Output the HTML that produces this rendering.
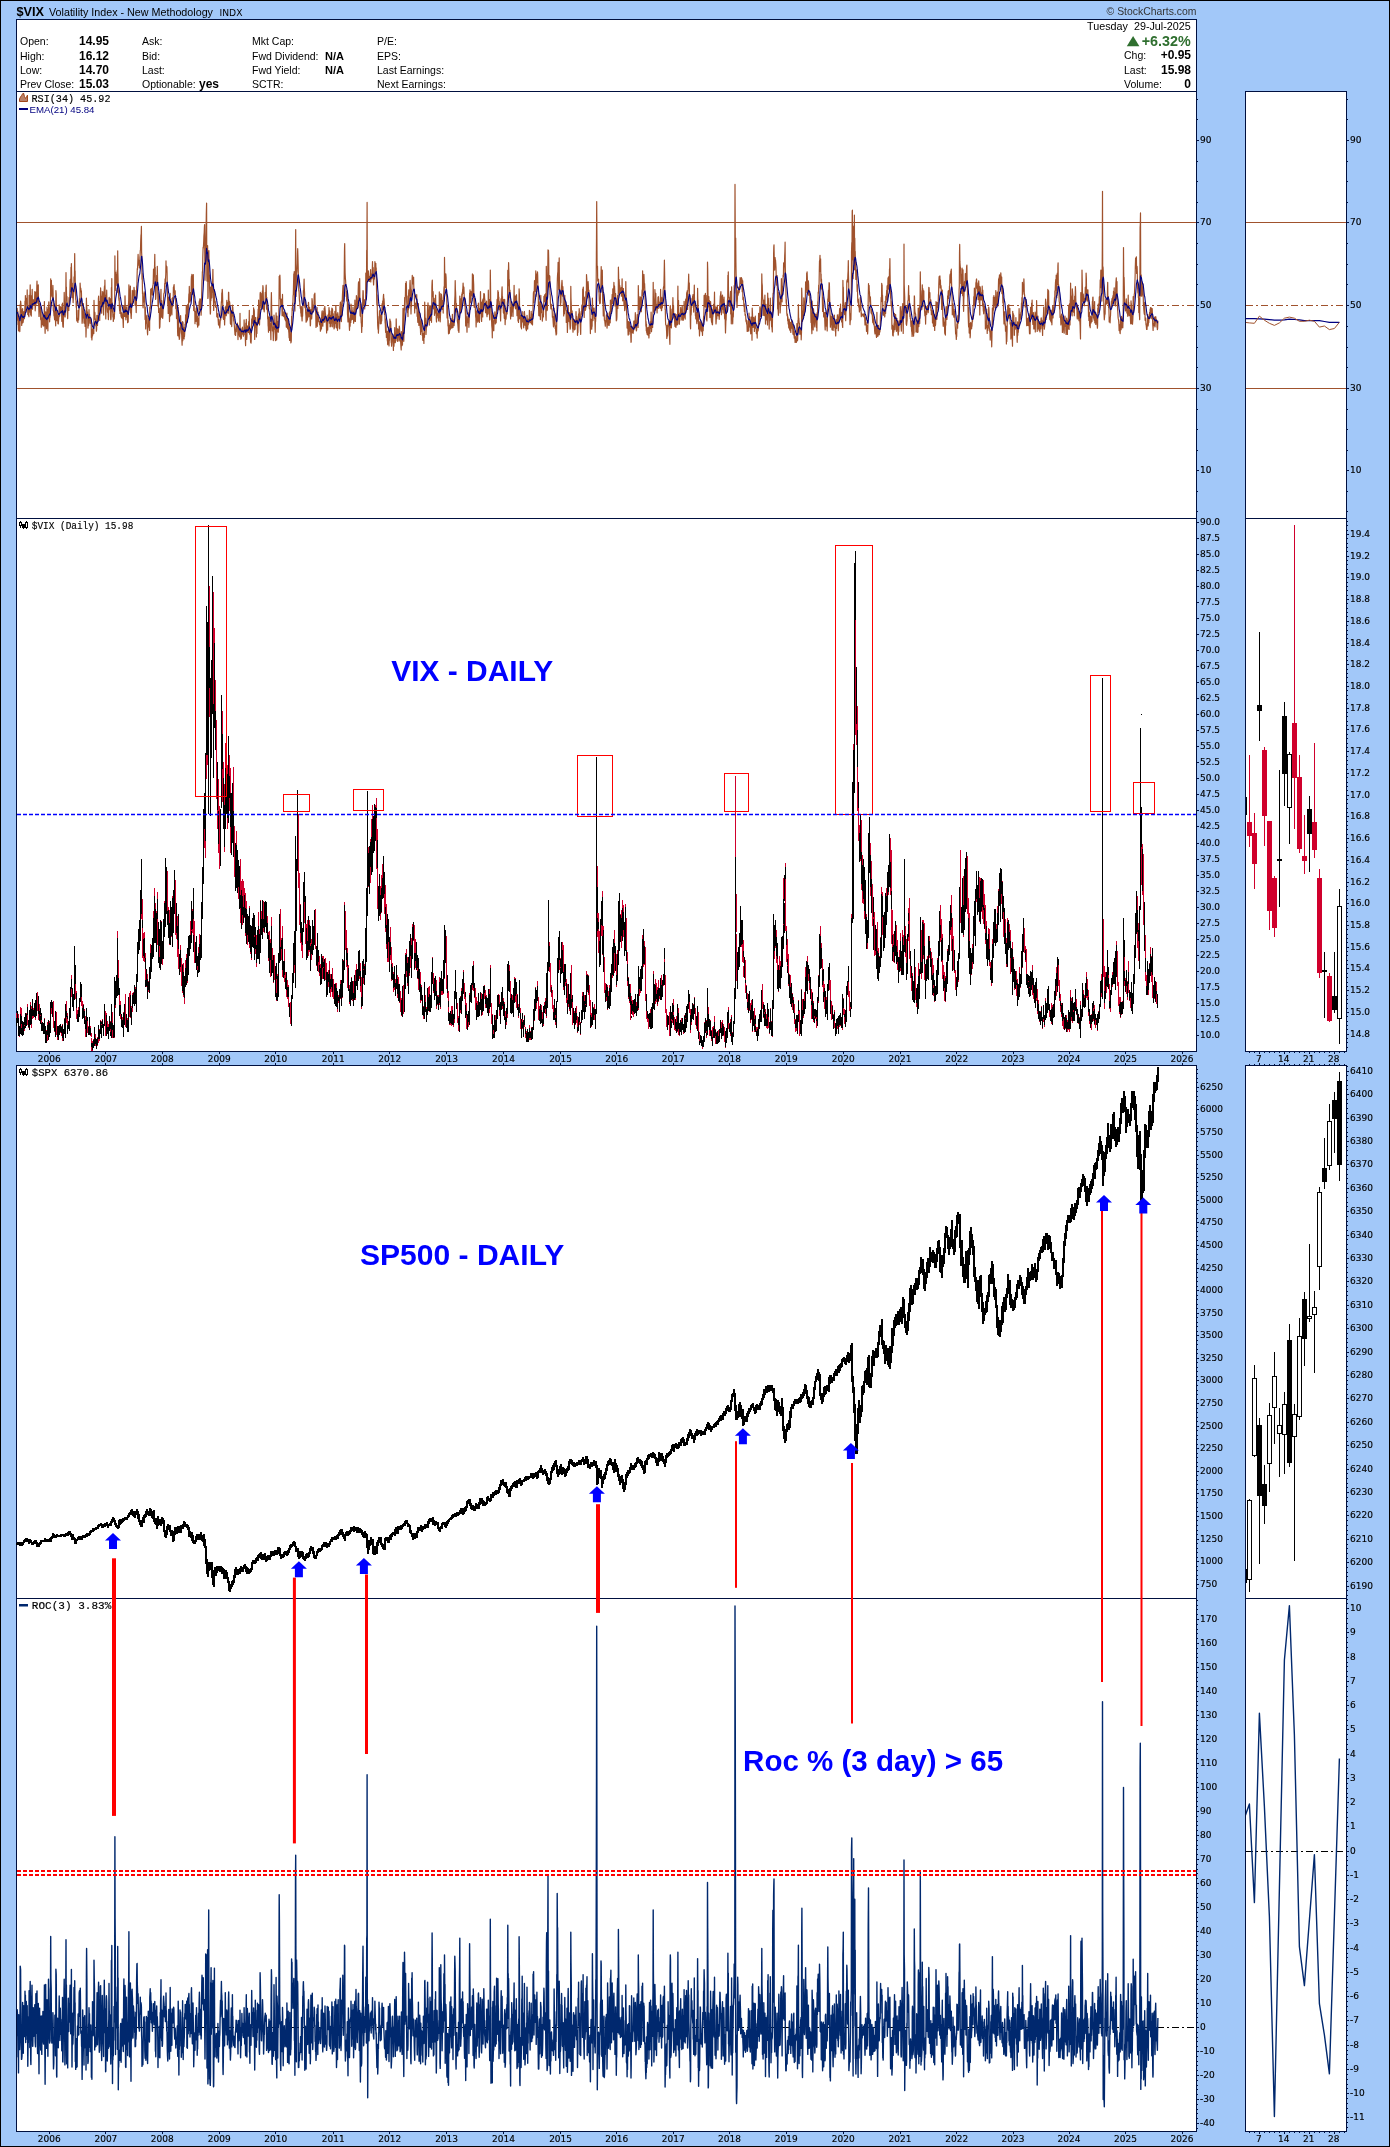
<!DOCTYPE html>
<html><head><meta charset="utf-8"><title>$VIX Volatility Index - StockCharts</title>
<style>html,body{margin:0;padding:0;background:#a2c8f9} svg{display:block;will-change:transform} text{fill:#000} .ax{stroke:#000;stroke-width:0.15px}</style></head>
<body><svg width="1390" height="2147" viewBox="0 0 1390 2147">
<rect x="0" y="0" width="1390" height="2147" fill="#000"/>
<rect x="1" y="1" width="1388" height="2145" fill="#a2c8f9"/>
<rect x="16" y="19" width="1181" height="73" fill="#001040"/>
<rect x="17" y="20" width="1179" height="71" fill="#fff"/>
<rect x="16" y="91" width="1181" height="428" fill="#001040"/>
<rect x="17" y="92" width="1179" height="426" fill="#fff"/>
<rect x="1245" y="91" width="102" height="428" fill="#001040"/>
<rect x="1246" y="92" width="100" height="426" fill="#fff"/>
<rect x="16" y="518" width="1181" height="534" fill="#001040"/>
<rect x="17" y="519" width="1179" height="532" fill="#fff"/>
<rect x="1245" y="518" width="102" height="534" fill="#001040"/>
<rect x="1246" y="519" width="100" height="532" fill="#fff"/>
<rect x="16" y="1065" width="1181" height="534" fill="#001040"/>
<rect x="17" y="1066" width="1179" height="532" fill="#fff"/>
<rect x="1245" y="1065" width="102" height="534" fill="#001040"/>
<rect x="1246" y="1066" width="100" height="532" fill="#fff"/>
<rect x="16" y="1598" width="1181" height="534" fill="#001040"/>
<rect x="17" y="1599" width="1179" height="532" fill="#fff"/>
<rect x="1245" y="1598" width="102" height="534" fill="#001040"/>
<rect x="1246" y="1599" width="100" height="532" fill="#fff"/>
<path d="M1197 511.5h1M1197 491.5h1M1197 470.5h1M1197 450.5h1M1197 429.5h1M1197 409.5h1M1197 388.5h1M1197 367.5h1M1197 347.5h1M1197 326.5h1M1197 305.5h1M1197 284.5h1M1197 264.5h1M1197 243.5h1M1197 222.5h1M1197 202.5h1M1197 181.5h1M1197 161.5h1M1197 140.5h1M1197 119.5h1M1197 99.5h1M1197 140.5h2M1197 222.5h2M1197 305.5h2M1197 388.5h2M1197 470.5h2" stroke="#001040" stroke-width="1" shape-rendering="crispEdges"/>
<text class="ax" x="1200" y="142.8" style="font-family:'DejaVu Sans',sans-serif;font-size:9px">90</text>
<text class="ax" x="1200" y="224.8" style="font-family:'DejaVu Sans',sans-serif;font-size:9px">70</text>
<text class="ax" x="1200" y="307.8" style="font-family:'DejaVu Sans',sans-serif;font-size:9px">50</text>
<text class="ax" x="1200" y="390.8" style="font-family:'DejaVu Sans',sans-serif;font-size:9px">30</text>
<text class="ax" x="1200" y="472.8" style="font-family:'DejaVu Sans',sans-serif;font-size:9px">10</text>
<path d="M1347 511.5h1M1347 491.5h1M1347 470.5h1M1347 450.5h1M1347 429.5h1M1347 409.5h1M1347 388.5h1M1347 367.5h1M1347 347.5h1M1347 326.5h1M1347 305.5h1M1347 284.5h1M1347 264.5h1M1347 243.5h1M1347 222.5h1M1347 202.5h1M1347 181.5h1M1347 161.5h1M1347 140.5h1M1347 119.5h1M1347 99.5h1M1347 140.5h2M1347 222.5h2M1347 305.5h2M1347 388.5h2M1347 470.5h2" stroke="#001040" stroke-width="1" shape-rendering="crispEdges"/>
<text class="ax" x="1350" y="142.8" style="font-family:'DejaVu Sans',sans-serif;font-size:9px">90</text>
<text class="ax" x="1350" y="224.8" style="font-family:'DejaVu Sans',sans-serif;font-size:9px">70</text>
<text class="ax" x="1350" y="307.8" style="font-family:'DejaVu Sans',sans-serif;font-size:9px">50</text>
<text class="ax" x="1350" y="390.8" style="font-family:'DejaVu Sans',sans-serif;font-size:9px">30</text>
<text class="ax" x="1350" y="472.8" style="font-family:'DejaVu Sans',sans-serif;font-size:9px">10</text>
<path d="M1197 1035.5h2M1197 1019.5h2M1197 1003.5h2M1197 987.5h2M1197 971.5h2M1197 955.5h2M1197 939.5h2M1197 923.5h2M1197 907.5h2M1197 891.5h2M1197 875.5h2M1197 859.5h2M1197 843.5h2M1197 826.5h2M1197 810.5h2M1197 794.5h2M1197 778.5h2M1197 762.5h2M1197 746.5h2M1197 730.5h2M1197 714.5h2M1197 698.5h2M1197 682.5h2M1197 666.5h2M1197 650.5h2M1197 634.5h2M1197 618.5h2M1197 602.5h2M1197 586.5h2M1197 570.5h2M1197 554.5h2M1197 538.5h2M1197 522.5h2" stroke="#001040" stroke-width="1" shape-rendering="crispEdges"/>
<text class="ax" x="1200" y="1037.8" style="font-family:'DejaVu Sans',sans-serif;font-size:9px">10.0</text>
<text class="ax" x="1200" y="1021.8" style="font-family:'DejaVu Sans',sans-serif;font-size:9px">12.5</text>
<text class="ax" x="1200" y="1005.8" style="font-family:'DejaVu Sans',sans-serif;font-size:9px">15.0</text>
<text class="ax" x="1200" y="989.8" style="font-family:'DejaVu Sans',sans-serif;font-size:9px">17.5</text>
<text class="ax" x="1200" y="973.8" style="font-family:'DejaVu Sans',sans-serif;font-size:9px">20.0</text>
<text class="ax" x="1200" y="957.8" style="font-family:'DejaVu Sans',sans-serif;font-size:9px">22.5</text>
<text class="ax" x="1200" y="941.8" style="font-family:'DejaVu Sans',sans-serif;font-size:9px">25.0</text>
<text class="ax" x="1200" y="925.8" style="font-family:'DejaVu Sans',sans-serif;font-size:9px">27.5</text>
<text class="ax" x="1200" y="909.8" style="font-family:'DejaVu Sans',sans-serif;font-size:9px">30.0</text>
<text class="ax" x="1200" y="893.8" style="font-family:'DejaVu Sans',sans-serif;font-size:9px">32.5</text>
<text class="ax" x="1200" y="877.8" style="font-family:'DejaVu Sans',sans-serif;font-size:9px">35.0</text>
<text class="ax" x="1200" y="861.8" style="font-family:'DejaVu Sans',sans-serif;font-size:9px">37.5</text>
<text class="ax" x="1200" y="845.8" style="font-family:'DejaVu Sans',sans-serif;font-size:9px">40.0</text>
<text class="ax" x="1200" y="828.8" style="font-family:'DejaVu Sans',sans-serif;font-size:9px">42.5</text>
<text class="ax" x="1200" y="812.8" style="font-family:'DejaVu Sans',sans-serif;font-size:9px">45.0</text>
<text class="ax" x="1200" y="796.8" style="font-family:'DejaVu Sans',sans-serif;font-size:9px">47.5</text>
<text class="ax" x="1200" y="780.8" style="font-family:'DejaVu Sans',sans-serif;font-size:9px">50.0</text>
<text class="ax" x="1200" y="764.8" style="font-family:'DejaVu Sans',sans-serif;font-size:9px">52.5</text>
<text class="ax" x="1200" y="748.8" style="font-family:'DejaVu Sans',sans-serif;font-size:9px">55.0</text>
<text class="ax" x="1200" y="732.8" style="font-family:'DejaVu Sans',sans-serif;font-size:9px">57.5</text>
<text class="ax" x="1200" y="716.8" style="font-family:'DejaVu Sans',sans-serif;font-size:9px">60.0</text>
<text class="ax" x="1200" y="700.8" style="font-family:'DejaVu Sans',sans-serif;font-size:9px">62.5</text>
<text class="ax" x="1200" y="684.8" style="font-family:'DejaVu Sans',sans-serif;font-size:9px">65.0</text>
<text class="ax" x="1200" y="668.8" style="font-family:'DejaVu Sans',sans-serif;font-size:9px">67.5</text>
<text class="ax" x="1200" y="652.8" style="font-family:'DejaVu Sans',sans-serif;font-size:9px">70.0</text>
<text class="ax" x="1200" y="636.8" style="font-family:'DejaVu Sans',sans-serif;font-size:9px">72.5</text>
<text class="ax" x="1200" y="620.8" style="font-family:'DejaVu Sans',sans-serif;font-size:9px">75.0</text>
<text class="ax" x="1200" y="604.8" style="font-family:'DejaVu Sans',sans-serif;font-size:9px">77.5</text>
<text class="ax" x="1200" y="588.8" style="font-family:'DejaVu Sans',sans-serif;font-size:9px">80.0</text>
<text class="ax" x="1200" y="572.8" style="font-family:'DejaVu Sans',sans-serif;font-size:9px">82.5</text>
<text class="ax" x="1200" y="556.8" style="font-family:'DejaVu Sans',sans-serif;font-size:9px">85.0</text>
<text class="ax" x="1200" y="540.8" style="font-family:'DejaVu Sans',sans-serif;font-size:9px">87.5</text>
<text class="ax" x="1200" y="524.8" style="font-family:'DejaVu Sans',sans-serif;font-size:9px">90.0</text>
<path d="M1197 1588.5h1M1197 1584.5h1M1197 1579.5h1M1197 1575.5h1M1197 1570.5h1M1197 1566.5h1M1197 1561.5h1M1197 1557.5h1M1197 1552.5h1M1197 1548.5h1M1197 1543.5h1M1197 1539.5h1M1197 1534.5h1M1197 1530.5h1M1197 1525.5h1M1197 1520.5h1M1197 1516.5h1M1197 1511.5h1M1197 1507.5h1M1197 1502.5h1M1197 1498.5h1M1197 1493.5h1M1197 1489.5h1M1197 1484.5h1M1197 1480.5h1M1197 1475.5h1M1197 1471.5h1M1197 1466.5h1M1197 1462.5h1M1197 1457.5h1M1197 1453.5h1M1197 1448.5h1M1197 1444.5h1M1197 1439.5h1M1197 1435.5h1M1197 1430.5h1M1197 1426.5h1M1197 1421.5h1M1197 1417.5h1M1197 1412.5h1M1197 1408.5h1M1197 1403.5h1M1197 1399.5h1M1197 1394.5h1M1197 1390.5h1M1197 1385.5h1M1197 1380.5h1M1197 1376.5h1M1197 1371.5h1M1197 1367.5h1M1197 1362.5h1M1197 1358.5h1M1197 1353.5h1M1197 1349.5h1M1197 1344.5h1M1197 1340.5h1M1197 1335.5h1M1197 1331.5h1M1197 1326.5h1M1197 1322.5h1M1197 1317.5h1M1197 1313.5h1M1197 1308.5h1M1197 1304.5h1M1197 1299.5h1M1197 1295.5h1M1197 1290.5h1M1197 1286.5h1M1197 1281.5h1M1197 1277.5h1M1197 1272.5h1M1197 1268.5h1M1197 1263.5h1M1197 1259.5h1M1197 1254.5h1M1197 1249.5h1M1197 1245.5h1M1197 1240.5h1M1197 1236.5h1M1197 1231.5h1M1197 1227.5h1M1197 1222.5h1M1197 1218.5h1M1197 1213.5h1M1197 1209.5h1M1197 1204.5h1M1197 1200.5h1M1197 1195.5h1M1197 1191.5h1M1197 1186.5h1M1197 1182.5h1M1197 1177.5h1M1197 1173.5h1M1197 1168.5h1M1197 1164.5h1M1197 1159.5h1M1197 1155.5h1M1197 1150.5h1M1197 1146.5h1M1197 1141.5h1M1197 1137.5h1M1197 1132.5h1M1197 1128.5h1M1197 1123.5h1M1197 1119.5h1M1197 1114.5h1M1197 1109.5h1M1197 1105.5h1M1197 1100.5h1M1197 1096.5h1M1197 1091.5h1M1197 1087.5h1M1197 1082.5h1M1197 1078.5h1M1197 1073.5h1M1197 1069.5h1M1197 1584.5h2M1197 1561.5h2M1197 1539.5h2M1197 1516.5h2M1197 1493.5h2M1197 1471.5h2M1197 1448.5h2M1197 1426.5h2M1197 1403.5h2M1197 1380.5h2M1197 1358.5h2M1197 1335.5h2M1197 1313.5h2M1197 1290.5h2M1197 1268.5h2M1197 1245.5h2M1197 1222.5h2M1197 1200.5h2M1197 1177.5h2M1197 1155.5h2M1197 1132.5h2M1197 1109.5h2M1197 1087.5h2" stroke="#001040" stroke-width="1" shape-rendering="crispEdges"/>
<text class="ax" x="1200" y="1586.8" style="font-family:'DejaVu Sans',sans-serif;font-size:9px">750</text>
<text class="ax" x="1200" y="1563.8" style="font-family:'DejaVu Sans',sans-serif;font-size:9px">1000</text>
<text class="ax" x="1200" y="1541.8" style="font-family:'DejaVu Sans',sans-serif;font-size:9px">1250</text>
<text class="ax" x="1200" y="1518.8" style="font-family:'DejaVu Sans',sans-serif;font-size:9px">1500</text>
<text class="ax" x="1200" y="1495.8" style="font-family:'DejaVu Sans',sans-serif;font-size:9px">1750</text>
<text class="ax" x="1200" y="1473.8" style="font-family:'DejaVu Sans',sans-serif;font-size:9px">2000</text>
<text class="ax" x="1200" y="1450.8" style="font-family:'DejaVu Sans',sans-serif;font-size:9px">2250</text>
<text class="ax" x="1200" y="1428.8" style="font-family:'DejaVu Sans',sans-serif;font-size:9px">2500</text>
<text class="ax" x="1200" y="1405.8" style="font-family:'DejaVu Sans',sans-serif;font-size:9px">2750</text>
<text class="ax" x="1200" y="1382.8" style="font-family:'DejaVu Sans',sans-serif;font-size:9px">3000</text>
<text class="ax" x="1200" y="1360.8" style="font-family:'DejaVu Sans',sans-serif;font-size:9px">3250</text>
<text class="ax" x="1200" y="1337.8" style="font-family:'DejaVu Sans',sans-serif;font-size:9px">3500</text>
<text class="ax" x="1200" y="1315.8" style="font-family:'DejaVu Sans',sans-serif;font-size:9px">3750</text>
<text class="ax" x="1200" y="1292.8" style="font-family:'DejaVu Sans',sans-serif;font-size:9px">4000</text>
<text class="ax" x="1200" y="1270.8" style="font-family:'DejaVu Sans',sans-serif;font-size:9px">4250</text>
<text class="ax" x="1200" y="1247.8" style="font-family:'DejaVu Sans',sans-serif;font-size:9px">4500</text>
<text class="ax" x="1200" y="1224.8" style="font-family:'DejaVu Sans',sans-serif;font-size:9px">4750</text>
<text class="ax" x="1200" y="1202.8" style="font-family:'DejaVu Sans',sans-serif;font-size:9px">5000</text>
<text class="ax" x="1200" y="1179.8" style="font-family:'DejaVu Sans',sans-serif;font-size:9px">5250</text>
<text class="ax" x="1200" y="1157.8" style="font-family:'DejaVu Sans',sans-serif;font-size:9px">5500</text>
<text class="ax" x="1200" y="1134.8" style="font-family:'DejaVu Sans',sans-serif;font-size:9px">5750</text>
<text class="ax" x="1200" y="1111.8" style="font-family:'DejaVu Sans',sans-serif;font-size:9px">6000</text>
<text class="ax" x="1200" y="1089.8" style="font-family:'DejaVu Sans',sans-serif;font-size:9px">6250</text>
<path d="M1197 2128.5h1M1197 2123.5h1M1197 2118.5h1M1197 2113.5h1M1197 2109.5h1M1197 2104.5h1M1197 2099.5h1M1197 2094.5h1M1197 2089.5h1M1197 2085.5h1M1197 2080.5h1M1197 2075.5h1M1197 2070.5h1M1197 2065.5h1M1197 2061.5h1M1197 2056.5h1M1197 2051.5h1M1197 2046.5h1M1197 2041.5h1M1197 2037.5h1M1197 2032.5h1M1197 2027.5h1M1197 2022.5h1M1197 2017.5h1M1197 2013.5h1M1197 2008.5h1M1197 2003.5h1M1197 1998.5h1M1197 1993.5h1M1197 1989.5h1M1197 1984.5h1M1197 1979.5h1M1197 1974.5h1M1197 1969.5h1M1197 1965.5h1M1197 1960.5h1M1197 1955.5h1M1197 1950.5h1M1197 1945.5h1M1197 1941.5h1M1197 1936.5h1M1197 1931.5h1M1197 1926.5h1M1197 1921.5h1M1197 1917.5h1M1197 1912.5h1M1197 1907.5h1M1197 1902.5h1M1197 1897.5h1M1197 1893.5h1M1197 1888.5h1M1197 1883.5h1M1197 1878.5h1M1197 1873.5h1M1197 1869.5h1M1197 1864.5h1M1197 1859.5h1M1197 1854.5h1M1197 1849.5h1M1197 1845.5h1M1197 1840.5h1M1197 1835.5h1M1197 1830.5h1M1197 1825.5h1M1197 1821.5h1M1197 1816.5h1M1197 1811.5h1M1197 1806.5h1M1197 1801.5h1M1197 1797.5h1M1197 1792.5h1M1197 1787.5h1M1197 1782.5h1M1197 1777.5h1M1197 1773.5h1M1197 1768.5h1M1197 1763.5h1M1197 1758.5h1M1197 1753.5h1M1197 1749.5h1M1197 1744.5h1M1197 1739.5h1M1197 1734.5h1M1197 1729.5h1M1197 1725.5h1M1197 1720.5h1M1197 1715.5h1M1197 1710.5h1M1197 1705.5h1M1197 1701.5h1M1197 1696.5h1M1197 1691.5h1M1197 1686.5h1M1197 1681.5h1M1197 1677.5h1M1197 1672.5h1M1197 1667.5h1M1197 1662.5h1M1197 1657.5h1M1197 1653.5h1M1197 1648.5h1M1197 1643.5h1M1197 1638.5h1M1197 1633.5h1M1197 1629.5h1M1197 1624.5h1M1197 1619.5h1M1197 1614.5h1M1197 1609.5h1M1197 1605.5h1M1197 1600.5h1M1197 2123.5h2M1197 2099.5h2M1197 2075.5h2M1197 2051.5h2M1197 2027.5h2M1197 2003.5h2M1197 1979.5h2M1197 1955.5h2M1197 1931.5h2M1197 1907.5h2M1197 1883.5h2M1197 1859.5h2M1197 1835.5h2M1197 1811.5h2M1197 1787.5h2M1197 1763.5h2M1197 1739.5h2M1197 1715.5h2M1197 1691.5h2M1197 1667.5h2M1197 1643.5h2M1197 1619.5h2" stroke="#001040" stroke-width="1" shape-rendering="crispEdges"/>
<text class="ax" x="1200" y="2125.8" style="font-family:'DejaVu Sans',sans-serif;font-size:9px">-40</text>
<text class="ax" x="1200" y="2101.8" style="font-family:'DejaVu Sans',sans-serif;font-size:9px">-30</text>
<text class="ax" x="1200" y="2077.8" style="font-family:'DejaVu Sans',sans-serif;font-size:9px">-20</text>
<text class="ax" x="1200" y="2053.8" style="font-family:'DejaVu Sans',sans-serif;font-size:9px">-10</text>
<text class="ax" x="1200" y="2029.8" style="font-family:'DejaVu Sans',sans-serif;font-size:9px">0</text>
<text class="ax" x="1200" y="2005.8" style="font-family:'DejaVu Sans',sans-serif;font-size:9px">10</text>
<text class="ax" x="1200" y="1981.8" style="font-family:'DejaVu Sans',sans-serif;font-size:9px">20</text>
<text class="ax" x="1200" y="1957.8" style="font-family:'DejaVu Sans',sans-serif;font-size:9px">30</text>
<text class="ax" x="1200" y="1933.8" style="font-family:'DejaVu Sans',sans-serif;font-size:9px">40</text>
<text class="ax" x="1200" y="1909.8" style="font-family:'DejaVu Sans',sans-serif;font-size:9px">50</text>
<text class="ax" x="1200" y="1885.8" style="font-family:'DejaVu Sans',sans-serif;font-size:9px">60</text>
<text class="ax" x="1200" y="1861.8" style="font-family:'DejaVu Sans',sans-serif;font-size:9px">70</text>
<text class="ax" x="1200" y="1837.8" style="font-family:'DejaVu Sans',sans-serif;font-size:9px">80</text>
<text class="ax" x="1200" y="1813.8" style="font-family:'DejaVu Sans',sans-serif;font-size:9px">90</text>
<text class="ax" x="1200" y="1789.8" style="font-family:'DejaVu Sans',sans-serif;font-size:9px">100</text>
<text class="ax" x="1200" y="1765.8" style="font-family:'DejaVu Sans',sans-serif;font-size:9px">110</text>
<text class="ax" x="1200" y="1741.8" style="font-family:'DejaVu Sans',sans-serif;font-size:9px">120</text>
<text class="ax" x="1200" y="1717.8" style="font-family:'DejaVu Sans',sans-serif;font-size:9px">130</text>
<text class="ax" x="1200" y="1693.8" style="font-family:'DejaVu Sans',sans-serif;font-size:9px">140</text>
<text class="ax" x="1200" y="1669.8" style="font-family:'DejaVu Sans',sans-serif;font-size:9px">150</text>
<text class="ax" x="1200" y="1645.8" style="font-family:'DejaVu Sans',sans-serif;font-size:9px">160</text>
<text class="ax" x="1200" y="1621.8" style="font-family:'DejaVu Sans',sans-serif;font-size:9px">170</text>
<path d="M1347 1047.5h1M1347 1042.5h1M1347 1038.5h1M1347 1034.5h1M1347 1029.5h1M1347 1025.5h1M1347 1021.5h1M1347 1016.5h1M1347 1012.5h1M1347 1008.5h1M1347 1003.5h1M1347 999.5h1M1347 995.5h1M1347 990.5h1M1347 986.5h1M1347 982.5h1M1347 977.5h1M1347 973.5h1M1347 968.5h1M1347 964.5h1M1347 960.5h1M1347 955.5h1M1347 951.5h1M1347 947.5h1M1347 942.5h1M1347 938.5h1M1347 934.5h1M1347 929.5h1M1347 925.5h1M1347 921.5h1M1347 916.5h1M1347 912.5h1M1347 908.5h1M1347 903.5h1M1347 899.5h1M1347 895.5h1M1347 890.5h1M1347 886.5h1M1347 882.5h1M1347 877.5h1M1347 873.5h1M1347 869.5h1M1347 864.5h1M1347 860.5h1M1347 856.5h1M1347 851.5h1M1347 847.5h1M1347 842.5h1M1347 838.5h1M1347 834.5h1M1347 829.5h1M1347 825.5h1M1347 821.5h1M1347 816.5h1M1347 812.5h1M1347 808.5h1M1347 803.5h1M1347 799.5h1M1347 795.5h1M1347 790.5h1M1347 786.5h1M1347 782.5h1M1347 777.5h1M1347 773.5h1M1347 769.5h1M1347 764.5h1M1347 760.5h1M1347 756.5h1M1347 751.5h1M1347 747.5h1M1347 743.5h1M1347 738.5h1M1347 734.5h1M1347 729.5h1M1347 725.5h1M1347 721.5h1M1347 716.5h1M1347 712.5h1M1347 708.5h1M1347 703.5h1M1347 699.5h1M1347 695.5h1M1347 690.5h1M1347 686.5h1M1347 682.5h1M1347 677.5h1M1347 673.5h1M1347 669.5h1M1347 664.5h1M1347 660.5h1M1347 656.5h1M1347 651.5h1M1347 647.5h1M1347 643.5h1M1347 638.5h1M1347 634.5h1M1347 630.5h1M1347 625.5h1M1347 621.5h1M1347 616.5h1M1347 612.5h1M1347 608.5h1M1347 603.5h1M1347 599.5h1M1347 595.5h1M1347 590.5h1M1347 586.5h1M1347 582.5h1M1347 577.5h1M1347 573.5h1M1347 569.5h1M1347 564.5h1M1347 560.5h1M1347 556.5h1M1347 551.5h1M1347 547.5h1M1347 543.5h1M1347 538.5h1M1347 534.5h1M1347 530.5h1M1347 525.5h1M1347 521.5h1M1347 1034.5h2M1347 1012.5h2M1347 990.5h2M1347 968.5h2M1347 947.5h2M1347 925.5h2M1347 903.5h2M1347 882.5h2M1347 860.5h2M1347 838.5h2M1347 816.5h2M1347 795.5h2M1347 773.5h2M1347 751.5h2M1347 729.5h2M1347 708.5h2M1347 686.5h2M1347 664.5h2M1347 643.5h2M1347 621.5h2M1347 599.5h2M1347 577.5h2M1347 556.5h2M1347 534.5h2" stroke="#001040" stroke-width="1" shape-rendering="crispEdges"/>
<text class="ax" x="1350" y="1036.8" style="font-family:'DejaVu Sans',sans-serif;font-size:9px">14.8</text>
<text class="ax" x="1350" y="1014.8" style="font-family:'DejaVu Sans',sans-serif;font-size:9px">15.0</text>
<text class="ax" x="1350" y="992.8" style="font-family:'DejaVu Sans',sans-serif;font-size:9px">15.2</text>
<text class="ax" x="1350" y="970.8" style="font-family:'DejaVu Sans',sans-serif;font-size:9px">15.4</text>
<text class="ax" x="1350" y="949.8" style="font-family:'DejaVu Sans',sans-serif;font-size:9px">15.6</text>
<text class="ax" x="1350" y="927.8" style="font-family:'DejaVu Sans',sans-serif;font-size:9px">15.8</text>
<text class="ax" x="1350" y="905.8" style="font-family:'DejaVu Sans',sans-serif;font-size:9px">16.0</text>
<text class="ax" x="1350" y="884.8" style="font-family:'DejaVu Sans',sans-serif;font-size:9px">16.2</text>
<text class="ax" x="1350" y="862.8" style="font-family:'DejaVu Sans',sans-serif;font-size:9px">16.4</text>
<text class="ax" x="1350" y="840.8" style="font-family:'DejaVu Sans',sans-serif;font-size:9px">16.6</text>
<text class="ax" x="1350" y="818.8" style="font-family:'DejaVu Sans',sans-serif;font-size:9px">16.8</text>
<text class="ax" x="1350" y="797.8" style="font-family:'DejaVu Sans',sans-serif;font-size:9px">17.0</text>
<text class="ax" x="1350" y="775.8" style="font-family:'DejaVu Sans',sans-serif;font-size:9px">17.2</text>
<text class="ax" x="1350" y="753.8" style="font-family:'DejaVu Sans',sans-serif;font-size:9px">17.4</text>
<text class="ax" x="1350" y="731.8" style="font-family:'DejaVu Sans',sans-serif;font-size:9px">17.6</text>
<text class="ax" x="1350" y="710.8" style="font-family:'DejaVu Sans',sans-serif;font-size:9px">17.8</text>
<text class="ax" x="1350" y="688.8" style="font-family:'DejaVu Sans',sans-serif;font-size:9px">18.0</text>
<text class="ax" x="1350" y="666.8" style="font-family:'DejaVu Sans',sans-serif;font-size:9px">18.2</text>
<text class="ax" x="1350" y="645.8" style="font-family:'DejaVu Sans',sans-serif;font-size:9px">18.4</text>
<text class="ax" x="1350" y="623.8" style="font-family:'DejaVu Sans',sans-serif;font-size:9px">18.6</text>
<text class="ax" x="1350" y="601.8" style="font-family:'DejaVu Sans',sans-serif;font-size:9px">18.8</text>
<text class="ax" x="1350" y="579.8" style="font-family:'DejaVu Sans',sans-serif;font-size:9px">19.0</text>
<text class="ax" x="1350" y="558.8" style="font-family:'DejaVu Sans',sans-serif;font-size:9px">19.2</text>
<text class="ax" x="1350" y="536.8" style="font-family:'DejaVu Sans',sans-serif;font-size:9px">19.4</text>
<path d="M1347 1595.5h1M1347 1590.5h1M1347 1586.5h1M1347 1581.5h1M1347 1576.5h1M1347 1572.5h1M1347 1567.5h1M1347 1562.5h1M1347 1558.5h1M1347 1553.5h1M1347 1548.5h1M1347 1544.5h1M1347 1539.5h1M1347 1534.5h1M1347 1530.5h1M1347 1525.5h1M1347 1520.5h1M1347 1515.5h1M1347 1511.5h1M1347 1506.5h1M1347 1501.5h1M1347 1497.5h1M1347 1492.5h1M1347 1487.5h1M1347 1483.5h1M1347 1478.5h1M1347 1473.5h1M1347 1469.5h1M1347 1464.5h1M1347 1459.5h1M1347 1455.5h1M1347 1450.5h1M1347 1445.5h1M1347 1441.5h1M1347 1436.5h1M1347 1431.5h1M1347 1427.5h1M1347 1422.5h1M1347 1417.5h1M1347 1412.5h1M1347 1408.5h1M1347 1403.5h1M1347 1398.5h1M1347 1394.5h1M1347 1389.5h1M1347 1384.5h1M1347 1380.5h1M1347 1375.5h1M1347 1370.5h1M1347 1366.5h1M1347 1361.5h1M1347 1356.5h1M1347 1352.5h1M1347 1347.5h1M1347 1342.5h1M1347 1338.5h1M1347 1333.5h1M1347 1328.5h1M1347 1324.5h1M1347 1319.5h1M1347 1314.5h1M1347 1309.5h1M1347 1305.5h1M1347 1300.5h1M1347 1295.5h1M1347 1291.5h1M1347 1286.5h1M1347 1281.5h1M1347 1277.5h1M1347 1272.5h1M1347 1267.5h1M1347 1263.5h1M1347 1258.5h1M1347 1253.5h1M1347 1249.5h1M1347 1244.5h1M1347 1239.5h1M1347 1235.5h1M1347 1230.5h1M1347 1225.5h1M1347 1221.5h1M1347 1216.5h1M1347 1211.5h1M1347 1206.5h1M1347 1202.5h1M1347 1197.5h1M1347 1192.5h1M1347 1188.5h1M1347 1183.5h1M1347 1178.5h1M1347 1174.5h1M1347 1169.5h1M1347 1164.5h1M1347 1160.5h1M1347 1155.5h1M1347 1150.5h1M1347 1146.5h1M1347 1141.5h1M1347 1136.5h1M1347 1132.5h1M1347 1127.5h1M1347 1122.5h1M1347 1118.5h1M1347 1113.5h1M1347 1108.5h1M1347 1103.5h1M1347 1099.5h1M1347 1094.5h1M1347 1089.5h1M1347 1085.5h1M1347 1080.5h1M1347 1075.5h1M1347 1071.5h1M1347 1066.5h1M1347 1586.5h2M1347 1562.5h2M1347 1539.5h2M1347 1515.5h2M1347 1492.5h2M1347 1469.5h2M1347 1445.5h2M1347 1422.5h2M1347 1398.5h2M1347 1375.5h2M1347 1352.5h2M1347 1328.5h2M1347 1305.5h2M1347 1281.5h2M1347 1258.5h2M1347 1235.5h2M1347 1211.5h2M1347 1188.5h2M1347 1164.5h2M1347 1141.5h2M1347 1118.5h2M1347 1094.5h2M1347 1071.5h2" stroke="#001040" stroke-width="1" shape-rendering="crispEdges"/>
<text class="ax" x="1350" y="1588.8" style="font-family:'DejaVu Sans',sans-serif;font-size:9px">6190</text>
<text class="ax" x="1350" y="1564.8" style="font-family:'DejaVu Sans',sans-serif;font-size:9px">6200</text>
<text class="ax" x="1350" y="1541.8" style="font-family:'DejaVu Sans',sans-serif;font-size:9px">6210</text>
<text class="ax" x="1350" y="1517.8" style="font-family:'DejaVu Sans',sans-serif;font-size:9px">6220</text>
<text class="ax" x="1350" y="1494.8" style="font-family:'DejaVu Sans',sans-serif;font-size:9px">6230</text>
<text class="ax" x="1350" y="1471.8" style="font-family:'DejaVu Sans',sans-serif;font-size:9px">6240</text>
<text class="ax" x="1350" y="1447.8" style="font-family:'DejaVu Sans',sans-serif;font-size:9px">6250</text>
<text class="ax" x="1350" y="1424.8" style="font-family:'DejaVu Sans',sans-serif;font-size:9px">6260</text>
<text class="ax" x="1350" y="1400.8" style="font-family:'DejaVu Sans',sans-serif;font-size:9px">6270</text>
<text class="ax" x="1350" y="1377.8" style="font-family:'DejaVu Sans',sans-serif;font-size:9px">6280</text>
<text class="ax" x="1350" y="1354.8" style="font-family:'DejaVu Sans',sans-serif;font-size:9px">6290</text>
<text class="ax" x="1350" y="1330.8" style="font-family:'DejaVu Sans',sans-serif;font-size:9px">6300</text>
<text class="ax" x="1350" y="1307.8" style="font-family:'DejaVu Sans',sans-serif;font-size:9px">6310</text>
<text class="ax" x="1350" y="1283.8" style="font-family:'DejaVu Sans',sans-serif;font-size:9px">6320</text>
<text class="ax" x="1350" y="1260.8" style="font-family:'DejaVu Sans',sans-serif;font-size:9px">6330</text>
<text class="ax" x="1350" y="1237.8" style="font-family:'DejaVu Sans',sans-serif;font-size:9px">6340</text>
<text class="ax" x="1350" y="1213.8" style="font-family:'DejaVu Sans',sans-serif;font-size:9px">6350</text>
<text class="ax" x="1350" y="1190.8" style="font-family:'DejaVu Sans',sans-serif;font-size:9px">6360</text>
<text class="ax" x="1350" y="1166.8" style="font-family:'DejaVu Sans',sans-serif;font-size:9px">6370</text>
<text class="ax" x="1350" y="1143.8" style="font-family:'DejaVu Sans',sans-serif;font-size:9px">6380</text>
<text class="ax" x="1350" y="1120.8" style="font-family:'DejaVu Sans',sans-serif;font-size:9px">6390</text>
<text class="ax" x="1350" y="1096.8" style="font-family:'DejaVu Sans',sans-serif;font-size:9px">6400</text>
<text class="ax" x="1350" y="1073.8" style="font-family:'DejaVu Sans',sans-serif;font-size:9px">6410</text>
<path d="M1347 2127.5h1M1347 2122.5h1M1347 2117.5h1M1347 2113.5h1M1347 2108.5h1M1347 2103.5h1M1347 2098.5h1M1347 2093.5h1M1347 2088.5h1M1347 2084.5h1M1347 2079.5h1M1347 2074.5h1M1347 2069.5h1M1347 2064.5h1M1347 2059.5h1M1347 2054.5h1M1347 2050.5h1M1347 2045.5h1M1347 2040.5h1M1347 2035.5h1M1347 2030.5h1M1347 2025.5h1M1347 2020.5h1M1347 2016.5h1M1347 2011.5h1M1347 2006.5h1M1347 2001.5h1M1347 1996.5h1M1347 1991.5h1M1347 1987.5h1M1347 1982.5h1M1347 1977.5h1M1347 1972.5h1M1347 1967.5h1M1347 1962.5h1M1347 1957.5h1M1347 1953.5h1M1347 1948.5h1M1347 1943.5h1M1347 1938.5h1M1347 1933.5h1M1347 1928.5h1M1347 1923.5h1M1347 1919.5h1M1347 1914.5h1M1347 1909.5h1M1347 1904.5h1M1347 1899.5h1M1347 1894.5h1M1347 1890.5h1M1347 1885.5h1M1347 1880.5h1M1347 1875.5h1M1347 1870.5h1M1347 1865.5h1M1347 1860.5h1M1347 1856.5h1M1347 1851.5h1M1347 1846.5h1M1347 1841.5h1M1347 1836.5h1M1347 1831.5h1M1347 1826.5h1M1347 1822.5h1M1347 1817.5h1M1347 1812.5h1M1347 1807.5h1M1347 1802.5h1M1347 1797.5h1M1347 1793.5h1M1347 1788.5h1M1347 1783.5h1M1347 1778.5h1M1347 1773.5h1M1347 1768.5h1M1347 1763.5h1M1347 1759.5h1M1347 1754.5h1M1347 1749.5h1M1347 1744.5h1M1347 1739.5h1M1347 1734.5h1M1347 1729.5h1M1347 1725.5h1M1347 1720.5h1M1347 1715.5h1M1347 1710.5h1M1347 1705.5h1M1347 1700.5h1M1347 1696.5h1M1347 1691.5h1M1347 1686.5h1M1347 1681.5h1M1347 1676.5h1M1347 1671.5h1M1347 1666.5h1M1347 1662.5h1M1347 1657.5h1M1347 1652.5h1M1347 1647.5h1M1347 1642.5h1M1347 1637.5h1M1347 1632.5h1M1347 1628.5h1M1347 1623.5h1M1347 1618.5h1M1347 1613.5h1M1347 1608.5h1M1347 1603.5h1M1347 1599.5h1M1347 2117.5h2M1347 2093.5h2M1347 2069.5h2M1347 2045.5h2M1347 2020.5h2M1347 1996.5h2M1347 1972.5h2M1347 1948.5h2M1347 1923.5h2M1347 1899.5h2M1347 1875.5h2M1347 1851.5h2M1347 1826.5h2M1347 1802.5h2M1347 1778.5h2M1347 1754.5h2M1347 1729.5h2M1347 1705.5h2M1347 1681.5h2M1347 1657.5h2M1347 1632.5h2M1347 1608.5h2" stroke="#001040" stroke-width="1" shape-rendering="crispEdges"/>
<text class="ax" x="1350" y="2119.8" style="font-family:'DejaVu Sans',sans-serif;font-size:9px">-11</text>
<text class="ax" x="1350" y="2095.8" style="font-family:'DejaVu Sans',sans-serif;font-size:9px">-10</text>
<text class="ax" x="1350" y="2071.8" style="font-family:'DejaVu Sans',sans-serif;font-size:9px">-9</text>
<text class="ax" x="1350" y="2047.8" style="font-family:'DejaVu Sans',sans-serif;font-size:9px">-8</text>
<text class="ax" x="1350" y="2022.8" style="font-family:'DejaVu Sans',sans-serif;font-size:9px">-7</text>
<text class="ax" x="1350" y="1998.8" style="font-family:'DejaVu Sans',sans-serif;font-size:9px">-6</text>
<text class="ax" x="1350" y="1974.8" style="font-family:'DejaVu Sans',sans-serif;font-size:9px">-5</text>
<text class="ax" x="1350" y="1950.8" style="font-family:'DejaVu Sans',sans-serif;font-size:9px">-4</text>
<text class="ax" x="1350" y="1925.8" style="font-family:'DejaVu Sans',sans-serif;font-size:9px">-3</text>
<text class="ax" x="1350" y="1901.8" style="font-family:'DejaVu Sans',sans-serif;font-size:9px">-2</text>
<text class="ax" x="1350" y="1877.8" style="font-family:'DejaVu Sans',sans-serif;font-size:9px">-1</text>
<text class="ax" x="1350" y="1853.8" style="font-family:'DejaVu Sans',sans-serif;font-size:9px">0</text>
<text class="ax" x="1350" y="1828.8" style="font-family:'DejaVu Sans',sans-serif;font-size:9px">1</text>
<text class="ax" x="1350" y="1804.8" style="font-family:'DejaVu Sans',sans-serif;font-size:9px">2</text>
<text class="ax" x="1350" y="1780.8" style="font-family:'DejaVu Sans',sans-serif;font-size:9px">3</text>
<text class="ax" x="1350" y="1756.8" style="font-family:'DejaVu Sans',sans-serif;font-size:9px">4</text>
<text class="ax" x="1350" y="1731.8" style="font-family:'DejaVu Sans',sans-serif;font-size:9px">5</text>
<text class="ax" x="1350" y="1707.8" style="font-family:'DejaVu Sans',sans-serif;font-size:9px">6</text>
<text class="ax" x="1350" y="1683.8" style="font-family:'DejaVu Sans',sans-serif;font-size:9px">7</text>
<text class="ax" x="1350" y="1659.8" style="font-family:'DejaVu Sans',sans-serif;font-size:9px">8</text>
<text class="ax" x="1350" y="1634.8" style="font-family:'DejaVu Sans',sans-serif;font-size:9px">9</text>
<text class="ax" x="1350" y="1610.8" style="font-family:'DejaVu Sans',sans-serif;font-size:9px">10</text>
<text class="ax" x="49.3" y="1062" text-anchor="middle" style="font-family:'DejaVu Sans',sans-serif;font-size:9px">2006</text>
<text class="ax" x="105.9" y="1062" text-anchor="middle" style="font-family:'DejaVu Sans',sans-serif;font-size:9px">2007</text>
<text class="ax" x="162.2" y="1062" text-anchor="middle" style="font-family:'DejaVu Sans',sans-serif;font-size:9px">2008</text>
<text class="ax" x="219.3" y="1062" text-anchor="middle" style="font-family:'DejaVu Sans',sans-serif;font-size:9px">2009</text>
<text class="ax" x="275.8" y="1062" text-anchor="middle" style="font-family:'DejaVu Sans',sans-serif;font-size:9px">2010</text>
<text class="ax" x="333.3" y="1062" text-anchor="middle" style="font-family:'DejaVu Sans',sans-serif;font-size:9px">2011</text>
<text class="ax" x="389.8" y="1062" text-anchor="middle" style="font-family:'DejaVu Sans',sans-serif;font-size:9px">2012</text>
<text class="ax" x="446.6" y="1062" text-anchor="middle" style="font-family:'DejaVu Sans',sans-serif;font-size:9px">2013</text>
<text class="ax" x="503.5" y="1062" text-anchor="middle" style="font-family:'DejaVu Sans',sans-serif;font-size:9px">2014</text>
<text class="ax" x="560.6" y="1062" text-anchor="middle" style="font-family:'DejaVu Sans',sans-serif;font-size:9px">2015</text>
<text class="ax" x="616.8" y="1062" text-anchor="middle" style="font-family:'DejaVu Sans',sans-serif;font-size:9px">2016</text>
<text class="ax" x="673.2" y="1062" text-anchor="middle" style="font-family:'DejaVu Sans',sans-serif;font-size:9px">2017</text>
<text class="ax" x="729.5" y="1062" text-anchor="middle" style="font-family:'DejaVu Sans',sans-serif;font-size:9px">2018</text>
<text class="ax" x="786.3" y="1062" text-anchor="middle" style="font-family:'DejaVu Sans',sans-serif;font-size:9px">2019</text>
<text class="ax" x="843.2" y="1062" text-anchor="middle" style="font-family:'DejaVu Sans',sans-serif;font-size:9px">2020</text>
<text class="ax" x="900.0" y="1062" text-anchor="middle" style="font-family:'DejaVu Sans',sans-serif;font-size:9px">2021</text>
<text class="ax" x="956.8" y="1062" text-anchor="middle" style="font-family:'DejaVu Sans',sans-serif;font-size:9px">2022</text>
<text class="ax" x="1013.0" y="1062" text-anchor="middle" style="font-family:'DejaVu Sans',sans-serif;font-size:9px">2023</text>
<text class="ax" x="1069.0" y="1062" text-anchor="middle" style="font-family:'DejaVu Sans',sans-serif;font-size:9px">2024</text>
<text class="ax" x="1125.5" y="1062" text-anchor="middle" style="font-family:'DejaVu Sans',sans-serif;font-size:9px">2025</text>
<text class="ax" x="1182.0" y="1062" text-anchor="middle" style="font-family:'DejaVu Sans',sans-serif;font-size:9px">2026</text>
<path d="M49.5 1052v2M49.5 1063v2M105.5 1052v2M105.5 1063v2M162.5 1052v2M162.5 1063v2M219.5 1052v2M219.5 1063v2M275.5 1052v2M275.5 1063v2M333.5 1052v2M333.5 1063v2M389.5 1052v2M389.5 1063v2M446.5 1052v2M446.5 1063v2M503.5 1052v2M503.5 1063v2M560.5 1052v2M560.5 1063v2M616.5 1052v2M616.5 1063v2M673.5 1052v2M673.5 1063v2M729.5 1052v2M729.5 1063v2M786.5 1052v2M786.5 1063v2M843.5 1052v2M843.5 1063v2M900.5 1052v2M900.5 1063v2M956.5 1052v2M956.5 1063v2M1013.5 1052v2M1013.5 1063v2M1069.5 1052v2M1069.5 1063v2M1125.5 1052v2M1125.5 1063v2M1182.5 1052v2M1182.5 1063v2" stroke="#001040" stroke-width="1" shape-rendering="crispEdges"/>
<text class="ax" x="49.3" y="2142" text-anchor="middle" style="font-family:'DejaVu Sans',sans-serif;font-size:9px">2006</text>
<text class="ax" x="105.9" y="2142" text-anchor="middle" style="font-family:'DejaVu Sans',sans-serif;font-size:9px">2007</text>
<text class="ax" x="162.2" y="2142" text-anchor="middle" style="font-family:'DejaVu Sans',sans-serif;font-size:9px">2008</text>
<text class="ax" x="219.3" y="2142" text-anchor="middle" style="font-family:'DejaVu Sans',sans-serif;font-size:9px">2009</text>
<text class="ax" x="275.8" y="2142" text-anchor="middle" style="font-family:'DejaVu Sans',sans-serif;font-size:9px">2010</text>
<text class="ax" x="333.3" y="2142" text-anchor="middle" style="font-family:'DejaVu Sans',sans-serif;font-size:9px">2011</text>
<text class="ax" x="389.8" y="2142" text-anchor="middle" style="font-family:'DejaVu Sans',sans-serif;font-size:9px">2012</text>
<text class="ax" x="446.6" y="2142" text-anchor="middle" style="font-family:'DejaVu Sans',sans-serif;font-size:9px">2013</text>
<text class="ax" x="503.5" y="2142" text-anchor="middle" style="font-family:'DejaVu Sans',sans-serif;font-size:9px">2014</text>
<text class="ax" x="560.6" y="2142" text-anchor="middle" style="font-family:'DejaVu Sans',sans-serif;font-size:9px">2015</text>
<text class="ax" x="616.8" y="2142" text-anchor="middle" style="font-family:'DejaVu Sans',sans-serif;font-size:9px">2016</text>
<text class="ax" x="673.2" y="2142" text-anchor="middle" style="font-family:'DejaVu Sans',sans-serif;font-size:9px">2017</text>
<text class="ax" x="729.5" y="2142" text-anchor="middle" style="font-family:'DejaVu Sans',sans-serif;font-size:9px">2018</text>
<text class="ax" x="786.3" y="2142" text-anchor="middle" style="font-family:'DejaVu Sans',sans-serif;font-size:9px">2019</text>
<text class="ax" x="843.2" y="2142" text-anchor="middle" style="font-family:'DejaVu Sans',sans-serif;font-size:9px">2020</text>
<text class="ax" x="900.0" y="2142" text-anchor="middle" style="font-family:'DejaVu Sans',sans-serif;font-size:9px">2021</text>
<text class="ax" x="956.8" y="2142" text-anchor="middle" style="font-family:'DejaVu Sans',sans-serif;font-size:9px">2022</text>
<text class="ax" x="1013.0" y="2142" text-anchor="middle" style="font-family:'DejaVu Sans',sans-serif;font-size:9px">2023</text>
<text class="ax" x="1069.0" y="2142" text-anchor="middle" style="font-family:'DejaVu Sans',sans-serif;font-size:9px">2024</text>
<text class="ax" x="1125.5" y="2142" text-anchor="middle" style="font-family:'DejaVu Sans',sans-serif;font-size:9px">2025</text>
<text class="ax" x="1182.0" y="2142" text-anchor="middle" style="font-family:'DejaVu Sans',sans-serif;font-size:9px">2026</text>
<path d="M49.5 2132v2M105.5 2132v2M162.5 2132v2M219.5 2132v2M275.5 2132v2M333.5 2132v2M389.5 2132v2M446.5 2132v2M503.5 2132v2M560.5 2132v2M616.5 2132v2M673.5 2132v2M729.5 2132v2M786.5 2132v2M843.5 2132v2M900.5 2132v2M956.5 2132v2M1013.5 2132v2M1069.5 2132v2M1125.5 2132v2M1182.5 2132v2" stroke="#001040" stroke-width="1" shape-rendering="crispEdges"/>
<path d="M1249.5 1052v1M1249.5 1064v1M1254.5 1052v1M1254.5 1064v1M1259.5 1052v2M1259.5 1063v2M1264.5 1052v1M1264.5 1064v1M1269.5 1052v1M1269.5 1064v1M1274.5 1052v1M1274.5 1064v1M1279.5 1052v1M1279.5 1064v1M1284.5 1052v2M1284.5 1063v2M1289.5 1052v1M1289.5 1064v1M1294.5 1052v1M1294.5 1064v1M1299.5 1052v1M1299.5 1064v1M1304.5 1052v1M1304.5 1064v1M1309.5 1052v2M1309.5 1063v2M1314.5 1052v1M1314.5 1064v1M1319.5 1052v1M1319.5 1064v1M1324.5 1052v1M1324.5 1064v1M1329.5 1052v1M1329.5 1064v1M1334.5 1052v2M1334.5 1063v2M1339.5 1052v1M1339.5 1064v1M1344.5 1052v1M1344.5 1064v1" stroke="#001040" stroke-width="1" shape-rendering="crispEdges"/>
<text class="ax" x="1258.8" y="1062" text-anchor="middle" style="font-family:'DejaVu Sans',sans-serif;font-size:9px">7</text>
<text class="ax" x="1283.8" y="1062" text-anchor="middle" style="font-family:'DejaVu Sans',sans-serif;font-size:9px">14</text>
<text class="ax" x="1308.8" y="1062" text-anchor="middle" style="font-family:'DejaVu Sans',sans-serif;font-size:9px">21</text>
<text class="ax" x="1333.8" y="1062" text-anchor="middle" style="font-family:'DejaVu Sans',sans-serif;font-size:9px">28</text>
<path d="M1249.5 2132v1M1254.5 2132v1M1259.5 2132v2M1264.5 2132v1M1269.5 2132v1M1274.5 2132v1M1279.5 2132v1M1284.5 2132v2M1289.5 2132v1M1294.5 2132v1M1299.5 2132v1M1304.5 2132v1M1309.5 2132v2M1314.5 2132v1M1319.5 2132v1M1324.5 2132v1M1329.5 2132v1M1334.5 2132v2M1339.5 2132v1M1344.5 2132v1" stroke="#001040" stroke-width="1" shape-rendering="crispEdges"/>
<text class="ax" x="1258.8" y="2142" text-anchor="middle" style="font-family:'DejaVu Sans',sans-serif;font-size:9px">7</text>
<text class="ax" x="1283.8" y="2142" text-anchor="middle" style="font-family:'DejaVu Sans',sans-serif;font-size:9px">14</text>
<text class="ax" x="1308.8" y="2142" text-anchor="middle" style="font-family:'DejaVu Sans',sans-serif;font-size:9px">21</text>
<text class="ax" x="1333.8" y="2142" text-anchor="middle" style="font-family:'DejaVu Sans',sans-serif;font-size:9px">28</text>
<text x="16.5" y="15.5" style="font-family:'Liberation Sans',sans-serif;font-size:13px;font-weight:bold" textLength="27.6" lengthAdjust="spacingAndGlyphs">$VIX</text>
<text x="49" y="16" style="font-family:'Liberation Sans',sans-serif;font-size:11px" textLength="164" lengthAdjust="spacingAndGlyphs">Volatility Index - New Methodology</text>
<text x="219.5" y="16" style="font-family:'DejaVu Sans',sans-serif;font-size:9px" textLength="23" lengthAdjust="spacingAndGlyphs">INDX</text>
<text x="1106.6" y="15" style="font-family:'Liberation Sans',sans-serif;font-size:10.5px;fill:#333" textLength="89.8" lengthAdjust="spacingAndGlyphs">&#169; StockCharts.com</text>
<text x="20" y="45" style="font-family:'Liberation Sans',sans-serif;font-size:10.5px">Open:</text>
<text x="79" y="45" style="font-family:'Liberation Sans',sans-serif;font-size:12px;font-weight:bold">14.95</text>
<text x="20" y="59.5" style="font-family:'Liberation Sans',sans-serif;font-size:10.5px">High:</text>
<text x="79" y="59.5" style="font-family:'Liberation Sans',sans-serif;font-size:12px;font-weight:bold">16.12</text>
<text x="20" y="73.5" style="font-family:'Liberation Sans',sans-serif;font-size:10.5px">Low:</text>
<text x="79" y="73.5" style="font-family:'Liberation Sans',sans-serif;font-size:12px;font-weight:bold">14.70</text>
<text x="20" y="88" style="font-family:'Liberation Sans',sans-serif;font-size:10.5px">Prev Close:</text>
<text x="79" y="88" style="font-family:'Liberation Sans',sans-serif;font-size:12px;font-weight:bold">15.03</text>
<text x="142" y="45" style="font-family:'Liberation Sans',sans-serif;font-size:10.5px">Ask:</text>
<text x="142" y="59.5" style="font-family:'Liberation Sans',sans-serif;font-size:10.5px">Bid:</text>
<text x="142" y="73.5" style="font-family:'Liberation Sans',sans-serif;font-size:10.5px">Last:</text>
<text x="142" y="88" style="font-family:'Liberation Sans',sans-serif;font-size:10.5px">Optionable:</text>
<text x="199" y="88" style="font-family:'Liberation Sans',sans-serif;font-size:12px;font-weight:bold">yes</text>
<text x="252" y="45" style="font-family:'Liberation Sans',sans-serif;font-size:10.5px">Mkt Cap:</text>
<text x="252" y="59.5" style="font-family:'Liberation Sans',sans-serif;font-size:10.5px">Fwd Dividend:</text>
<text x="252" y="73.5" style="font-family:'Liberation Sans',sans-serif;font-size:10.5px">Fwd Yield:</text>
<text x="252" y="88" style="font-family:'Liberation Sans',sans-serif;font-size:10.5px">SCTR:</text>
<text x="325" y="59.5" style="font-family:'Liberation Sans',sans-serif;font-size:11px;font-weight:bold">N/A</text>
<text x="325" y="73.5" style="font-family:'Liberation Sans',sans-serif;font-size:11px;font-weight:bold">N/A</text>
<text x="377" y="45" style="font-family:'Liberation Sans',sans-serif;font-size:10.5px">P/E:</text>
<text x="377" y="59.5" style="font-family:'Liberation Sans',sans-serif;font-size:10.5px">EPS:</text>
<text x="377" y="73.5" style="font-family:'Liberation Sans',sans-serif;font-size:10.5px">Last Earnings:</text>
<text x="377" y="88" style="font-family:'Liberation Sans',sans-serif;font-size:10.5px">Next Earnings:</text>
<text x="1087" y="29.5" style="font-family:'Liberation Sans',sans-serif;font-size:10.5px" textLength="103.8" lengthAdjust="spacingAndGlyphs">Tuesday&#160; 29-Jul-2025</text>
<text x="1141.7" y="45.5" style="font-family:'Liberation Sans',sans-serif;font-size:14px;font-weight:bold;fill:#2f6f2f" textLength="49" lengthAdjust="spacingAndGlyphs">+6.32%</text>
<path d="M1126.8 46.3 L1133.1 35.9 L1139.4 46.3Z" fill="#2f6f2f"/>
<text x="1124" y="59" style="font-family:'Liberation Sans',sans-serif;font-size:10.5px">Chg:</text>
<text x="1191" y="59" text-anchor="end" style="font-family:'Liberation Sans',sans-serif;font-size:12px;font-weight:bold">+0.95</text>
<text x="1124" y="73.5" style="font-family:'Liberation Sans',sans-serif;font-size:10.5px">Last:</text>
<text x="1191" y="73.5" text-anchor="end" style="font-family:'Liberation Sans',sans-serif;font-size:12px;font-weight:bold">15.98</text>
<text x="1124" y="88" style="font-family:'Liberation Sans',sans-serif;font-size:10.5px">Volume:</text>
<text x="1191" y="88" text-anchor="end" style="font-family:'Liberation Sans',sans-serif;font-size:12px;font-weight:bold">0</text>
<path d="M19.5 101.5V99L20.5 97L21.5 95.5L22.5 94L23.5 93L24.5 96.5L25.5 98.5L26.5 97L27.5 95V101.5Z" fill="#b88068" stroke="#a0461a" stroke-width="1"/>
<text x="31.5" y="101.7" class="ax" class="ax" class="ax" class="ax" style="font-family:'Liberation Mono',monospace;font-size:10px" textLength="79" lengthAdjust="spacingAndGlyphs">RSI(34) 45.92</text>
<rect x="19" y="108" width="9" height="2" fill="#000080"/>
<text x="29.5" y="112.6" style="font-family:'Liberation Sans',sans-serif;font-size:9px;fill:#000080" textLength="65" lengthAdjust="spacingAndGlyphs">EMA(21) 45.84</text>
<path d="M19.5 522v4M20.5 521v2M20.5 525v3M21.5 522v4M22.5 524v4M23.5 524v5M24.5 524v4M25.5 522v6M26.5 521v2M26.5 527v2M27.5 522v6" stroke="#000" stroke-width="1" shape-rendering="crispEdges"/>
<text x="31.8" y="528.8" class="ax" class="ax" class="ax" class="ax" style="font-family:'Liberation Mono',monospace;font-size:10px" textLength="101.5" lengthAdjust="spacingAndGlyphs">$VIX (Daily) 15.98</text>
<path d="M19.5 1069v4M20.5 1068v2M20.5 1072v3M21.5 1069v4M22.5 1071v4M23.5 1071v5M24.5 1071v4M25.5 1069v6M26.5 1068v2M26.5 1074v2M27.5 1069v6" stroke="#000" stroke-width="1" shape-rendering="crispEdges"/>
<text x="31.8" y="1075.7" class="ax" class="ax" class="ax" class="ax" style="font-family:'Liberation Mono',monospace;font-size:10px" textLength="76.4" lengthAdjust="spacingAndGlyphs">$SPX 6370.86</text>
<rect x="19" y="1604" width="9" height="2.5" fill="#00286e"/>
<text x="31.8" y="1608.7" class="ax" class="ax" class="ax" class="ax" style="font-family:'Liberation Mono',monospace;font-size:10px" textLength="79.5" lengthAdjust="spacingAndGlyphs">ROC(3) 3.83%</text>
<defs><clipPath id="cR"><rect x="17" y="92" width="1179" height="426"/></clipPath><clipPath id="cO"><rect x="17" y="1599" width="1179" height="532"/></clipPath><clipPath id="cSO"><rect x="1246" y="1599" width="100" height="532"/></clipPath><clipPath id="cSR"><rect x="1246" y="92" width="100" height="426"/></clipPath><clipPath id="cSV"><rect x="1246" y="519" width="100" height="532"/></clipPath><clipPath id="cSS"><rect x="1246" y="1066" width="100" height="532"/></clipPath></defs>
<rect x="17" y="222" width="1179" height="1" fill="#a0522d"/>
<rect x="17" y="388" width="1179" height="1" fill="#a0522d"/>
<path d="M17 305.5H1196" stroke="#a0522d" stroke-width="1" stroke-dasharray="7 3 2 3"/>
<path d="M17 2027.5H1196" stroke="#000" stroke-width="1" stroke-dasharray="7 3 2 3"/>
<rect x="1246" y="222" width="100" height="1" fill="#a0522d"/>
<rect x="1246" y="388" width="100" height="1" fill="#a0522d"/>
<path d="M1246 305.5H1346" stroke="#a0522d" stroke-width="1" stroke-dasharray="7 3 2 3"/>
<path d="M1246 1851.5H1346" stroke="#000" stroke-width="1" stroke-dasharray="7 3 2 3"/>
<g clip-path="url(#cR)"><g transform="scale(0.1)" fill="none" stroke-linejoin="round"><path d="M167 3208l2-62 3-63 2 44 2 43 2-59 2 134 3 3 2 60 2-149 2 53 2 30 2-8 3 67 2 15 2-63 2-207 2 27 2-63 3 26 2 83 2-28 2 98 2 65 3-43 2 21 2-45 2-100 2 101 2 39 3-18 2-19 2-60 2-15 2 37 3 34 2-25 2-46 2-104 2 82 2-137 3 157 2-1 2-74 2-54 2 43 2-3 3 13 2-138 2 163 2 1 2 82 3-4 2 2 2 12 2-80 2 92 2-214 3 169 2-37 2 2 2-140 2-98 3 228 2 71 2-61 2 67 2 7 2-205 3 55 2-39 2-78 2 128 2 70 2-76 3 21 2-42 2 14 2 22 2 19 3-3 2-17 2-29 2-84 2 95 2 96 3-49 2-26 2-113 2 121 2-23 3-41 2-112 2-55 2 112 2 74 2 12 3 23 2-116 2-67 2 197 2-9 3 129 2-58 2-70 2 1 2 50 2-12 3 1 2 87 2 32 2-97 2-30 2 204 3-94 2 20 2-5 2 50 2-29 3-31 2-41 2 117 2-73 2 32 2 40 3-42 2-60 2-142 2 132 2 75 3 111 2-74 2-68 2-73 2 116 2-38 3 24 2 68 2-110 2-106 2 98 2-40 3 31 2 147 2-216 2 24 2-10 3-88 2 113 2-53 2 9 2 131 2-53 3 7 2-110 2-66 2-208 2 78 3-25 2-35 2 109 2 47 2-48 2 40 3 27 2-43 2-84 2 74 2 175 2 5 3 19 2 29 2-9 2 26 2 24 3-139 2 72 2 72 2 8 2 48 2-352 3 36 2 161 2 74 2 30 2-98 2 43 3-2 2 8 2 78 2-54 2 58 3-42 2-25 2-10 2-114 2 45 2 68 3-39 2-34 2-24 2 12 2 30 2-1 3-31 2 31 2 21 2 86 2-169 3 38 2-51 2 207 2 30 2-98 2 102 3-113 2-43 2-16 2-176 2 76 2 92 3 74 2 4 2-34 2-108 2 25 3-328 2 201 2-54 2 126 2 12 2-45 3 144 2 41 2 36 2-97 2-25 2-9 3 17 2 33 2-129 2 80 2-45 3-27 2-73 2-90 2-27 2-2 2 126 3-245 2 42 2-79 2 108 2 61 2 171 3-146 2 134 2-51 2 39 2 74 3-55 2-28 2-16 2-159 2 45 2-28 3-250 2 207 2-33 2 124 2 51 2 109 3 10 2 70 2-57 2 166 2 27 3-21 2 7 2-15 2 31 2 14 2-121 3 54 2 42 2-51 2-58 2-41 3-65 2 67 2-36 2-186 2 38 2 36 3-22 2 24 2 17 2-15 2 113 2 10 3 202 2-21 2-74 2-23 2 46 3-66 2-59 2 146 2-68 2 117 2-106 3 69 2-49 2 58 2 62 2-76 2 63 3-12 2 131 2-78 2-311 2 68 3 41 2 34 2 11 2-17 2 65 2 97 3-27 2-51 2 51 2-33 2-124 2 87 3-44 2 37 2-9 2 65 2-59 3 16 2 9 2 27 2 0 2 150 2-21 3 44 2-40 2 6 2-77 2 64 2-50 3-15 2 8 2 39 2 2 2-333 3 126 2 27 2-35 2 9 2 64 2-9 3 25 2 50 2 1 2 5 2 45 2-14 3-144 2 2 2 10 2 90 2-85 3 11 2 12 2-204 2-27 2 79 2 23 3 69 2-117 2 188 2-123 2-54 2-11 3-137 2 57 2-24 2 88 2 79 3 53 2-108 2-24 2-33 2-14 2-38 3 28 2 128 2-14 2 92 2-147 2-71 3-38 2-35 2 130 2-188 2 121 3 115 2 73 2 80 2-153 2-84 2 78 3-128 2 100 2 58 2 35 2 26 2-32 2-1 3 63 2 45 2-131 2 38 2-123 2-7 3 86 2-33 2 66 2-105 2 63 2 120 3 27 2-4 2-40 2-276 2 125 2-216 2 276 3-36 2 94 2-24 2 74 2-61 2 105 3-24 2-22 2-25 2 47 2-29 2-40 3-562 2 291 2 54 2-79 2-101 2 131 2-27 3-50 2 35 2-67 2 22 2-61 2 214 3-413 2 220 2 67 2 131 2-19 2 69 3 29 2-27 2 96 2 33 2-22 2 49 2-33 3-50 2 47 2 48 2 19 2-17 2 31 3-9 2-45 2 13 2 12 2 38 2-2 2 17 3 72 2-110 2-110 2 48 2 19 2 11 3 32 2-55 2-152 2 62 2 117 2 11 3 50 2-92 2 6 2-38 2-6 2 39 2 66 3-48 2 102 2-25 2-9 2 28 2-166 3-51 2-156 2 45 2 65 2 76 2 35 3 30 2-175 2-64 2 269 2-60 2 92 2 24 3-66 2-88 2 17 2-76 2-68 2 36 3 90 2-45 2-2 2-45 2-32 2 51 2-84 3 29 2 13 2-4 2-5 2 148 2-87 3 87 2-70 2 84 2 58 2-101 2-157 3-19 2-101 2-61 2 9 2-46 2-54 2-52 3 84 2-28 2 4 2 52 2-16 2 39 3 1 2-108 2-21 2-47 2-4 2-84 3-68 2-7 2-77 2 256 2 41 2 231 2-58 3 204 2-5 2 121 2 24 2-110 2 55 3-48 2 25 2-82 2 82 2-66 2 139 3 121 2-123 2 90 2 129 2-55 2-1 2-32 3-26 2-19 2-5 2 46 2 123 2 27 3-86 2 4 2-18 2 5 2-75 2 90 2-16 3 31 2 22 2-233 2 22 2-7 2-31 3-164 2 136 2-106 2-10 2-18 2-11 3 26 2-11 2 53 2-76 2-19 2-1 2-26 3-137 2 60 2 83 2-108 2 39 2-84 3-139 2 220 2-90 2 199 2 123 2-12 3-63 2-64 2-10 2-93 2 44 2-1 2-133 3 150 2 131 2 119 2-139 2 87 2 113 3-26 2-13 2-2 2 199 2-57 2 47 3-107 2 27 2-89 2-141 2-69 2 280 2-130 3-38 2 65 2 92 2-32 2 45 2 9 3-48 2-57 2-32 2-76 2-31 3-10 2 0 2-30 2-66 2 36 2-82 3 49 2-57 2-42 2-129 2 111 2-62 3 22 2-14 2 67 2 166 2 49 3 100 2-19 2 105 2-79 2 29 2-112 3 117 2 26 2 101 2-141 2 32 3-173 2 225 2-101 2 59 2-52 2-52 3 86 2 37 2 12 2-165 2 78 3 7 2-94 2 26 2-23 2-105 2 2 3-17 2-12 2 53 2 24 2 27 2-46 3 12 2 65 2 9 2 97 2-30 3-9 2 139 2-24 2-6 2 20 2-65 3 206 2 39 2-165 2-117 2 137 3 111 2 48 2-86 2 110 2-6 2-26 3-89 2 23 2-45 2-95 2 54 3 49 2 62 2 17 2 9 2 64 2 41 3-98 2-139 2 192 2-185 2 104 2 35 3-87 2 105 2 11 2-99 2 73 3-53 2-71 2 27 2-22 2-96 2 19 3 50 2-156 2 15 2 12 2 108 3 1 2 29 2-173 2-10 2 100 2-27 3-63 2-71 2-44 2 44 2-119 3 136 2 22 2-59 2-36 2 82 2-15 3 4 2-63 2-148 2-27 2 11 2-28 3 128 2 72 2-149 2 16 2-47 3-17 2 134 2 224 2-84 2-12 2 101 3 6 2-3 2 125 2-90 2-28 3 19 2 76 2-129 2 30 2-46 2 5 3 85 2 88 2-85 2 109 2-3 3-71 2 8 2-24 2 45 2 25 2-224 3-18 2 71 2-91 2 104 2-11 2-60 3-32 2 101 2 61 2-54 2-57 3-141 2-87 2-28 2-70 2 10 2-149 3-102 2 9 2-28 2-38 2-53 3-38 2-52 2-29 2 381 2 176 2-205 3 19 2-204 2-40 2-91 2-135 3-115 2 722 2 58 2-338 2 47 2-64 3 528 2-16 2-303 2 42 2-176 2-26 3 306 2-63 2 137 2 46 2 109 3 101 2-11 2-260 2 138 2-59 2-28 3-66 2 123 2-95 2-18 2 56 3-137 2-91 2 145 2 126 2 53 2 87 3-98 2-70 2-40 2 86 2 39 3-10 2 11 2 35 2 14 2-16 2 13 3 6 2 9 2 84 2-14 2 16 2 5 3-10 2-29 2 56 2 28 2 31 3-55 2 40 2 12 2 11 2 7 2 13 3-52 2-28 2-16 2 18 2-42 2-90 3-53 2 8 2-94 2 19 2-54 2 14 3 92 2 132 2 48 2-9 2 22 2-81 3 50 2 18 2 4 2 65 2-62 2-1 3-115 2 47 2-12 2-46 2 44 2 53 3-105 2-48 2 67 2-48 2 97 2 4 3-22 2 34 2-7 2-202 2-5 2 74 2 30 3 43 2-52 2 17 2 62 2 56 2 83 3 8 2-62 2-27 2-49 2 45 2 116 3-97 2-13 2-104 2 67 2-50 2 44 3 50 2-12 2 58 2-16 2 36 2 23 3 37 2 28 2 29 2-28 2 3 2 33 3-67 2-38 2 68 2-63 2 7 2 0 3-19 2-10 2 37 2 58 2 69 2-138 3 50 2 4 2 24 2 12 2-42 2 54 3 9 2-236 2 174 2 56 2-51 2 80 3-69 2 62 2-23 2-56 2-21 2 57 3-70 2 22 2 8 2 21 2 12 2 27 3-26 2 11 2-148 2 54 2 37 2 20 3-32 2 1 2 131 2 46 2-225 2 44 3-82 2 81 2 120 2-26 2-81 2-29 3 12 2 0 2 40 2-14 2 28 2-91 2-19 3 18 2-129 2 238 2-6 2 6 2-37 3 57 2 62 2-93 2 101 2-20 2-143 3-79 2 67 2-45 2-54 2 3 2 26 3 46 2-29 2 13 2-138 2 29 2-14 3 15 2 133 2 153 2-152 2 32 2-94 3-5 2 73 2-1 2 38 2 84 2-131 3 96 2-110 2 35 2-87 2 60 2-77 3-65 2 143 2-232 2 62 2 124 2-14 3 76 2-58 2-22 2-229 2-16 2 50 3-9 2-31 2 96 2 46 2-27 2 44 3-22 2-143 2-19 2 12 2-65 2 16 3 126 2 95 2-50 2 56 2 19 2-21 3-62 2-7 2-15 2-89 2 39 2 3 3-93 2-23 2 112 2 130 2-118 2 91 2-3 3 58 2 71 2-29 2 93 2 15 2 52 3-136 2-14 2 103 2-105 2 133 2-53 3-17 2 15 2 23 2 61 2 65 2-344 3-128 2 119 2 119 2 14 2 87 2 45 3-37 2 0 2 41 2 93 2-64 2-27 3-165 2 33 2 63 2 27 2 19 2-60 3 99 2 75 2-23 2-144 2-110 3 205 2 65 2-23 2-216 2 101 3 2 2 51 2 3 2-104 2 109 3-44 2-58 2-209 2-248 2 29 3 141 2-183 2 52 2 189 2-2 3 76 2-31 2 11 2-4 2-51 3 70 2 97 2-82 2-131 2 139 3 70 2-21 2 30 2-19 2-23 3 48 2-52 2 15 2 41 2 21 3 0 2 7 2 8 2-4 2-63 3 128 2 4 2-83 2-58 2 74 3 10 2 72 2-62 2-40 2 4 3 53 2 68 2 18 2 47 2-50 3 79 2-140 2 45 2 32 3 28 2 24 2 35 2-8 2-12 3-246 2 95 2-106 2-73 2 26 3-76 2 3 2-76 2-9 2-83 3-126 2 113 2-134 2 200 2 55 3 139 2-198 2-78 2-292 2-248 3 669 2-53 2-155 2-19 2-17 3-48 2-36 2-98 2-51 2 62 3 124 2 118 2 24 2 94 2-6 3 68 2 41 2-6 2 51 2-6 3 36 2-19 2 61 2-9 2 42 3-96 2 76 2 37 2 31 2-59 3 12 2-72 2-48 2-38 2-99 3 5 2-65 2-56 2 91 3 54 2 127 2 14 2-60 2 14 3 99 2 28 2 65 2-22 2-58 3 69 2-116 2 82 2 22 2-29 3-9 2 11 2-122 2-26 2 32 3 72 2 35 2-33 2-57 2 31 3 100 2 54 2-7 2-108 2-47 3 41 2 2 2 50 2-19 2-185 3 26 2 106 2 12 2-8 2-29 3-14 2-2 2-31 2-7 2-89 3-10 2 98 2-105 2 108 2 53 3-3 2 78 2 106 2-29 2-29 3-40 2 75 2-176 2 188 2-116 3 64 2-90 2 53 2-9 2 32 3 21 2-1 2 9 2 17 3 8 2-40 2 42 2 59 2-24 3 11 2-35 2-88 2 111 2-132 3-39 2-7 2 23 2 112 2 18 3-64 2 21 2-52 2-57 2 108 3-136 2 140 2-40 2-119 2 22 3 42 2 18 2 7 2 69 2-47 3 81 2 75 2-61 2 39 2-122 3-4 2 117 2-149 2 28 2 2 3-38 2-12 2-55 2 30 2 127 3-43 2-78 2 157 2-116 2 69 3 41 2-102 2 73 2-50 2-63 3-39 2 83 2 104 2-180 2 55 3-6 2 0 2 53 2 31 2 38 3 30 2-13 2-5 2-46 2-111 2 121 3-78 2 67 2-169 2 43 2 176 3 4 2-13 2-124 2 119 2-17 2 60 3-176 2 19 2 15 2 15 2-12 2 7 3 37 2 73 2-11 2 18 2-210 2-25 3-33 2 21 2 115 2 31 2-28 2 57 3-108 2-102 2 150 2-163 2-51 3-51 2-38 2 160 2-12 2-122 2 28 3-57 2-180 2-177 2-56 2 161 2 130 3 58 2 20 2 36 2 24 2 99 2-54 3 98 2-29 2 32 2-78 2 207 3 43 2 36 2-51 2-130 2 103 2 33 3 10 2 80 2 38 2-67 2-29 2 55 3-80 2-35 2 78 2-185 2 16 2 143 3-59 2 6 2-35 2 84 2-85 2 55 3-95 2 34 2 9 2 119 2-50 3 32 2-76 2 28 2-78 2-87 2 178 3 35 2-85 2-80 2-11 2-1 2-80 3 18 2 111 2-46 2 46 2-4 2-53 3-14 2-116 2-63 2-17 2 113 3-33 2 108 2-22 2-199 2 195 2 172 3 10 2-2 2-121 2 127 2 59 2 10 3 89 2-76 2-3 2 19 2-120 2-135 3-105 2 8 2 76 2 58 2-6 2-9 3-34 2 43 2 49 2-65 2-30 3 2 2-9 2-256 2 181 2 19 2 0 3-430 2 2 2-480 2 739 2-25 2 79 3-17 2-53 2-38 2 52 2 13 2 30 3-38 2 49 2-15 2-38 2 24 3-53 2-36 2 122 2-81 2 55 2-43 3-12 2 48 2-30 2-68 2-72 2 90 3 27 2-56 2 139 2 34 2-43 2-23 3 9 2-13 2-60 2-103 2 64 2-22 3-13 2-13 2 81 2-36 2 145 3 169 2 61 2-104 2 128 2 99 2 78 3 38 2-52 2 91 2-47 2-52 2-67 3-5 2-55 2 49 2-14 2 0 2 98 3-87 2 57 2 20 2 9 2-37 3 11 2-112 2-64 2 53 2 10 2-89 3 89 2-104 2-36 2-14 2 55 2-13 3 46 2 113 2-5 2-6 2 91 2 15 3 83 2-132 2 31 2 72 2 80 2-4 3-39 2-18 2 91 2 7 2 36 3-126 2 34 2-84 2 71 2 42 2 75 3-93 2 37 2-101 2-112 2 67 2-49 3 8 2 24 2 79 2 105 2-3 2 41 3-34 2-38 2-4 2-43 2 26 3 20 2 26 2 90 2-115 2 41 2 31 3-102 2-12 2-71 2 121 2 23 2 6 3-29 2 9 2-67 2-151 2 96 3 59 2-31 2-28 2 100 2 28 2-53 3-68 2 76 2-37 2 14 2-30 2 96 3-150 2 14 2 36 2 18 2 56 3 27 2 0 2 36 2 28 2 24 2-183 3 52 2 80 2 8 2-16 2 3 2-189 3-172 2 20 2 179 2 31 2 100 3-138 2-201 2-11 2-88 2 125 2-79 3-71 2-117 2 65 2 53 2-135 2 32 3 174 2 25 2-88 2 103 2 62 3-21 2 63 2-109 2 40 2-156 2-42 3 181 2-169 2 42 2 3 2-120 2-32 3 83 2 67 2 100 2 85 2-77 3 2 2-169 2 22 2-121 2-42 2 69 3-28 2 44 2-7 2-1 2-60 2 101 3 28 2 21 2 140 2 68 2-93 3 23 2 3 2-32 2 38 2-39 2 57 3-65 2-74 2 111 2 105 2-35 2 29 3 66 2-63 2 30 2-154 2 160 3 58 2-27 2 6 2-44 2-55 2 28 3 117 2-8 2 74 2-133 2 37 2 67 3-122 2 57 2 41 2-28 2 92 3-6 2 53 2-46 2 17 2-40 2 26 3 75 2-168 2 57 2 48 2-352 2 64 3 141 2-5 2-38 2 39 2 123 3-55 2-47 2 19 2 7 2-41 2-58 3-108 2 62 2-95 2 45 2 103 2 16 3-30 2-57 2 146 2-156 2-38 3 53 2 94 2-94 2 20 2-41 2-32 3 87 2 79 2-125 2-227 2-53 2-18 3 167 2-51 2-2 2 15 2 158 3-41 2 43 2-105 2 82 2 87 2-103 3 81 2-124 2 30 2-86 2 117 2 39 3 80 2 33 2-105 2-22 2 42 3-8 2 24 2-19 2 47 2-17 2 1 3 46 2-83 2 49 2-256 2 62 2 25 3 133 2 79 2-47 2-51 2-185 3 112 2-24 2-78 2 33 2 75 2 41 3-88 2 81 2-61 2 26 2 79 2-152 3-34 2-55 2-25 2 87 2-378 3 201 2 33 2 67 2-17 2 1 2-121 3 37 2 95 2 65 2 24 2 175 2 45 3-129 2 60 2 57 2 94 2-57 3 134 2-42 2-43 2 53 2 27 2-20 3-52 2-24 2 60 2-15 2-66 3-31 2 98 2-29 2 0 2-47 2 6 3 65 2-134 2 57 2 47 2 27 2-77 3 42 2-34 2 33 2 17 2-61 3-155 2-49 2-41 2-145 2 88 2 30 3 108 2 87 2-84 2 42 2 42 3 8 2 54 2 35 2 12 2 12 2 28 3 41 2-114 2 96 2 34 2-38 3-176 2 1 2-151 2 43 2 50 2-67 3 131 2 14 2-75 2 59 2-95 3-79 2 104 2-120 2 26 2-53 2-6 3-62 2 51 2 54 2-41 2-22 2 48 3 110 2 26 2 2 2-76 2 102 3 70 2 105 2-159 2 75 2-11 2 15 3 68 2 75 2-93 2 1 2-11 3-58 2 59 2-91 2 66 2 36 2 42 3-84 2-138 2-120 2 40 2-72 3 122 2-68 2-36 2 113 2-99 2 30 3-21 2-28 2 3 2 14 2-190 3 225 2 5 2-8 2-212 2 60 2 40 3 170 2 54 2-40 2-46 2 46 2 37 3-1 2 61 2 39 2 13 2 87 3-71 2-90 2 23 2 46 2 22 2-39 3 61 2-4 2-12 2-165 2-9 3 84 2 56 2 39 2 14 2-56 2-84 3 54 2-62 2-160 2 136 2 19 3-50 2 170 2 24 2-102 2 48 2-95 3-60 2 163 2-179 2 127 2-43 3-71 2-68 2 2 2 8 2-4 2 39 3 22 2 24 2 63 2 35 2-97 3 102 2-58 2 37 2-96 2 132 2 22 3-64 2 42 2-87 2 57 2 25 2-237 3 155 2 22 2-85 2 6 2 124 3 76 2-171 2 35 2-363 2 121 2 179 3 58 2 37 2 88 2 24 2 52 3 30 2 88 2-245 2 44 2 76 2-13 3 1 2 66 2 1 2-103 2-11 3-19 2-11 2-46 2 30 2 92 2-93 3 23 2 60 2-5 2-90 2-84 3-1 2-56 2 114 2-44 2-71 2-87 3 69 2-54 2 76 2-26 2 127 2-86 3 38 2 12 2 13 2 9 2 37 3 89 2-92 2-130 2 61 2-26 2-28 3-95 2-32 2 111 2-14 2 67 3-8 2 61 2 41 2-130 2 140 2-37 3 84 2-125 2-64 2 119 2 133 3-71 2 15 2-7 2 9 2-25 3-64 2 34 2-62 2 65 2-122 2-1 3-314 2 153 2-42 2-94 2-93 3 111 2 194 2-136 2 105 2 76 3-75 2 183 2 56 2 48 2-113 2 53 3 6 2 26 2-146 2 37 2 66 3-25 2-38 2 11 2 99 2-71 3-51 2 36 2-102 2-124 2 192 2-87 3 45 2-31 2-12 2 84 2 44 3-103 2 59 2-91 2-6 2 72 3 138 2-40 2-76 2 85 2-35 2 118 3-76 2 92 2-69 2 38 2-306 3 56 2 153 2 35 2 52 2-30 3 0 2 44 2 73 2 2 2-12 2 27 3-124 2-4 2-45 2 105 2-9 3-40 2-6 2 3 2 71 2 39 3-149 2-11 2-3 2 25 2 28 2 85 3-11 2-43 2 38 2 55 2-61 3 76 2-56 2-7 2-90 2 39 3 20 2 78 2-98 2 59 2-7 2-36 3 1 2-28 2-1 2-78 2 76 3 49 2-26 2 7 2 15 2-51 3 3 2-63 2 127 2-103 2 45 2 15 3-24 2 76 2-102 2 12 2-133 3-94 2-13 2-4 2 112 2-93 3-127 2 89 2 19 2-94 2 28 3-66 2-74 2 115 2 138 2-149 2-72 3 38 2-26 2 74 2-109 2 37 3 163 2-14 2 149 2 26 2 77 3-21 2-116 2 67 2 44 2 33 2-83 3 116 2-177 2-65 2 132 2-50 3 90 2-59 2 11 2 25 2 108 3-32 2-28 2 10 2 1 2 8 2-80 3-126 2 33 2 7 2-1 2-55 3 70 2-22 2-53 2-7 2 214 3 53 2-540 2 90 2 4 2 192 2 157 3-12 2-272 2-147 2-177 2 176 3-171 2 85 2 205 2 19 2 57 3-113 2 7 2 182 2 1 2 81 2 24 3 37 2-29 2-16 2 36 2 9 3-2 2 24 2 62 2-6 2-1 3 49 2 28 2 27 2-8 2-14 2-166 3 107 2 24 2-33 2-12 2 118 3-11 2 37 2 16 2 23 2-93 3 84 2-194 2-33 2-253 2-81 2-39 3-26 2-92 2 6 2 148 2 121 3-121 2-198 2 207 2 71 2 79 3-15 2 75 2 61 2-28 2-1 2-90 3-17 2-60 2-32 2-26 2 31 2 127 2-26 3-68 2 52 2 137 2-11 2 114 2-94 3 60 2 13 2-145 2-39 2 137 2-27 2 15 3-52 2 84 2-5 2 119 2-59 2-44 3-15 2 114 2 103 2-74 2-31 2-38 2-124 3 110 2 34 2 6 2 10 2-36 2-55 3 98 2 41 2 26 2-11 2-24 2-393 2 120 3 72 2 86 2 32 2-46 2-18 2 50 3 126 2-4 2 40 2-29 2-93 2 43 2-13 3-32 2 74 2 27 2-72 2-20 2 86 2-73 3 9 2 21 2-132 2 60 2 45 2-59 3 29 2 30 2 11 2 120 2-61 2 34 2-105 3-60 2-23 2 51 2-34 2-70 2 34 3 23 2 78 2-8 2 47 2 51 2 34 2-134 3-96 2 31 2-17 2-76 2 3 2 1 3 83 2-248 2 100 2-103 2-17 2 108 2-12 3 73 2 134 2-200 2 95 2-23 2 4 3 54 2-62 2 51 2-178 2 54 2 100 2-324 3 49 2 62 2 111 2-140 2 22 2-17 3-16 2 33 2 58 2 71 2-76 2 139 2 41 3 6 2 5 2-6 2 152 2 97 2-141 3-3 2 76 2-32 2-40 2 96 2-34 2 7 3-284 2 80 2 60 2 85 2-104 2-21 3 11 2 56 2-68 2 39 2 63 2 6 2 8 3 127 2-105 2-4 2-48 2-99 2-260 3-430 2-362 2 330 2 329 2 2 2-15 2 147 3-19 2 26 2 9 2-30 2 126 2-9 3 98 2-14 2 42 2-13 2 3 2 6 2-104 3-10 2-151 2-102 2 162 2 19 2 22 3-36 2-131 2 138 2 194 2-66 2 117 2 75 3-216 2 110 2 30 2 45 2 74 2 0 2 9 3 29 2 20 2-45 2-12 2 13 2-33 3-35 2 36 2 43 2 53 2-20 2-24 2-107 3 60 2 23 2-10 2 49 2-12 2-16 3 30 2-123 2-12 2 64 2 46 2-3 2-225 3 55 2-31 2-10 2 102 2 2 2-125 3-8 2-43 2 41 2 51 2-147 2 136 2-41 3-1 2-97 2-61 2 94 2-28 2-31 3 55 2 145 2-53 2-30 2-39 2 57 2 61 3 153 2-54 2 46 2-27 2-92 2-47 3-78 2 129 2-54 2-6 2-353 2 73 3 186 2-138 2 37 2 88 2-65 2 16 2 62 3-11 2 7 2-40 2 39 2-50 2 86 3-67 2 38 2-145 2 132 2-41 2 129 3-51 2-68 2-3 2 74 2 37 2 54 3-50 2 45 2 61 2-8 2-19 2-25 3-11 2-228 2 138 2 33 2 55 2 108 2-36 3 167 2-89 2 86 2-65 2 66 2 72 3-64 2-71 2 113 2 13 2-89 2-32 3 18 2 72 2-21 2-30 2 49 2 17 3 97 2-4 2-154 2 27 2 29 2-61 3 48 2 16 2-20 2 22 2 9 2-17 2-24 3-83 2 87 2-86 2-1 2 39 2 28 3-63 2-88 2 47 2 51 2 31 2 29 3 24 2-10 2-72 2-23 2-58 2 39 3 18 2-36 2 108 2-420 2 90 2 151 2-76 3 6 2 52 2 15 2-109 2-18 2 134 3 16 2-121 2-20 2 47 2 95 2-78 3-57 2-61 2-23 2 61 2-251 2 209 3 26 2-91 2 49 2-78 2-80 2 46 3 75 2-28 2 50 2 51 2 99 2 14 2 107 3 106 2-47 2 92 2-68 2 86 2 2 3 17 2-58 2-8 2 45 2 27 2-78 3 44 2 0 2 63 2-33 2-99 2 27 3-22 2 82 2-116 2 9 2-2 2 59 3-163 2 71 2 124 2-29 2-71 2 39 2-6 3 24 2-89 2-71 2-291 2 145 2 34 3 45 2 74 2-32 2-22 2 15 2-186 3 72 2 134 2-67 2-101 2 73 2 38 3 43 2-29 2 42 2 28 2-85 2 9 2-2 3-81 2 115 2-119 2 15 2 60 2 17 3-38 2 18 2-9 2 48 2-25 2 30 3-188 2 135 2-60 2 13 2 120 2 5 3-128 2 1 2 98 2-22 2-6 2-73 3-80 2-16 2-14 2 12 2-59 2-104 2-114 3 179 2 174 2 141 2-6 2 115 2 41 3 6 2-1 2 27 2 37 2 70 2-17 3-113 2 105 2-34 2-48 2-40 2 24 3-49 2 35 2-35 2 1 2 130 2 40 3 59 2-372 2-14 2 97 2 69 2-24 2 76 3 3 2-70 2-87 2-30 2 52 2 8 3-90 2-84 2 75 2 16 2-15 2 126 3-45 2 21 2 12 2 40 2 40 2 17 3-125 2 81 2 9 2 46 2-23 2-30 3 28 2-105 2 13 2 83 2 7 2-127 3-259 2 308 2 21 2-187 2 84 2 152 3-103 2 105 2-89 2 52 2-16 2-61 3 3 2-57 2 25 2 1 2 31 2-25 3 94 2-62 2-82 2 56 2 44 2-29 3 77 2-32 2 19 2-41 2 4 2-141 3 158 2-70 2-4 2 39 2 55 2-141 3-58 2 136 2-109 2 50 2-95 2-49 3 20 2-37 2 104 2 83 2-178 2-7 2-32 3-69 2-67 2 142 2-42 2-13 2 155 3-3 2 53 2 121 2 111 2 22 2-164 3 26 2-37 2-81 2 44 2-85 2-10 3 56 2-75 2 6 2-22 2 96 2-28 3 107 2-131 2-32 2-106 2 155 2 51 3-30 2 34 2 92 2-5 2 39 2-15 3 19 2-65 2 96 2 13 2-47 2 23 3-329 2 107 2 18 2 111 2 29 2 141 3-74 2-3 2 84 2 64 2-46 2-19 3-29 2-45 2 36 2-8 2-33 2 93 3-29 2-38 2 75 2-9 2 12 2 34 3-119 2 69 2 4 2-103 2-43 2 48 3-252 2-6 2 74 2-20 2 60 2-12 3-120 2 91 2 48 2-119 2 49 2 193 3-19 2 33 2-110 2-8 2-470 2 66 3 255 2 103 2 22 2-3 2-100 2 72 3 75 2-106 2 56 2 114 2-8 2-93 3-58 2 65 2 15 2 87 2 23 2 16 3-132 2 145 2 11 2 1 2-72 2-10 3-45 2-50 2-28 2 92 2-24 2-19 3-170 2 155 2 35 2-53 2 58 2 6 2 22 3 94 2-25 2-140 2 68 2 46 2-70 3-65 2 56 2-18 2 66 2-43 2 8 3 24 2 12 2-1 2 36 2-37 2-83 3-32 2-36 2-43 2-9 2-17 2-19 3 89 2 141 2-121 2 68 2-25 2-100 3-18 2 104 2-44 2 120 2-93 2-45 3 22 2-44 2 48 2 78 2 85 2 8 3-79 2 138 2 80 2-62 2-61 2-6 3-82 2-47 2-20 2 51 2 18 2-110 3-33 2-224 2 109 2-143 2 209 2 47 3-3 2 68 2 20 2-5 2-5 2 13 3-91 2-58 2 225 2-15 2-36 2 150 3-370 2 228 2 23 2 24 2 27 3 68 2-73 2 9 2-8 2-71 2-4 3-90 2-146 2 39 2 36 2-307 2-779 3 574 2 144 2-182 2 239 2 121 3 121 2 147 2 17 2 49 2-42 2-51 3-59 2-20 2 50 2-23 2-5 2-54 3 59 2-6 2-33 2-13 2-29 3-73 2 26 2-5 2 24 2 17 2-24 3-38 2 77 2-5 2-59 2 129 2-43 3-66 2 188 2-24 2-1 2 12 3 52 2 33 2-33 2 79 2-49 2-13 3 101 2-10 2 5 2 16 2 40 2 12 3-13 2 36 2-37 2 59 2 53 3-38 2 3 2 26 2 6 2-92 2-12 3 103 2-180 2 128 2-60 2-32 2 78 3 28 2-13 2 18 2 61 2-4 3-162 2 98 2 16 2-15 2 131 2-322 3 63 2 67 2 41 2 22 2-14 2-53 3-33 2 15 2 33 2 93 2-49 3-55 2 2 2-50 2 58 2 63 2-4 3 13 2 44 2-29 2 2 2 7 2 65 3-121 2 5 2 39 2 5 2-18 3-158 2 29 2-12 2 68 2-18 2-22 3-110 2 56 2-17 2-18 2 53 2 24 3-27 2-106 2-71 2-223 2 88 3 28 2 104 2 21 2 35 2 140 2-74 3-18 2-61 2 37 2 16 2 101 2-44 3-160 2 163 2 6 2 120 2-55 3-143 2 134 2 2 2 21 2-18 2-13 3-28 2 109 2-320 2 87 2-19 2-16 3 67 2 114 2 54 2 74 2-140 3 56 2-79 2 74 2-222 2 57 2 147 3-28 2-20 2 89 2 41 2-106 2 117 3 43 2-136 2-210 2-4 2-39 3 9 2-399 2-72 2-21 2 120 2 8 3 125 2-79 2-47 2 51 2-27 2 27 3 49 2 87 2 89 2-94 2 56 3-58 2 119 2 108 2 107 2-47 2 51 3 60 2-174 2-55 2 88 2 30 2-15 3 11 2 0 2 92 2-33 2-81 3-53 2 94 2-161 2-109 2 124 2 23 3 84 2-154 2 0 2 87 2-89 2-110 3 15 2-138 2 123 2-71 2-31 3-21 2-73 2-41 2-93 2 246 2 91 3 69 2 128 2 77 2-36 2 88 2 46 3 26 2-18 2 12 2 57 2-39 3 70 2-28 2 31 2 37 2-14 2-73 3 31 2 77 2-56 2 1 2 63 3-84 2 100 2-43 2-45 2 44 2-83 3 85 2-42 2 16 2-14 2 47 2 44 3 13 2-35 2-54 2 6 2 84 3 34 2-65 2 29 2 37 2 42 2-61 3 33 2 25 2-29 2 27 2 5 3-36 2-153 2 35 2 138 2-1 2-21 3-181 2-7 2-151 2 133 2 1 3 42 2 11 2-1 2 88 2 22 2-63 3 40 2-19 2-14 2 0 2 111 3-72 2-444 2 60 2 81 2 117 2 75 3-106 2 38 2 27 2-46 2-17 2-132 3 47 2 128 2-112 2 16 2 13 3-45 2-75 2-132 2 37 2 49 2 19 3-54 2-140 2 13 2-24 2 47 3 149 2 27 2-102 2 40 2-72 2 34 3 113 2 0 2-38 2 17 2 12 3 82 2-58 2 94 2-38 2 98 2 101 3-40 2 61 2 45 2 45 2-325 3 105 2 127 2-4 2-26 2 87 2-213 3 25 2 89 2-33 2-28 2 101 3 29 2-39 2-47 2 12 2-54 2 59 3-56 2 81 2 50 2-32 2 66 2-183 3 71 2-74 2-107 2 23 2-119 3 12 2-82 2 41 2-69 2-114 2-99 3-9 2-48 2 162 2-29 2-98 3 224 2-72 2 150 2-98 2 71 2-11 3 46 2 121 2 95 2-60 2-79 3 78 2 75 2 41 2-31 2 1 2-13 3 41 2 48 2 56 2 29 2-178 3 58 2 57 2-71 2 95 2-15 2-52 3 78 2 37 2-109 2-135 2-76 2 11 3-55 2-43 2 113 2-131 2-58 3 10 2 118 2 76 2 102 2 44 2 96 3-111 2 1 2 26 2 29 2 2 3 42 2 37 2-160 2 11 2 35 2 58 3 62 2-27 2-48 2 37 2-65 3-7 2-44 2 123 2 5 2-10 2 42 3-27 2 77 2-96 2-68 2 21 3 68 2-48 2-15 2-40 2-34 2 86 3 7 2-70 2 136 2-51 2-43 2-68 3 56 2-59 2-55 2 114 2-65 3-8 2-87 2 69 2 75 2-4 2-53 3 91 2-96 2 14 2 7 2 108 3 23 2-471 2 112 2-44 2 126 2 55 3 7 2 32 2-15 2 67 2 3 2-66 3-56 2 140 2 42 2-81 2-42 2-23 3-72 2-174 2-5 2-11 2-3 2 24 3-78 2-31 2-106 2 148 2 71 2 154 3 55 2 14 2 54 2 60 2 85 2-31 3-16 2-63 2 61 2-87 2-101 2-485 3-98 2 58 2-372 2-10 2 499 2-103 3 289 2-217 2-52 2-257 2 329 2-127 3-311 2 546 2-316 2 152 2-21 2 87 3 117 2 77 2-18 2-46 2 50 2-80 3 161 2 55 2-70 2 104 2 62 3 16 2-37 2 53 2 21 2 9 2-16 3 62 2-64 2 25 2 21 2-114 2-17 3 79 2 4 2 75 2 37 2-38 2 16 3-2 2 6 2-5 2-1 2 9 2 10 3-2 2-13 2 3 2 19 2-34 2 27 3-19 2 61 2 46 2-52 2-18 2 21 3 50 2-28 2 30 2 61 2-24 2-36 3 12 2 20 2 54 2-29 2-118 2-193 3-162 2 96 2-7 2-72 2 57 2 11 3 99 2 0 2 34 2-86 2 52 2 46 3 60 2 5 2 7 2-15 2-29 2 37 3 41 2 36 2 18 2-75 2 28 2 50 3 17 2-54 2 45 2 22 2 20 2 37 3 23 2-28 2-47 2 48 2-10 2-45 3 100 2 16 2-71 2-179 2 167 2-15 3 58 2 30 2-24 2 12 2-98 2 30 3 26 2 8 2 28 2-47 2 2 2 18 3-40 2-117 2-41 2 17 2-111 2-54 3 43 2-183 2 90 2-75 2 117 2-14 3 113 2 80 2 9 2-3 2-18 2 3 3-40 2 34 2-20 2 60 2-15 2-140 3-1 2 121 2-170 2 27 2 5 3-53 2-39 2 58 2-104 2 162 2-20 3-137 2-84 2 68 2 21 2-100 2 123 3-35 2-52 2-113 2-6 2-100 2 159 3 169 2 69 2-50 2 113 2-33 2 51 3 0 2 222 2 9 2-38 2-3 2 100 3-52 2 58 2-97 2 39 2 20 2-81 3-16 2-91 2 101 2 62 2-105 2-41 3-4 2 44 2-7 2 58 2 72 2-11 3-119 2 44 2 32 2-41 2 74 2 27 3 33 2-10 2-80 2 54 2-107 2 39 3-26 2 13 2 4 2-59 2-113 2 26 3 30 2 127 2 37 2 24 2-96 2-47 3-102 2-3 2 44 2-70 2 82 3 215 2-120 2-81 2 25 2-717 2 401 3 77 2 49 2 113 2-16 2 46 2 17 3-72 2 65 2 122 2-29 2 39 3-36 2-9 2-131 2-14 2 17 2-72 3-2 2-71 2-78 2 95 2 5 2-2 3 71 2 21 2 117 2-23 2 47 3-4 2 47 2 34 2-55 2 55 2 44 3 14 2 42 2-159 2-3 2 64 2 47 3-16 2 49 2 14 2-108 2 77 3-371 2 10 2 113 2 31 2 10 2 14 3 2 2 35 2 146 2-67 2 17 2-23 3 74 2-62 2-56 2 57 2 64 3-5 2-238 2 25 2 54 2 106 2-184 3 30 2-46 2 170 2-161 2-103 2-254 3 241 2-53 2 58 2 2 2 110 3 20 2-13 2-58 2-177 2 140 2-105 3 21 2 106 2-35 2 36 2-102 2 155 3-13 2 44 2 33 2 30 2-42 3 45 2 80 2-80 2-28 2-66 2 74 3 2 2-58 2 25 2-31 2-13 2 6 3 15 2 40 2-24 2-153 2-76 3 5 2 75 2 23 2-1 2-49 2 127 3-34 2 55 2-76 2 106 2-18 2 60 3-44 2 4 2 1 2 37 2 84 3-46 2 19 2-99 2 160 2-45 2 40 3-110 2 114 2-43 2 85 2-115 2 58 3 10 2-12 2-48 2-180 2 76 3 52 2-116 2 164 2-120 2-46 2 7 3 13 2 27 2-24 2-101 2-16 2-87 3-79 2 45 2 1 2 31 2-86 3 121 2-81 2 67 2-2 2-8 2 34 3 122 2 83 2-92 2-102 2 2 2 121 3 128 2 63 2 49 2-43 2-42 3 9 2 38 2-7 2 33 2 73 2 14 3-37 2 50 2-197 2 99 2-167 2-20 3 47 2-42 2 123 2-38 2-22 3-175 2 50 2-57 2-40 2-5 2 77 3-60 2 30 2-18 2-75 2-1 2-99 3-19 2 86 2-14 2-103 2 5 3-24 2 102 2 81 2 37 2 76 2 160 3-39 2-2 2-69 2 37 2 59 2 17 3 21 2-79 2 69 2-28 2-17 3 81 2 60 2 22 2 60 2 1 2-10 3 64 2-35 2 4 2-123 2 16 2-39 3 64 2-118 2-11 2 70 2 8 2-36 3-198 2-98 2-39 2-328 2-88 2 170 3 44 2 22 2 8 2 148 2-96 2 74 2 113 3 7 2-78 2-175 2 251 2-51 2 76 3-259 2 156 2 190 2 69 2-118 2-39 3-91 2-50 2 66 2 31 2-92 2-83 3 91 2-14 2 4 2-83 2-7 2-60 3-17 2 129 2 58 2 113 2 22 2 52 2 103 3 92 2 50 2-195 2 104 2 152 2-70 3-26 2 13 2 130 2-16 2-78 2-60 3 40 2-34 2 38 2 20 2-44 2 18 3-79 2 34 2-58 2 31 2-130 2-3 3-10 2-80 2 53 2-58 2-82 2 179 2 0 3-106 2 89 2-78 2-60 2-77 2 11 3-44 2-4 2 92 2-23 2-31 2 55 3 60 2-24 2 77 2-74 2-52 2-61 3 66 2 151 2-62 2 73 2 113 2-283 3 9 2 33 2 74 2 17 2-25 2 24 2-44 3-30 2 37 2-100 2 97 2 100 2-157 3 129 2 74 2 11 2 22 2-98 2 44 3-24 2 29 2-13 2 32 2 26 2 156 3-41 2 31 2-21 2-48 2 58 2-178 3 151 2 92 2-68 2 1 2 38 2-47 3-6 2 23 2-204 2 14 2 43 2 160 2-7 3 39 2-4 2 85 2-55 2 21 2-14 3-54 2-8 2 64 2 113 2-80 2-126 3-181 2 165 2-109 2 1 2-79 2-89 3 129 2-144 2 90 2-53 2 0 2-5 3-14 2 102 2-50 2 60 2-179 2 157 2-20 3 11 2 2 2-10 2-78 2-48 2 67 3 73 2-55 2-51 2-92 2-73 2 34 3-47 2-2 2-26 2 92 2 61 2-11 3-114 2-7 2-41 2 28 2 78 2-50 3-12 2 164 2 1 2-80 2 6 2 96 2 70 3-58 2 87 2 85 2 40 2 57 2-61 3-59 2 15 2-20 2 143 2-21 2 75 3-53 2 2 2 95 2 84 2-126 2 100 3-106 2-160 2 70 2-161 2 99 2-85 3 14 2-1 2-38 2 135 2-43 2 28 2-58 3-25 2 156 2-17 2 18 2 21 2 130 3-120 2-39 2 60 2-69 2 138 2 20 3 81 2-349 2 51 2 87 2-114 2 64 3-49 2 96 2 105 2-1 2-106 2-3 2 27 3 21 2-31 2 10 2-94 2 88 2 11 3-26 2 52 2 67 2 55 2-73 2-131 2 134 3-74 2 44 2-45 2 2 2-90 2-105 3 168 2-50 2-44 2 17 2 20 2-54 2 38 3-59 2 52 2-82 2-63 2 90 2-143 3 102 2-253 2 52 2 67 2-72 2-18 2 58 3-75 2-47 2 52 2 89 2 14 2 20 3 13 2 93 2-16 2-42 2-19 2 28 2 114 3 69 2 53 2-23 2-49 2 54 2 15 3-10 2-33 2-32 2 77 2-6 2-42 2-69 3 146 2 49 2-33 2 38 2-3 2-163 3-99 2 87 2-38 2 44 2-15 2-121 2 92 3-123 2 130 2 37 2 53 2 24 2-69 3-48 2 34 2 129 2-10 2-117 2 89 2 38 3-57 2-111 2 197 2-171 2-14 2 52 3-12 2 7 2-175 2 99 2 74 2 135 2-80 3 55 2-129 2 101 2-46 2 20 2 54 3-37 2 54 2 1 2-51 2-40 2 104 2-81 3 14 2 35 2-76 2-32 2-1 2 69 3-46 2 15 2 71 2 16 2 50 2-127 2 13 3-70 2-23 2-75 2 191 2-42 2 70 3-21 2-33 2-30 2-73 2-71 2-73 2 37 3 168 2-97 2-12 2 17 2-1 2 19 3-98 2-15 2-114 2 181 2-93 2-77 2 7 3 191 2 34 2-54 2 14 2 84 2 15 3-7 2-63 2 85 2-8 2-100 2 54 2 67 3-24 2 48 2-78 2-73 2 37 2-75 3 120 2-54 2 20 2-74 2 3 2 54 2-85 3-67 2 44 2-112 2 61 2-91 2-56 3-28 2 107 2-149 2 64 2 49 2 113 2-103 3-144 2 111 2 1 2-184 2-30 2 214 3 4 2 37 2 38 2 95 2 3 2 70 2-38 3 123 2-17 2 4 2 38 2 50 2-25 3-48 2-36 2 93 2-86 2 54 2 122 2-31 3-47 2-6 2-73 2 89 2 3 2 66 3 7 2-85 2 12 2-37 2-61 2 103 2 1 3-33 2 76 2 37 2-114 2-39 2-11 3 46 2 17 2 100 2-141 2 23 2 63 2-8 3-132 2-95 2 91 2 150 2-147 2-110 3 143 2 68 2-246 2-9 2-162 2 153 2-27 3 134 2 28 2-58 2 88 2 10 2-271 3 41 2 19 2 160 2 10 2-9 2-106 3 121 2-48 2 80 2-68 2-129 2 59 2-10 3-144 2 43 2 86 2 50 2-12 2 20 3 39 2-29 2 111 2 17 2-131 2 46 2 58 3-45 2-1 2 72 2-12 2 29 2-48 3-36 2 73 2 26 2 31 2 75 2 63 3-463 2 27 2 136 2-7 2-22 2 20 2-381 3 135 2 101 2 31 2 16 2 33 2-74 3 56 2-14 2 47 2 13 2 13 2-69 3 27 2-65 2-77 2 2 2-8 2 67 2-203 3 60 2 207 2-4 2 15 2-110 2 43 3 4 2-48 2 114 2-17 2 169 2-93 2 133 3-47 2-33 2 136 2-29 2-3 2 49 3-115 2 17 2-14 2 64 2-32 2 10 3-2 2 10 2-112 2-89 2 12 2-54 2-1 3 107 2 101 2-80 2 78 2 21 2 6 3-188 2 212 2-56 2-39 2-8 2-3 2 123 3-85 2 36 2-41 2 23 2 42 2 17 3 44 2-23 2-176 2 64 2-106 2 39 3 45 2-16 2-80 2-59 2 86 2-61 2-3 3-192 2 10 2 12 2-114 2-7 2 177 3-54 2-39 2 227 2-195 2-329 2-574 2 778 3-22 2 32 2 123 2 74 2 126 2 100 3 74 2-21 2-27 2-4 2-7 2-80 3-37 2-33 2 25 2 27 2-12 2-21 2-25 3 57 2-13 2-143 2-60 2 154 2 27 3-41 2 112 2-30 2 78 2 96 2-12 2-12 3 8 2 24 2-54 2-14 2-53 2-28 3-27 2-38 2 56 2-63 2-21 2 7 3 41 2-65 2 56 2-72 2 66 2-106 2 34 3-8 2-61 2 99 2-50 2 92 2 29 3-65 2 76 2-168 2-60 2-29 2-24 3 172 2 39 2-174 2 210 2 15 2 59 2 19 3 57 2 14 2 8 2 14 2 34 2 61 3-56 2-2 2 52 2 32 2 4 2-111 2-44 3 98 2 17 2-21 2-111 2 61 2-47 3 99 2-49 2-28 2 78 2-58 2-76 3-669 2 254 2 128 2-83 2 88 2 101 2 88 3-9 2 20 2 47 2-1 2-50 2-24 3-45 2 62 2 52 2 27 2-22 2 18 3 17 2 20 2-102 2-111 2 107 2-37 3 74 2 58 2 5 2-33 2-20 2 21 3-3 2 51 2 60 2 6 2-230 2 28 3 19 2 67 2 114 2-63 2 51 2 16 3-39 2-47 2-190 2 126 2 38 2-128 3-31 2-32 2-2 2-63 2-51 2-55 2-91 3-95 2 104 2-39 2-30 2-48 2 166 3-23 2-47 2 48 2 164 2 15 2 39 3-81 2 128 2 7 2 141 2-114 2 105 3 45 2 35 2-439 2-482 2-29 2-118 3 831 2-190 2-21 2 98 2 18 2 98 3-50 2-35 2 68 2 2 2-111 2 66 3 137 2 19 2 32 2 25 2 19 2 11 3-122 2 79 2 101 2-1 2-24 2 5 3 65 2 4 2 19 2 24 2-14 2 14 3-61 2-2 2-89 2 88 2 29 2-19 3-43 2 26 2-59 2 7 2 10 2-59 3 63 2-93 2 1 2-19 2 58 2-8 3-46 2 25 2 58 2 25 2-78 2-22 3 64 2 92 2 24 2 37 2-61 2-8 3 8 2 12 2-66 2-19 2 48 2 44 2 8 3-40 2-52 2-11 2 12 2 35 2 5 3-20 2 7 2 66 2-3 2 27 2-9 3-79" stroke="#a0522d" stroke-width="12"/><path d="M167 3129l2 1 3-4 2 0 2 4 2-2 2 11 3 10 2 14 2 0 2 4 2 7 2 6 3 11 2 11 2 5 2-15 2-11 2-15 3-12 2-3 2-6 2 4 2 10 3 4 2 7 2 1 2-7 2 2 2 5 3 4 2 1 2-4 2-5 2-2 3 2 2 0 2-5 2-14 2-5 2-17 3-1 2-1 2-8 2-12 2-7 2-7 3-4 2-17 2-1 2 0 2 7 3 6 2 5 2 6 2-1 2 7 2-13 3 3 2 0 2 0 2-13 2-21 3 2 2 9 2 2 2 8 2 8 2-12 3-5 2-9 2-15 2-2 2 5 2-3 3 0 2-4 2-3 2 0 2 1 3 1 2-1 2-3 2-10 2-1 2 8 3 2 2 0 2-10 2 2 2-1 3-4 2-14 2-18 2-6 2 2 2 2 3 4 2-7 2-12 2 7 2 5 3 17 2 10 2 2 2 3 2 7 2 5 3 4 2 12 2 14 2 4 2 1 2 19 3 9 2 10 2 9 2 12 2 9 3 5 2 1 2 11 2 4 2 6 2 9 3 5 2-1 2-14 2-1 2 6 3 16 2 8 2 0 2-6 2 5 2 2 3 3 2 9 2-2 2-11 2-1 2-5 3-2 2 12 2-8 2-6 2-6 3-14 2-2 2-7 2-5 2 7 2 2 3 2 2-8 2-14 2-31 2-21 3-21 2-23 2-11 2-5 2-10 2-4 3-2 2-6 2-13 2-5 2 12 2 11 3 11 2 13 2 11 2 13 2 14 3-1 2 7 2 12 2 12 2 15 2-18 3-14 2 3 2 9 2 11 2 1 2 5 3 4 2 4 2 12 2 5 2 10 3 5 2 3 2 1 2-9 2-4 2 3 3-2 2-4 2-6 2-5 2-1 2-1 3-4 2-1 2 1 2 9 2-7 3-3 2-8 2 12 2 14 2 3 2 13 3 1 2-3 2-4 2-20 2-11 2-2 3 5 2 5 2 2 2-9 2-5 3-35 2-13 2-17 2-4 2-3 2-6 3 7 2 11 2 12 2 3 2 0 2 0 3 1 2 3 2-8 2 0 2-4 3-7 2-12 2-20 2-20 2-18 2-5 3-28 2-20 2-27 2-14 2-7 2 9 3-5 2 8 2 2 2 6 2 12 3 5 2 3 2 1 2-13 2-9 2-10 3-32 2-10 2-12 2 0 2 5 2 14 3 14 2 19 2 12 2 26 2 27 3 21 2 21 2 17 2 19 2 18 2 5 3 10 2 13 2 7 2 1 2-3 3-8 2-2 2-4 2-21 2-16 2-11 3-12 2-9 2-7 2-7 2 4 2 4 3 22 2 19 2 10 2 7 2 10 3 4 2-2 2 11 2 4 2 14 2 4 3 9 2 4 2 9 2 14 2 6 2 10 3 9 2 20 2 11 2-18 2-11 3-5 2-3 2 0 2-3 2 4 2 12 3 9 2 3 2 7 2 4 2-8 2 1 3-3 2 1 2-1 2 6 2-1 3 2 2 1 2 5 2 3 2 17 2 14 3 16 2 12 2 10 2 3 2 9 2 3 3 1 2 2 2 5 2 5 2-25 3-12 2-8 2-11 2-9 2-3 2-2 3-1 2 4 2 4 2 4 2 8 2 6 3-8 2-7 2-6 2 4 2-5 3-4 2-2 2-20 2-21 2-12 2-8 3-2 2-12 2 6 2-6 2-10 2-10 3-21 2-15 2-15 2-6 2 2 3 6 2-4 2-6 2-8 2-9 2-11 3-8 2 4 2 3 2 11 2-4 2-9 3-12 2-15 2-1 2-18 2-5 3 5 2 12 2 18 2 2 2-6 2 2 3-9 2 0 2 5 2 8 2 10 2 6 2 6 3 10 2 14 2 0 2 4 2-7 2-8 3 1 2-2 2 4 2-6 2 1 2 11 3 13 2 11 2 7 2-20 2-6 2-25 2 2 3-1 2 8 2 4 2 11 2 4 2 14 3 10 2 7 2 4 2 8 2 5 2 1 3-50 2-20 2-13 2-18 2-27 2-12 2-13 3-16 2-12 2-17 2-14 2-18 2 4 3-35 2-11 2-4 2 8 2 5 2 12 3 13 2 9 2 17 2 19 2 15 2 18 2 13 3 8 2 11 2 14 2 15 2 13 2 13 3 12 2 7 2 7 2 7 2 11 2 9 2 10 3 15 2 4 2-6 2-1 2 0 2 2 3 4 2-1 2-15 2-7 2 3 2 4 3 9 2-1 2 0 2-4 2-4 2 0 2 6 3 2 2 10 2 7 2 6 2 7 2-8 3-12 2-25 2-19 2-11 2-3 2 0 3 3 2-13 2-18 2 8 2 2 2 11 2 11 3 5 2-4 2-2 2-9 2-14 2-10 3 0 2-5 2-4 2-9 2-10 2-4 2-12 3-8 2-7 2-6 2-6 2 8 2 0 3 7 2 1 2 8 2 12 2 2 2-12 3-13 2-21 2-24 2-22 2-24 2-26 2-29 3-18 2-20 2-17 2-11 2-12 2-6 3-7 2-15 2-16 2-19 2-17 2-24 3-27 2-26 2-30 2-4 2 0 2 20 2 14 3 31 2 28 2 36 2 35 2 22 2 25 3 18 2 19 2 10 2 16 2 9 2 21 3 29 2 16 2 23 2 32 2 25 2 22 2 17 3 13 2 10 2 9 2 12 2 23 2 23 3 12 2 12 2 10 2 9 2 1 2 9 2 7 3 10 2 10 2-12 2-8 2-9 2-10 3-25 2-10 2-18 2-18 2-18 2-17 3-14 2-13 2-7 2-13 2-14 2-13 2-14 3-25 2-17 2-9 2-17 2-12 2-19 3-29 2-7 2-15 2 5 2 16 2 13 3 6 2 0 2-1 2-10 2-4 2-5 2-16 3 0 2 11 2 21 2 6 2 14 2 23 3 18 2 15 2 14 2 31 2 23 2 25 3 12 2 15 2 5 2-9 2-14 2 13 2 0 3-4 2 3 2 11 2 6 2 11 2 10 3 5 2-1 2-3 2-11 2-12 3-11 2-11 2-13 2-17 2-13 2-19 3-12 2-17 2-19 2-29 2-16 2-21 3-16 2-17 2-8 2 7 2 11 3 19 2 15 2 24 2 14 2 16 2 4 3 14 2 16 2 23 2 8 2 11 3-7 2 15 2 5 2 9 2 3 2-1 3 7 2 9 2 9 2-6 2 1 3 2 2-7 2-3 2-6 2-15 2-13 3-13 2-14 2-7 2-4 2-2 2-6 3-4 2 3 2 2 2 12 2 7 3 7 2 18 2 14 2 13 2 13 2 6 3 24 2 26 2 8 2-3 2 10 3 19 2 21 2 12 2 20 2 19 2 14 3 5 2 6 2 2 2-7 2-2 3 4 2 8 2 9 2 10 2 14 2 16 3 7 2-7 2 11 2-7 2 4 2 6 3-3 2 8 2 8 2-2 2 5 3-1 2-6 2-4 2-5 2-14 2-11 3-5 2-19 2-15 2-14 2-2 3-2 2 1 2-15 2-14 2-4 2-6 3-12 2-17 2-19 2-13 2-23 3-9 2-6 2-10 2-13 2-5 2-5 3-5 2-9 2-23 2-22 2-20 2-21 3-7 2 1 2-14 2-10 2-14 3-15 2 0 2 19 2 11 2 8 2 17 3 15 2 14 2 24 2 14 2 10 3 11 2 16 2 4 2 6 2 1 2 1 3 9 2 17 2 7 2 16 2 14 3 7 2 7 2 4 2 8 2 9 2-11 3-13 2-5 2-12 2-2 2-3 2-8 3-11 2 0 2 6 2 0 2-6 3-17 2-24 2-24 2-28 2-25 2-36 3-43 2-37 2-37 2-36 2-39 3-38 2-39 2-39 2 0 2 15 2-4 3-2 2-21 2-22 2-29 2-38 3-46 2 25 2 27 2-5 2-1 2-7 3 42 2 37 2 6 2 9 2-8 2-9 3 19 2 12 2 23 2 25 2 33 3 39 2 35 2 8 2 19 2 13 2 8 3 2 2 13 2 4 2 1 2 6 3-7 2-14 2 0 2 11 2 15 2 22 3 11 2 4 2-1 2 8 2 10 3 8 2 9 2 11 2 11 2 9 2 10 3 8 2 9 2 16 2 13 2 14 2 12 3 11 2 7 2 11 2 13 2 15 3 8 2 11 2 11 2 11 2 11 2 11 3 5 2 3 2 0 2 2 2-2 2-9 3-14 2-12 2-19 2-16 2-19 2-17 3-6 2 6 2 10 2 8 2 10 2 1 3 6 2 7 2 6 2 12 2 5 2 5 3-6 2-2 2-2 2-7 2-1 2 3 3-7 2-10 2-4 2-7 2 2 2 2 3 0 2 4 2 2 2-17 2-15 2-7 2-4 3 1 2-5 2-2 2 3 2 9 2 15 3 14 2 8 2 4 2-1 2 4 2 14 3 3 2 3 2-8 2 0 2-6 2 0 3 4 2 2 2 8 2 5 2 8 2 10 3 12 2 13 2 15 2 11 2 10 2 13 3 5 2 1 2 7 2 1 2 2 2 1 3-1 2-1 2 2 2 7 2 13 2-1 3 4 2 4 2 5 2 6 2 2 2 7 3 6 2-15 2 2 2 7 2 1 2 9 3 2 2 7 2 4 2-1 2-3 2 3 3-4 2-2 2-1 2 1 2 3 2 4 3 2 2 2 2-11 2-5 2-2 2 1 3-3 2-2 2 10 2 13 2-8 2-4 3-10 2-3 2 9 2 6 2-3 2-5 3-3 2-3 2 1 2 0 2 2 2-6 2-8 3-5 2-16 2 7 2 5 2 6 2 2 3 6 2 12 2 2 2 12 2 8 2-5 3-12 2-5 2-9 2-12 2-12 2-8 3-3 2-5 2-3 2-16 2-12 2-12 3-10 2 4 2 17 2 1 2 5 2-5 3-4 2 2 2 2 2 6 2 12 2 0 3 8 2-2 2 1 2-7 2-1 2-8 3-13 2 1 2-20 2-13 2 0 2-2 3 6 2 0 2-2 2-23 2-22 2-16 3-15 2-16 2-7 2-1 2-4 2 1 3-2 2-14 2-15 2-12 2-18 2-14 3-1 2 7 2 2 2 7 2 9 2 5 3-1 2-1 2-2 2-11 2-6 2-5 3-13 2-14 2-2 2 9 2-2 2 7 2 5 3 11 2 16 2 11 2 19 2 19 2 22 3 8 2 5 2 14 2 4 2 15 2 9 3 7 2 7 2 9 2 14 2 18 2-14 3-25 2-12 2 0 2 1 2 9 2 13 3 7 2 8 2 10 2 17 2 11 2 7 3-9 2-5 2 1 2 4 2 5 2-1 3 8 2 15 2 10 2-3 2-13 3 7 2 12 2 9 2-11 2-1 3-1 2 3 2 4 2-6 2 4 3 0 2-5 2-24 2-44 2-38 3-21 2-36 2-28 2-8 2-8 3 0 2-3 2-2 2-1 2-7 3 1 2 9 2 1 2-11 2 3 3 9 2 6 2 8 2 6 2 3 3 7 2 2 2 3 2 7 2 8 3 7 2 7 2 7 2 6 2 0 3 12 2 11 2 2 2-3 2 4 3 4 2 10 2 4 2 0 2 1 3 5 2 11 2 11 2 15 2 9 3 15 2 1 2 5 2 8 3 9 2 11 2 13 2 11 2 9 3-15 2-4 2-13 2-19 2-15 3-21 2-18 2-24 2-22 2-27 3-37 2-23 2-33 2-12 2-6 3 7 2-11 2-18 2-42 2-61 3 5 2 0 2-14 2-15 2-14 3-18 2-20 2-26 2-29 2-20 3-8 2 4 2 6 2 14 2 12 3 17 2 19 2 17 2 20 2 18 3 19 2 16 2 20 2 17 2 20 3 9 2 15 2 17 2 19 2 11 3 12 2 3 2 0 2-5 2-13 3-11 2-16 2-20 2-9 3-4 2 8 2 8 2 3 2 3 3 12 2 14 2 18 2 15 2 8 3 13 2 2 2 9 2 10 2 7 3 5 2 6 2-6 2-8 2-4 3 3 2 6 2 2 2-3 2 0 3 9 2 13 2 11 2 0 2-3 3 0 2 0 2 5 2 3 2-15 3-10 2 0 2 1 2 0 2-3 3-3 2-3 2-6 2-6 2-14 3-13 2-3 2-12 2-2 2 4 3 3 2 9 2 19 2 14 2 10 3 6 2 12 2-5 2 12 2 1 3 7 2-3 2 3 2 2 2 4 3 6 2 6 2 5 2 7 3 7 2 2 2 7 2 10 2 8 3 8 2 5 2-5 2 7 2-7 3-9 2-9 2-6 2 4 2 6 3 0 2 1 2-4 2-8 2 2 3-10 2 3 2 0 2-12 2-8 3-4 2-1 2-1 2 5 2 1 3 8 2 14 2 7 2 10 2-2 3-2 2 9 2-6 2-2 2-3 3-5 2-6 2-10 2-7 2 5 3 1 2-6 2 9 2-3 2 4 3 7 2-3 2 4 2 0 2-7 3-9 2-1 2 8 2-8 2-3 3-3 2-3 2 2 2 5 2 8 3 10 2 8 2 7 2 1 2-8 2 3 3-4 2 3 2-13 2-8 2 8 3 8 2 7 2-6 2 6 2 4 2 9 3-8 2-6 2-3 2-2 2-3 2-2 3 1 2 8 2 7 2 7 2-12 2-14 3-15 2-12 2-1 2 3 2-1 2 5 3-5 2-14 2 0 2-14 2-17 3-21 2-22 2-6 2-6 2-16 2-13 3-17 2-31 2-45 2-45 2-27 2-13 3-6 2-4 2-1 2 2 2 11 2 5 3 13 2 10 2 12 2 3 2 22 3 24 2 25 2 18 2 4 2 14 2 15 3 15 2 21 2 22 2 14 2 10 2 15 3 5 2 2 2 9 2-8 2-7 2 7 3 2 2 1 2-2 2 7 2-3 2 3 3-6 2-2 2-1 2 9 2 5 3 6 2 0 2 1 2-5 2-13 2 5 3 7 2-1 2-8 2-9 2-8 2-14 3-11 2-1 2-4 2 0 2 0 2-6 3-5 2-16 2-20 2-20 2-8 3-10 2 0 2-1 2-19 2 0 2 16 3 15 2 13 2 2 2 13 2 17 2 16 3 23 2 14 2 13 2 13 2 1 2-12 3-20 2-17 2-9 2-3 2-3 2-4 3-6 2-2 2 3 2-4 2-5 3-6 2-5 2-28 2-10 2-6 2-6 3-45 2-40 2-81 2-6 2-7 2 0 3-1 2-6 2-9 2-3 2-2 2 1 3-3 2 2 2 1 2-3 2 0 3-6 2-8 2 4 2-4 2 2 2-3 3-3 2 1 2-2 2-7 2-14 2-4 3-1 2-6 2 6 2 10 2 5 2 2 3 2 2 2 2-5 2-13 2-6 2-8 3-8 2-8 2-1 2-3 2 9 3 25 2 27 2 16 2 26 2 33 2 36 3 37 2 29 2 34 2 27 2 20 2 12 3 10 2 5 2 8 2 7 2 5 2 15 3 5 2 9 2 11 2 11 2 6 3 6 2-4 2-9 2-4 2-3 2-10 3-2 2-10 2-13 2-14 2-7 2-7 3-3 2 8 2 7 2 5 2 14 2 13 3 20 2 6 2 8 2 14 2 20 2 18 3 13 2 10 2 17 2 17 2 18 3 5 2 7 2 0 2 6 2 9 2 15 3 5 2 8 2-1 2-12 2-5 2-8 3-8 2-4 2 3 2 13 2 11 2 14 3 9 2 5 2 5 2 0 2 2 3 4 2 6 2 14 2 2 2 5 2 8 3-2 2-3 2-9 2 2 2 5 2 4 3 2 2 2 2-4 2-18 2-7 3-1 2-4 2-6 2 4 2 6 2 0 3-6 2 2 2-2 2 0 2-3 2 6 3-9 2-6 2-2 2-1 2 5 3 6 2 6 2 9 2 11 2 12 2-6 3-1 2 7 2 6 2 5 2 5 2-14 3-27 2-23 2-5 2-2 2 8 3-5 2-24 2-22 2-28 2-14 2-21 3-24 2-33 2-25 2-17 2-28 2-22 3-5 2-2 2-10 2 1 2 6 3 4 2 9 2-2 2 2 2-12 2-15 3 3 2-13 2-8 2-7 2-17 2-18 3-10 2-2 2 7 2 14 2 6 3 5 2-10 2-7 2-18 2-20 2-12 3-13 2-9 2-8 2-7 2-12 2-2 3 1 2 2 2 16 2 19 2 10 3 11 2 10 2 7 2 9 2 5 2 9 3 3 2-4 2 6 2 15 2 11 2 12 3 18 2 10 2 11 2-3 2 12 3 15 2 12 2 12 2 6 2 1 2 3 3 13 2 12 2 17 2 4 2 6 2 13 3 0 2 5 2 8 2 5 2 13 3 11 2 15 2 10 2 10 2 6 2 7 3 14 2-3 2 3 2 6 2-26 2-17 3-4 2-3 2-7 2-2 2 9 3 3 2-2 2 1 2 1 2-3 2-8 3-17 2-10 2-17 2-12 2-1 2 0 3-3 2-7 2 6 2-8 2-11 3-5 2 4 2-5 2-3 2-6 2-9 3 0 2 7 2-4 2-25 2-28 2-26 3-9 2-13 2-12 2-10 2 6 3 2 2 5 2-5 2 3 2 11 2 1 3 7 2-4 2-1 2-9 2 3 2 6 3 13 2 14 2 4 2 1 2 5 3 4 2 5 2 4 2 7 2 5 2 5 3 9 2 0 2 5 2-19 2-12 2-8 3 4 2 11 2 6 2 1 2-16 3-5 2-6 2-13 2-8 2-1 2 3 3-6 2 3 2-4 2 0 2 6 2-8 3-10 2-14 2-15 2-6 2-40 3-18 2-13 2-6 2-7 2-7 2-16 3-12 2-2 2 4 2 6 2 21 2 23 3 10 2 14 2 18 2 25 2 17 3 28 2 22 2 16 2 19 2 20 2 16 3 10 2 7 2 12 2 10 2 2 3-1 2 9 2 5 2 4 2 0 2 1 3 6 2-6 2-1 2 4 2 5 2-1 3 2 2-1 2 2 2 3 2-2 3-17 2-19 2-21 2-33 2-21 2-17 3-6 2 3 2-5 2-1 2 4 3 3 2 8 2 11 2 11 2 10 2 13 3 15 2 3 2 12 2 14 2 9 3-8 2-7 2-20 2-15 2-8 2-14 3-1 2 1 2-6 2 0 2-9 3-15 2-5 2-15 2-11 2-15 2-14 3-19 2-12 2-6 2-9 2-11 2-5 3 5 2 7 2 7 2-1 2 9 3 14 2 22 2 6 2 12 2 10 2 11 3 16 2 21 2 10 2 10 2 8 3 2 2 7 2-1 2 4 2 7 2 11 3 2 2-11 2-21 2-15 2-21 3-7 2-13 2-15 2-4 2-12 2-8 3-9 2-12 2-9 2-8 2-24 3-2 2-1 2-2 2-20 2-14 2-8 3 7 2 12 2 7 2 3 2 6 2 9 3 8 2 13 2 16 2 15 2 21 3 14 2 4 2 5 2 9 2 11 2 6 3 11 2 9 2 8 2-8 2-8 3 0 2 5 2 9 2 8 2 3 2-5 3 1 2-5 2-20 2-5 2-3 3-7 2 9 2 10 2 0 2 4 2-4 3-10 2 6 2-11 2 2 2-3 3-8 2-14 2-13 2-10 2-10 2-6 3-3 2-1 2 5 2 8 2-1 3 7 2 2 2 5 2-4 2 8 2 10 3 2 2 7 2-2 2 3 2 5 2-17 3-1 2 1 2-7 2-6 2 6 3 13 2-5 2 0 2-34 2-19 2-2 3 4 2 7 2 14 2 15 2 19 3 19 2 26 2 1 2 5 2 12 2 9 3 9 2 13 2 13 2 2 2 1 3-1 2-2 2-6 2-2 2 6 2-3 3-1 2 5 2 4 2-4 2-12 3-11 2-15 2-3 2-7 2-13 2-19 3-11 2-16 2-7 2-9 2 4 2-5 3 0 2 0 2 2 2 2 2 6 3 13 2 3 2-9 2-2 2-4 2-7 3-15 2-16 2-4 2-6 2 1 3 0 2 6 2 9 2-3 2 9 2 5 3 12 2 0 2-6 2 6 2 17 3 9 2 9 2 8 2 9 2 5 3-1 2 2 2-4 2 2 2-9 2-8 3-36 2-18 2-21 2-28 2-33 3-21 2 0 2-14 2-2 2 5 3-3 2 15 2 18 2 21 2 8 2 13 3 12 2 13 2-1 2 3 2 8 3 5 2 1 2 2 2 11 2 4 3-2 2 2 2-8 2-18 2 1 2-7 3-2 2-5 2-6 2 3 2 6 3-3 2 2 2-6 2-7 2 1 3 13 2 9 2 0 2 9 2 4 2 15 3 7 2 14 2 7 2 9 2-19 3-12 2 3 2 5 2 10 2 7 3 5 2 9 2 15 2 14 2 12 2 12 3 1 2 0 2-4 2 6 2 4 3 1 2-1 2 1 2 6 2 10 3-5 2-6 2-5 2-2 2 0 2 8 3 6 2 2 2 5 2 10 2 3 3 10 2 4 2 3 2-6 2-2 3 1 2 7 2-2 2 4 2 2 2-1 3-1 2-3 2-3 2-10 2-2 3 2 2 0 2 1 2 2 2-3 3-2 2-8 2 4 2-5 2-1 2 1 3-2 2 5 2-4 2-3 2-14 3-22 2-21 2-20 2-7 2-16 3-25 2-15 2-12 2-20 2-15 3-20 2-24 2-12 2 1 2-12 2-17 3-12 2-14 2-6 2-15 2-10 3 5 2 4 2 17 2 17 2 23 3 19 2 7 2 12 2 16 2 16 2 8 3 17 2 0 2-6 2 7 2 1 3 10 2 3 2 4 2 6 2 15 3 11 2 7 2 7 2 7 2 7 2 0 3-13 2-8 2-6 2-7 2-10 3-4 2-5 2-9 2-9 2 11 3 15 2-36 2-24 2-21 2-3 2 13 3 10 2-16 2-27 2-41 2-22 3-35 2-24 2-3 2-1 2 4 3-7 2-5 2 12 2 11 2 17 2 18 3 19 2 15 2 12 2 15 2 14 3 12 2 14 2 18 2 15 2 15 3 17 2 18 2 20 2 16 2 14 2-2 3 7 2 9 2 5 2 4 2 14 3 12 2 14 2 14 2 15 2 5 3 13 2-7 2-9 2-31 2-35 2-36 3-35 2-40 2-36 2-20 2-6 3-17 2-33 2-12 2-4 2 4 3 2 2 8 2 13 2 10 2 8 2 0 3-2 2-7 2-10 2-11 2-7 2 5 2 3 3-5 2 1 2 14 2 11 2 20 2 10 3 15 2 14 2 0 2-3 2 9 2 6 2 7 3 1 2 9 2 8 2 17 2 11 2 6 3 4 2 14 2 22 2 13 2 9 2 5 2-6 3 3 2 7 2 7 2 6 2 3 2-2 3 7 2 10 2 11 2 9 2 7 2-30 2-17 3-8 2 0 2 4 2-2 2-3 2 2 3 14 2 11 2 15 2 10 2 1 2 4 2 4 3 0 2 6 2 9 2 1 2-1 2 7 2 0 3 1 2 3 2-10 2-4 2 2 2-5 3-1 2 1 2 3 2 13 2 6 2 9 2-2 3-7 2-8 2-3 2-6 2-11 2-8 3-4 2 3 2 2 2 5 2 11 2 12 2-1 3-10 2-6 2-7 2-13 2-12 2-11 3-2 2-24 2-13 2-22 2-21 2-9 2-9 3-2 2 10 2-9 2 1 2-1 2-1 3 4 2-2 2 3 2-14 2-8 2 3 2-28 3-20 2-13 2-2 2-14 2-11 2-11 3-12 2-8 2-2 2 5 2-2 2 10 2 13 3 12 2 12 2 10 2 23 2 30 2 14 3 13 2 19 2 13 2 9 2 17 2 12 2 12 3-15 2-6 2-1 2 8 2-3 2-5 3-3 2 3 2-5 2 0 2 6 2 6 2 5 3 17 2 6 2 5 2 0 2-9 2-32 3-68 2-95 2-56 2-21 2-19 2-18 2-4 3-5 2-2 2-1 2-3 2 8 2 6 3 15 2 12 2 15 2 12 2 12 2 11 2 0 3 0 2-14 2-22 2-5 2-4 2-1 3-4 2-15 2-2 2 16 2 9 2 19 2 23 3 2 2 12 2 13 2 17 2 21 2 20 2 18 3 20 2 19 2 14 2 11 2 12 2 7 3 4 2 7 2 9 2 14 2 11 2 7 2-2 3 2 2 5 2 3 2 8 2 6 2 3 3 7 2-6 2-6 2 0 2 4 2 4 2-17 3-11 2-12 2-12 2-2 2-1 2-13 3-12 2-15 2-10 2-5 2-17 2-4 2-7 3-6 2-14 2-19 2-9 2-10 2-12 3-6 2 7 2 3 2-1 2-4 2 1 2 7 3 20 2 13 2 16 2 13 2 2 2-1 3-9 2 4 2-1 2-2 2-34 2-24 3-5 2-17 2-12 2-3 2-9 2-6 2 0 3-1 2-1 2-4 2 0 2-5 2 4 3-3 2 1 2-12 2 0 2-3 2 9 3 4 2-3 2-3 2 4 2 7 2 11 3 6 2 9 2 14 2 12 2 9 2 6 3 5 2-17 2-2 2 0 2 6 2 15 2 10 3 25 2 14 2 21 2 13 2 17 2 23 3 15 2 7 2 16 2 17 2 7 2 3 3 4 2 11 2 8 2 4 2 9 2 9 3 17 2 15 2 0 2 3 2 4 2-1 3 3 2 5 2 2 2 4 2 4 2 3 2 0 3-7 2 1 2-7 2-6 2-3 2 1 3-5 2-13 2-7 2-2 2 1 2 3 3 6 2 4 2-3 2-5 2-9 2-5 3-3 2-6 2 4 2-34 2-23 2-7 2-14 3-12 2-5 2-4 2-14 2-14 2 0 3 1 2-10 2-11 2-6 2 3 2-3 3-9 2-14 2-14 2-8 2-29 2-8 3-5 2-13 2-7 2-13 2-20 2-14 3-5 2-8 2-2 2 2 2 12 2 11 2 20 3 28 2 21 2 28 2 19 2 25 2 23 3 22 2 15 2 13 2 16 2 17 2 8 3 12 2 10 2 16 2 10 2 1 2 4 3 1 2 8 2-3 2-2 2-2 2 4 3-12 2-4 2 8 2 4 2-3 2 2 2 0 3 3 2-6 2-11 2-37 2-21 2-15 3-10 2-2 2-5 2-7 2-5 2-21 3-12 2 0 2-5 2-14 2-7 2-2 3 2 2-1 2 3 2 5 2-3 2-1 2-2 3-9 2 2 2-9 2-7 2 0 2 1 3-3 2 0 2-2 2 3 2 1 2 3 3-14 2-1 2-6 2-4 2 7 2 7 3-6 2-5 2 5 2 2 2 1 2-5 3-12 2-13 2-12 2-11 2-15 2-23 2-31 3-12 2 5 2 17 2 15 2 24 2 26 3 24 2 22 2 22 2 23 2 28 2 24 3 11 2 20 2 14 2 10 2 4 2 7 3 1 2 4 2 1 2 1 2 13 2 15 3 19 2-16 2-17 2-6 2 1 2-1 2 6 3 5 2-1 2-10 2-11 2-5 2-4 3-12 2-19 2-10 2-8 2-8 2 4 3-1 2 2 2 2 2 6 2 9 2 10 3-3 2 5 2 5 2 9 2 7 2 2 3 6 2-5 2-4 2 5 2 5 2-7 3-30 2 0 2 3 2-15 2-6 2 9 3-1 2 8 2-1 2 4 2 2 2-3 3-3 2-8 2-5 2-4 2-1 2-3 3 5 2 0 2-8 2-3 2 3 2-1 3 6 2 3 2 4 2 0 2 1 2-12 3 3 2-4 2-3 2 0 2 5 2-8 3-12 2 1 2-9 2-4 2-12 2-15 3-13 2-14 2-4 2 5 2-13 2-12 2-13 3-19 2-23 2-8 2-11 2-12 2 4 3 3 2 8 2 18 2 27 2 26 2 8 3 11 2 6 2-2 2 2 2-6 2-6 3 0 2-7 2-6 2-8 2 2 2 0 3 9 2-4 2-6 2-16 2 0 2 5 3 2 2 4 2 13 2 11 2 13 2 11 3 12 2 4 2 13 2 13 2 8 2 9 3-22 2-10 2-8 2 4 2 5 2 18 3 10 2 8 2 15 2 20 2 14 2 10 3 8 2 2 2 5 2 5 2 1 2 9 3 6 2 1 2 9 2 7 2 7 2 10 3-2 2 4 2 5 2-6 2-9 2-3 3-26 2-25 2-15 2-16 2-9 2-9 3-19 2-9 2-4 2-15 2-9 2 10 3 7 2 9 2-1 2-2 2-45 2-34 3-9 2 2 2 4 2 3 2-6 2 1 3 7 2-3 2 3 2 13 2 11 2 1 3-4 2 2 2 4 2 11 2 12 2 12 3 0 2 12 2 13 2 11 2 4 2 2 3-1 2-7 2-8 2 1 2-1 2-3 3-18 2-2 2 1 2-4 2 1 2 3 2 4 3 12 2 8 2-4 2 1 2 6 2-1 3-6 2-2 2-2 2 3 2 0 2 0 3 2 2 3 2 3 2 6 2 2 2-6 3-8 2-11 2-14 2-13 2-13 2-14 3-5 2 9 2-4 2 3 2 1 2-8 3-10 2 1 2-3 2 8 2-1 2-5 3-3 2-6 2-1 2 5 2 13 2 13 3 4 2 16 2 23 2 14 2 8 2 6 3-2 2-5 2-7 2-2 2 0 2-10 3-12 2-32 2-18 2-30 2-8 2-3 3-4 2 4 2 5 2 4 2 3 2 4 3-5 2-9 2 12 2 9 2 5 2 19 3-17 2 5 2 7 2 9 2 10 3 15 2 8 2 7 2 6 2 0 2-2 3-9 2-21 2-17 2-11 2-38 2-106 3-44 2-27 2-41 2-15 2-3 3 8 2 21 2 21 2 23 2 17 2 11 3 5 2 2 2 7 2 4 2 3 2-2 3 3 2 3 2 0 2-2 2-4 3-11 2-7 2-7 2-4 2-2 2-4 3-8 2 1 2 0 2-6 2 7 2 2 3-4 2 14 2 10 2 9 2 9 3 14 2 15 2 10 2 17 2 11 2 9 3 17 2 15 2 13 2 14 2 17 2 16 3 13 2 15 2 11 2 15 2 18 3 14 2 12 2 14 2 13 2 3 2 2 3 11 2-6 2 6 2 0 2-3 2 4 3 7 2 5 2 6 2 11 2 10 3-6 2 3 2 5 2 3 2 14 2-16 3-9 2-2 2 2 2 4 2 2 2-3 3-6 2-3 2-1 2 8 2 3 3-2 2-2 2-7 2 0 2 5 2 5 3 5 2 9 2 5 2 5 2 5 2 11 3-2 2 0 2 2 2 4 2 1 3-14 2-9 2-10 2-2 2-4 2-6 3-15 2-9 2-10 2-10 2-4 2-2 3-4 2-14 2-18 2-38 2-25 3-21 2-10 2-7 2-3 2 10 2 2 3 1 2-5 2-1 2 0 2 9 2 5 3-10 2 5 2 5 2 16 2 10 3-5 2 9 2 7 2 9 2 6 2 5 3 2 2 11 2-19 2-9 2-10 2-10 3-4 2 7 2 12 2 17 2 3 3 7 2 0 2 7 2-15 2-7 2 6 3 3 2 1 2 9 2 12 2 1 2 12 3 15 2 1 2-18 2-17 2-19 3-17 2-51 2-53 2-50 2-35 2-31 3-16 2-23 2-24 2-18 2-19 2-14 3-9 2 0 2 9 2-1 2 4 3-2 2 9 2 19 2 26 2 20 2 22 3 26 2 8 2 2 2 10 2 12 2 9 3 10 2 8 2 16 2 12 2 3 3-2 2 7 2-8 2-18 2-4 2-3 3 6 2-9 2-8 2 1 2-8 2-16 3-14 2-26 2-11 2-18 2-18 3-19 2-23 2-25 2-32 2-6 2 3 3 9 2 19 2 25 2 19 2 26 2 27 3 27 2 24 2 22 2 25 2 19 3 24 2 20 2 20 2 22 2 19 2 10 3 12 2 18 2 12 2 10 2 15 3 6 2 15 2 10 2 4 2 8 2 0 3 7 2 3 2 5 2 2 2 7 2 10 3 10 2 6 2 1 2 1 2 9 3 11 2 4 2 6 2 9 2 13 2 5 3 8 2 10 2 6 2 8 2 7 3 4 2-11 2-6 2 7 2 6 2 3 3-13 2-13 2-25 2-11 2-9 3-5 2-4 2-3 2 5 2 6 2 0 3 4 2 2 2 0 2 0 2 11 3 3 2-38 2-29 2-19 2-7 2 1 3-9 2-4 2-2 2-6 2-6 2-19 3-12 2 1 2-10 2-7 2-6 3-9 2-15 2-26 2-20 2-14 2-10 3-15 2-26 2-23 2-22 2-17 3-1 2 1 2-8 2-4 2-10 2-5 3 4 2 5 2 0 2 2 2 3 3 11 2 3 2 13 2 7 2 16 2 23 3 18 2 22 2 24 2 26 2-7 3 4 2 16 2 13 2 10 2 17 2-5 3-1 2 7 2 3 2 0 2 10 3 11 2 7 2 2 2 2 2-2 2 3 3-2 2 5 2 10 2 5 2 12 2-7 3 1 2-7 2-15 2-12 2-22 3-18 2-25 2-18 2-23 2-31 2-38 3-34 2-36 2-19 2-19 2-26 3-3 2-10 2 5 2-5 2 3 2 1 3 5 2 16 2 23 2 15 2 7 3 13 2 19 2 21 2 16 2 15 2 12 3 15 2 18 2 21 2 22 2 4 3 9 2 13 2 6 2 13 2 11 2 6 3 12 2 14 2 3 2-10 2-15 2-13 3-17 2-20 2-7 2-18 2-23 3-19 2-6 2 0 2 10 2 13 2 21 3 9 2 8 2 9 2 11 2 11 3 13 2 16 2-1 2 1 2 4 2 8 3 14 2 10 2 4 2 8 2 1 3 0 2-4 2 8 2 7 2 6 2 9 3 6 2 13 2 2 2-4 2-1 3 4 2 0 2-1 2-5 2-8 2 1 3 1 2-5 2 8 2 3 2-2 2-8 3-2 2-7 2-11 2 0 2-6 3-6 2-14 2-6 2 1 2 1 2-4 3 5 2-5 2-2 2-2 2 8 3 9 2-34 2-21 2-23 2-10 2-3 3-3 2 0 2-1 2 6 2 5 2-2 3-6 2 7 2 10 2 2 2-2 2-5 3-10 2-25 2-23 2-22 2-21 2-16 3-22 2-23 2-30 2-14 2-7 2 8 3 13 2 12 2 17 2 20 2 26 2 21 3 18 2 10 2 15 2 6 2-4 2-48 3-53 2-42 2-72 2-67 2-15 2-23 3 5 2-15 2-19 2-40 2-6 2-18 3-44 2 10 2-20 2-5 2-6 2 3 3 13 2 18 2 16 2 10 2 13 2 5 3 19 2 23 2 14 2 22 2 26 3 25 2 19 2 22 2 23 2 21 2 17 3 22 2 14 2 15 2 15 2 4 2 2 3 9 2 8 2 14 2 17 2 12 2 11 3 11 2 10 2 9 2 8 2 8 2 9 3 7 2 5 2 6 2 6 2 3 2 5 3 3 2 8 2 11 2 6 2 4 2 5 3 9 2 6 2 8 2 13 2 10 2 5 3 6 2 7 2 12 2 8 2-4 2-21 3-33 2-22 2-21 2-25 2-18 2-15 3-5 2-4 2-1 2-8 2-3 2 1 3 7 2 6 2 7 2 5 2 1 2 5 3 8 2 11 2 11 2 3 2 6 2 10 3 10 2 5 2 8 2 9 2 11 2 13 3 13 2 10 2 5 2 9 2 7 2 2 3 11 2 12 2 4 2-13 2 4 2 2 3 7 2 10 2 6 2 7 2-3 2 0 3 3 2 3 2 5 2 0 2 1 2 2 3-1 2-12 2-15 2-12 2-21 2-23 3-18 2-33 2-22 2-26 2-14 2-13 3-2 2 5 2 6 2 5 2 3 2 3 3-1 2 2 2 0 2 6 2 4 2-10 3-8 2 3 2-13 2-8 2-8 3-12 2-14 2-8 2-16 2-1 2-2 3-14 2-21 2-12 2-10 2-17 2-5 3-8 2-12 2-21 2-19 2-27 2-10 3 6 2 12 2 7 2 16 2 11 2 15 3 14 2 33 2 30 2 25 2 22 2 29 3 21 2 25 2 14 2 16 2 16 2 8 3 5 2-3 2 6 2 12 2 0 2-3 3-3 2 1 2 0 2 6 2 12 2 9 3-2 2 2 2 5 2 1 2 7 2 9 3 11 2 10 2 1 2 6 2-4 2-1 3-2 2-2 2 0 2-7 2-15 2-12 3-8 2 4 2 7 2 8 2 0 2-6 3-13 2-13 2-8 2-13 2-5 3 15 2 3 2-4 2-2 2-67 2-25 3-15 2-9 2 1 2 1 2 4 2 5 3-1 2 4 2 15 2 12 2 13 3 9 2 8 2-5 2-6 2-4 2-10 3-9 2-15 2-21 2-10 2-9 2-8 3-1 2 1 2 12 2 8 2 12 3 11 2 14 2 15 2 10 2 13 2 16 3 16 2 18 2 3 2 1 2 8 2 11 3 8 2 13 2 12 2 2 2 8 3-26 2-23 2-11 2-7 2-5 2-3 3-3 2 0 2 14 2 6 2 8 2 4 3 11 2 4 2-1 2 4 2 10 3 8 2-14 2-11 2-5 2 6 2-12 3-8 2-12 2 5 2-10 2-18 2-40 3-15 2-18 2-11 2-10 2 1 3 3 2 2 2-5 2-19 2-6 2-14 3-11 2 0 2-4 2 0 2-9 2 5 3 4 2 8 2 10 2 12 2 7 3 10 2 16 2 8 2 5 2-2 2 5 3 5 2-1 2 2 2-2 2-2 2-2 3 0 2 3 2 1 2-13 2-19 3-17 2-8 2-5 2-5 2-9 2 3 3 0 2 5 2-3 2 8 2 5 2 10 3 5 2 5 2 5 2 8 2 14 3 9 2 10 2 0 2 15 2 9 2 12 3 1 2 11 2 7 2 13 2 2 2 6 3 8 2 5 2 1 2-16 2-8 3-2 2-12 2 3 2-8 2-11 2-9 3-8 2-4 2-6 2-15 2-15 2-21 3-27 2-20 2-18 2-14 2-20 3-8 2-14 2-6 2-7 2-6 2-3 3 8 2 16 2 5 2-4 2-3 2 7 3 19 2 22 2 25 2 19 2 14 3 13 2 15 2 13 2 15 2 20 2 20 3 15 2 17 2-1 2 7 2-9 2-9 3-4 2-8 2 4 2 0 2-2 3-17 2-11 2-16 2-18 2-16 2-8 3-13 2-9 2-10 2-15 2-15 2-22 3-22 2-12 2-12 2-20 2-18 3-19 2-8 2 1 2 4 2 10 2 24 3 18 2 16 2 9 2 11 2 16 2 15 3 16 2 8 2 13 2 9 2 7 3 14 2 18 2 18 2 22 2 20 2 18 3 22 2 16 2 15 2 3 2 4 2 0 3 6 2-5 2-6 2 1 2 1 2-1 3-20 2-27 2-28 2-55 2-58 2-37 3-30 2-25 2-23 2-6 2-15 2-7 2 4 3 4 2-3 2-19 2 6 2 1 2 7 3-16 2-1 2 16 2 21 2 8 2 4 3-4 2-9 2-2 2 2 2-8 2-14 3-4 2-6 2-5 2-11 2-12 2-16 3-15 2-3 2 3 2 13 2 13 2 17 2 25 3 32 2 32 2 12 2 21 2 32 2 23 3 19 2 18 2 28 2 24 2 15 2 9 3 11 2 7 2 9 2 11 2 6 2 7 3-1 2 2 2-3 2-1 2-12 2-11 3-11 2-17 2-11 2-15 2-21 2-3 2-3 3-12 2-3 2-10 2-14 2-21 2-17 3-19 2-19 2-8 2-9 2-12 2-5 3 0 2-2 2 6 2-2 2-6 2-12 3-4 2 10 2 3 2 10 2 19 2-9 3-7 2-3 2 4 2 5 2 2 2 5 2-1 3-2 2 0 2-8 2 1 2 10 2-5 3 7 2 14 2 13 2 14 2 3 2 8 3 4 2 7 2 5 2 7 2 9 2 23 3 16 2 18 2 15 2 8 2 14 2-4 3 9 2 18 2 9 2 9 2 12 2 6 3 5 2 7 2-12 2-11 2-5 2 10 2 8 3 11 2 10 2 17 2 10 2 11 2 8 3 4 2 2 2 7 2 18 2 8 2-4 3-20 2-3 2-13 2-11 2-18 2-24 3-10 2-22 2-13 2-15 2-15 2-13 3-14 2-3 2-7 2-2 2-17 2-2 2-3 3-2 2-1 2-3 2-9 2-13 2-5 3 2 2-4 2-8 2-15 2-21 2-16 3-18 2-17 2-18 2-8 2-2 2-2 3-13 2-12 2-15 2-10 2-3 2-7 3-8 2 8 2 8 2-1 2 0 2 9 2 14 3 8 2 15 2 21 2 24 2 26 2 18 3 11 2 12 2 8 2 21 2 17 2 23 3 15 2 14 2 22 2 27 2 14 2 21 3 9 2-5 2 1 2-14 2-3 2-11 3-9 2-7 2-11 2 3 2-2 2 1 2-4 3-6 2 9 2 6 2 7 2 9 2 20 3 6 2 3 2 8 2 1 2 14 2 14 3 20 2-14 2-7 2 1 2-10 2-2 3-7 2 2 2 12 2 10 2 0 2 0 2 2 3 4 2 1 2 1 2-7 2 2 2 2 3 0 2 5 2 10 2 14 2 6 2-6 2 7 3-1 2 3 2-1 2 0 2-9 2-18 3-1 2-5 2-9 2-6 2-4 2-9 2-4 3-9 2-4 2-11 2-15 2-6 2-19 3-7 2-30 2-22 2-15 2-19 2-19 2-13 3-18 2-20 2-15 2-4 2-3 2-1 3 0 2 9 2 7 2 2 2 0 2 3 2 13 3 18 2 21 2 17 2 11 2 15 2 15 3 13 2 8 2 5 2 12 2 9 2 5 2-1 3 12 2 15 2 11 2 13 2 12 2-4 3-13 2-4 2-6 2-3 2-3 2-14 2-4 3-15 2-2 2 1 2 7 2 7 2 1 3-3 2 0 2 11 2 10 2-2 2 6 2 9 3 4 2-7 2 11 2-5 2-6 2-1 3-2 2-1 2-16 2-7 2 1 2 14 2 4 3 10 2-4 2 7 2 1 2 3 2 8 3 4 2 8 2 8 2 2 2-1 2 8 2 0 3 1 2 4 2-3 2-6 2-5 2 2 3-3 2-1 2 5 2 7 2 10 2-2 2-1 3-7 2-9 2-14 2 4 2 0 2 6 3 4 2 0 2-2 2-9 2-14 2-20 2-14 3 2 2-7 2-8 2-5 2-5 2-2 3-12 2-11 2-21 2-3 2-11 2-17 2-14 3 4 2 7 2 1 2 2 2 10 2 10 3 9 2 2 2 10 2 8 2-2 2 3 2 10 3 6 2 10 2 2 2-5 2-1 2-8 3 4 2-2 2 1 2-7 2-5 2 0 2-8 3-13 2-8 2-17 2-11 2-17 2-21 3-22 2-10 2-23 2-14 2-9 2 2 2-8 3-19 2-8 2-8 2-23 2-24 2-2 3-1 2 2 2 5 2 13 2 12 2 18 2 13 3 22 2 19 2 18 2 19 2 23 2 17 3 12 2 8 2 15 2 7 2 10 2 21 2 16 3 10 2 9 2 1 2 9 2 9 2 14 3 13 2 4 2 6 2 1 2-5 2 6 2 5 3 1 2 8 2 11 2 0 2-4 2-5 3 0 2 2 2 10 2-3 2-1 2 5 2 4 3-9 2-16 2-7 2 7 2-6 2-16 3-1 2 4 2-17 2-18 2-30 2-14 2-14 3-2 2 2 2-4 2 4 2 5 2-20 3-15 2-12 2 4 2 5 2 3 2-7 3 5 2 1 2 7 2 0 2-11 2-5 2-5 3-18 2-12 2-4 2 2 2 0 2 2 3 5 2 3 2 12 2 12 2 0 2 4 2 8 3 4 2 3 2 10 2 8 2 9 2 5 3 0 2 7 2 9 2 11 2 17 2 21 3-23 2-18 2-5 2-4 2-7 2-4 2-38 3-22 2-11 2-8 2-5 2-1 2-9 3-2 2-4 2 1 2 2 2 4 2-4 3 0 2-7 2-13 2-11 2-12 2-4 2-22 3-15 2 6 2 4 2 6 2-5 2-1 3 0 2-5 2 7 2 4 2 19 2 9 2 20 3 14 2 10 2 21 2 17 2 15 2 18 3 6 2 7 2 5 2 10 2 7 2 6 3 6 2 7 2-5 2-12 2-9 2-14 2-13 3-2 2 8 2-1 2 7 2 8 2 8 3-10 2 10 2 4 2 0 2 0 2-1 2 11 3 2 2 5 2 0 2 3 2 6 2 8 3 10 2 8 2-9 2-3 2-11 2-8 3-2 2-4 2-10 2-15 2-6 2-11 2-10 3-27 2-23 2-21 2-28 2-27 2-8 3-12 2-15 2 7 2-11 2-40 2-89 2-10 3-11 2-7 2 5 2 11 2 22 2 28 3 33 2 28 2 23 2 20 2 18 2 9 3 5 2 2 2 3 2 6 2 4 2 2 2-1 3 5 2 3 2-10 2-15 2 0 2 3 3-1 2 10 2 5 2 13 2 19 2 17 2 15 3 14 2 14 2 9 2 6 2 1 2-2 3-4 2-7 2-1 2-7 2-8 2-7 3-2 2-9 2-2 2-9 2-1 2-12 2-7 3-7 2-12 2-2 2-7 2 3 2 5 3-2 2 6 2-10 2-15 2-16 2-17 3 1 2 4 2-13 2 8 2 9 2 13 2 14 3 18 2 17 2 16 2 17 2 17 2 22 3 15 2 13 2 17 2 18 2 17 2 5 2 1 3 9 2 10 2 8 2-3 2 2 2-2 3 7 2 2 2 0 2 6 2 1 2-7 3-66 2-38 2-22 2-28 2-17 2-7 2 2 3 1 2 3 2 7 2 6 2 1 2-2 3-5 2 1 2 5 2 8 2 4 2 6 3 7 2 9 2-2 2-12 2-1 2-4 3 2 2 8 2 8 2 4 2 2 2 3 3 3 2 7 2 12 2 12 2-11 2-7 3-4 2 2 2 12 2 5 2 10 2 10 3 5 2 1 2-17 2-3 2 0 2-11 3-14 2-15 2-13 2-19 2-21 2-24 2-31 3-36 2-23 2-25 2-25 2-28 2-10 3-11 2-14 2-9 2 7 2 8 2 11 3 2 2 14 2 13 2 25 2 12 2 20 3 23 2 24 2-18 2-61 2-57 2-63 3 18 2-1 2-2 2 7 2 7 2 16 3 10 2 6 2 11 2 11 2-1 2 6 3 18 2 17 2 19 2 20 2 19 2 19 3 6 2 12 2 21 2 19 2 14 2 14 3 19 2 17 2 17 2 18 2 15 2 15 3 8 2 8 2-2 2 6 2 9 2 6 3 2 2 3 2-1 2-1 2-1 2-5 3 1 2-8 2-7 2-8 2-2 2-2 3-7 2-4 2 2 2 4 2-3 2-5 3 1 2 10 2 10 2 14 2 6 2 5 3 5 2 6 2 0 2-3 2 3 2 6 2 6 3 2 2-2 2-4 2-2 2 1 2 2 3-1 2 0 2 7 2 5 2 7 2 6 3-2" stroke="#000080" stroke-width="11"/></g></g>
<g shape-rendering="crispEdges" fill="none" stroke-width="1"><path d="M16.5 1018v8m1 -15v12m1 -5v18m1 -10v10m1 -22v20m1 -18v8m0 4v7m1 -14v15m1 -14v13m1 -18v8m0 1v3m1 -16v15m1 -14v12m1 -19v8m1 5v7m1 -17v20m1 -25v20m1 -16v15m1 -25v17m1 -6v6m1 -13v14m1 -17v18m1 -25v23m2 -20v18m1 -3v10m1 -13v7m0 1v8m1 -11v7m0 3v8m1 -9v9m1 -8v11m1 -15v15m1 -8v17m1 -12v12m1 -18v10m1 -15v20m1 -17v14m1 -35v31m1 -33v8m1 -6v15m2 4v10m1 -20v26m2 -11v11m1 -11v14m1 -15v10m1 -11v8m1 -5v6m1 -8v13m1 -9v12m1 -22v15m1 -30v34m1 -27v6m1 -1v3m0 6v9m1 -13v8m1 -21v23m1 -44v31m1 -39v10m1 -1v19m1 -13v17m1 -65v54m1 -35v19m1 9v15m1 6v8m1 -12v12m1 -24v19m1 -35v20m1 -18v13m1 11v11m1 -14v13m1 -7v13m1 -4v9m1 -21v29m1 -20v4m1 6v8m1 -18v18m1 -7v7m1 8v4m1 -4v7m1 -10v8m1 -21v19m1 -8v6m1 -5v10m1 -11v7m1 -20v14m1 -9v9m1 -18v13m1 -12v2m0 1v13m1 -18v8m1 -4v12m1 -32v22m2 -11v21m1 -9v7m1 -7v12m1 -23v15m1 -9v7m0 3v4m1 -32v34m1 -15v7m1 -5v13m1 -61v60m1 -56v24m1 -30v23m1 -60v58m1 -18v17m1 -7v7m0 10v11m1 -11v9m1 0v13m1 -7v8m1 -15v24m1 -33v21m2 -11v14m1 -8v12m1 -35v35m2 -37v22m1 -9v17m1 -30v13m1 -15v11m1 -19v21m1 -17v15m1 -30v38m1 -70v40m1 -53v25m1 -34v30m1 -60v51m1 -82v55m1 6v8m1 11v17m1 -18v20m1 0v11m0 11v7m1 -18v17m1 -7v20m1 -17v8m1 -23v26m1 -40v26m1 -34v27m1 -34v21m1 -41v39m1 -61v47m1 -34v34m1 -30v39m1 -53v20m1 3v41m1 -34v17m0 11v11m1 -48v50m1 -48v42m1 -23v18m1 -40v40m1 -56v34m1 -79v69m1 -60v47m1 -3v14m1 -15v28m1 -15v21m1 -43v44m1 -38v29m1 -38v49m1 -57v43m1 -63v44m2 -11v30m1 -7v14m1 -26v35m1 5v21m1 -25v17m2 -2v26m1 -19v23m1 -19v22m1 -30v19m1 -29v27m1 -37v33m1 -45v39m1 -40v21m1 -21v14m1 -48v29m0 1v12m1 -32v18m1 -41v31m0 16v17m2 -10v21m1 -27v34m1 -14v10m0 4v7m1 -24v20m1 -29v28m1 -37v25m1 -58v56m1 -91v52m1 -110v75m1 -91v36m1 -76v88m1 -235v149m1 -133v133m1 -230v289m1 -167v41m1 -10v138m1 -156v98m1 -182v138m1 -10v74m1 -135v85m1 -17v39m2 12v48m1 1v33m2 -35v57m1 -171v113m1 -74v35m1 9v51m1 -24v42m1 -79v61m1 -68v53m1 -40v44m1 -82v87m1 -47v22m1 -5v34m1 -34v62m1 -72v60m1 -32v46m2 -14v48m1 -46v43m1 -38v43m1 -33v27m1 -21v43m1 -14v13m1 -18v39m1 -33v19m1 -8v16m1 -28v22m1 -9v25m1 -24v35m1 -30v21m1 -19v26m1 -34v36m1 -19v27m1 -26v32m1 -40v29m1 -34v35m1 -33v20m0 2v23m1 -33v22m1 -4v18m1 -33v29m1 -33v33m1 -25v30m1 -63v52m1 -34v16m1 -35v39m1 -20v9m1 -26v30m1 -31v26m1 -25v31m1 -10v16m1 -4v23m1 -18v33m1 -30v17m1 -34v50m1 -16v13m1 -18v27m2 -16v31m1 -34v16m0 14v7m1 -24v25m1 -48v44m1 -83v49m1 -16v14m1 -21v9m1 -11v32m1 -9v17m1 -17v14m1 3v11m1 -17v18m1 -3v10m1 -10v10m1 6v14m2 -22v31m1 -53v26m1 -56v40m1 -52v34m1 -129v152m1 -129v72m1 -141v81m3 34v28m1 -11v20m1 -14v17m1 -63v50m1 -60v30m1 -6v28m1 4v32m1 -19v17m1 -42v34m1 -25v25m1 -24v17m0 3v25m1 -27v10m1 -34v35m1 -29v24m1 -40v35m2 1v19m1 -32v38m1 -21v12m1 3v8m1 -5v17m1 -31v30m1 -26v10m1 -6v5m0 1v11m1 -20v22m2 -9v25m1 -25v23m1 -21v8m1 -12v23m1 -14v10m1 -15v13m1 -8v13m2 -8v20m1 -20v22m1 -18v19m1 -16v18m1 -12v4m1 -12v23m1 -28v14m1 -18v26m1 -47v38m1 -36v22m1 -78v65m2 -22v12m1 -7v13m1 2v23m1 -2v13m1 -20v24m1 -28v22m1 -19v18m1 -6v13m1 -31v25m1 -19v17m1 -28v16m1 -17v21m1 -39v30m1 -31v26m1 -5v15m1 11v10m1 -46v45m1 -47v10m0 1v8m1 -12v19m1 -57v47m1 -87v74m1 -171v125m1 -63v33m1 -40v48m1 -52v25m1 -30v38m1 -56v53m1 -56v37m1 -49v47m1 -44v34m1 -33v10m1 22v28m1 18v35m1 -47v42m1 -21v19m1 -26v24m1 -34v21m1 -43v42m1 -26v22m1 13v21m1 -3v19m1 -30v44m1 -39v23m1 -5v35m1 -30v13m1 9v15m1 -12v13m1 -6v14m1 -22v21m1 -4v13m1 -31v24m1 -10v15m1 -10v17m1 -17v18m2 -2v15m1 -29v31m2 -43v38m1 -57v34m1 -35v17m1 -8v20m1 -26v37m1 -53v32m1 -39v22m1 -11v33m1 -51v32m1 -37v18m1 13v16m1 -16v8m1 -19v28m1 -15v13m0 3v7m1 -20v21m1 -10v23m1 -8v16m1 -13v13m1 -5v20m1 -8v9m1 -34v37m1 -17v10m1 -3v13m1 -34v27m1 -18v14m1 -17v17m1 -16v17m1 -40v36m1 -50v26m1 0v7m1 -13v22m1 -24v20m1 -5v15m1 -10v8m1 -7v13m1 -28v21m1 -25v29m1 -36v20m1 -12v12m1 -31v33m1 -68v53m1 -48v33m2 12v18m1 8v6m0 5v9m1 -8v11m1 -13v12m1 -9v10m1 -14v15m1 -11v11m1 -34v28m1 -49v29m1 -7v17m2 9v7m1 -27v34m1 -35v13m1 -19v23m1 -35v22m1 -29v22m2 -2v5m0 8v13m1 -7v4m1 -1v16m1 -19v11m1 -27v30m1 -40v17m1 -19v20m1 -37v19m1 -20v23m1 -5v14m2 6v17m1 -15v12m1 -24v24m1 -15v14m1 -24v18m1 -11v16m1 -21v18m1 -26v25m1 -25v7m1 3v8m1 -7v11m1 -10v15m1 -24v27m1 -22v15m1 -41v39m2 8v24m1 -14v5m0 4v4m1 -23v23m1 -18v12m1 -22v21m1 -36v24m1 -24v12m1 -3v6m1 -8v22m1 -32v18m1 -23v19m1 -5v15m1 -12v16m1 -3v12m1 -21v14m1 -58v50m1 -53v30m1 -20v21m1 6v15m1 -19v20m1 -14v13m1 -25v29m1 -38v24m1 -24v17m1 -14v12m1 1v15m1 -3v9m1 -36v33m1 0v6m1 0v19m1 -25v6m0 3v6m1 -8v17m1 -21v9m1 4v5m1 -1v9m1 -13v13m1 -10v10m1 -14v10m1 -6v6m1 -10v12m1 -13v12m1 -30v21m1 -31v21m1 -32v23m1 -21v13m1 -17v15m2 8v12m1 -17v20m1 -14v13m1 -4v8m1 -21v18m1 -19v8m1 -12v8m1 -36v43m1 -54v46m1 -108v71m1 -25v21m2 20v6m2 19v8m1 -21v21m1 -12v7m0 3v4m1 -21v27m1 -70v44m1 -65v36m1 -42v29m1 -1v8m0 1v15m1 -41v32m1 -24v23m1 -1v15m1 -23v31m1 -31v18m1 1v15m1 2v14m1 -30v20m1 -10v15m1 -36v42m1 -16v9m1 -13v7m1 6v15m1 -10v16m1 -21v16m1 -11v7m1 7v5m1 -15v14m1 -19v10m1 1v11m1 -24v13m1 -27v24m1 -28v20m1 -11v18m1 -24v9m0 1v7m1 -37v32m1 -32v15m1 -14v17m2 22v13m1 -11v9m1 -24v23m1 -17v12m1 -11v6m1 -6v20m1 -272v257m1 -127v26m0 5v13m1 -9v7m1 12v26m1 -48v46m1 -64v24m1 -28v29m0 10v18m1 -24v42m2 18v12m1 -18v13m1 -10v22m1 -13v12m1 -20v21m1 -36v33m1 -42v28m1 -45v28m1 -36v37m1 -33v10m1 -7v25m1 4v10m1 -31v27m1 -80v64m1 -72v58m1 -36v27m1 -24v18m1 -28v33m1 -29v18m1 -8v34m1 -49v44m1 -1v11m1 3v17m1 -3v19m1 -13v17m1 -8v12m1 -4v13m0 2v2m1 -14v7m1 -11v12m1 -13v15m1 -20v19m1 -7v10m1 -22v17m1 -45v42m1 -31v12m1 -20v22m1 -25v25m1 -52v40m1 -50v35m1 -18v18m2 30v17m1 0v7m1 -4v5m1 -6v14m1 -14v16m1 -22v22m1 -26v25m1 -54v35m1 -25v26m1 -25v16m1 -7v5m1 -9v14m1 -16v13m1 -13v8m1 -18v22m1 -15v15m1 -20v17m1 -23v11m1 -37v11m0 3v23m3 30v15m1 -14v9m2 -19v30m1 -24v7m0 2v7m1 -25v17m1 -15v7m0 3v10m2 -6v10m1 -7v11m1 -29v27m1 -18v16m1 -6v12m1 -15v12m1 -10v13m1 -17v12m1 -6v8m1 -16v17m1 -20v5m0 1v13m1 -26v22m1 -24v18m1 -32v19m1 -15v8m1 13v15m1 -21v13m1 -19v16m1 -14v15m1 -22v16m2 2v10m1 -20v25m1 0v8m1 2v4m1 -10v8m1 -7v10m1 -6v7m1 -11v11m1 -24v19m1 -24v15m1 -12v10m0 2v3m1 -48v47m1 -21v13m1 -8v11m1 -9v15m1 -5v8m1 -2v9m1 -18v10m1 -16v16m1 -8v6m1 -3v11m1 -13v13m1 -8v7m1 -14v13m1 -22v13m1 -5v11m1 -16v13m1 -10v9m2 -4v16m1 -19v15m1 -31v26m1 -28v13m1 1v8m1 -10v12m1 -17v25m1 -9v12m1 -24v16m1 -49v36m1 -167v142m2 -47v37m1 -42v23m1 -37v34m1 -61v41m1 -27v25m1 -25v24m1 7v6m1 0v21m1 2v3m1 3v13m1 3v6m1 -14v19m1 -22v19m1 0v10m1 -15v14m1 -20v32m1 -20v15m1 -7v11m1 -14v8m0 2v6m1 -1v5m1 -7v12m1 -22v17m1 -22v15m1 -19v12m1 -32v32m2 -18v13m1 -12v7m0 2v12m1 -14v14m1 -7v7m1 -23v23m1 -17v8m1 5v11m1 -24v21m1 -8v14m1 -36v36m1 -122v95m1 -84v26m1 -31v26m1 -9v19m1 -13v16m0 11v19m1 -24v26m1 -21v18m1 -22v23m1 -52v41m1 -42v31m1 -68v25m0 1v24m1 -74v26m0 2v30m1 -66v12m1 52v14m1 14v6m0 1v7m1 0v11m1 -9v23m1 -11v17m1 -21v24m1 -13v9m1 -3v13m1 0v6m1 1v8m1 -13v13m1 -13v19m1 -33v10m0 3v8m2 -2v14m1 -44v46m1 -26v14m1 -25v17m1 -15v13m1 -37v32m1 -48v30m1 -29v32m1 -29v9m1 -5v14m1 -6v22m1 2v4m1 -12v26m1 -16v17m1 -11v7m0 2v5m1 -14v9m1 -8v7m0 2v2m1 -24v29m1 -50v25m1 -67v53m1 -51v33m1 -21v20m1 2v15m1 -16v12m0 11v10m1 -14v9m1 -6v26m1 -17v14m1 -30v36m1 -53v24m1 -28v17m1 20v14m2 -8v13m1 -4v14m1 -17v9m1 2v13m1 -17v15m1 -16v8m1 -10v18m1 -19v10m1 -12v12m1 -8v11m1 -34v34m1 -29v9m1 6v3m1 -7v17m1 -41v36m1 -41v14m1 -29v16m2 20v5m0 2v8m1 -99v91m1 -227v141m1 -173v169m1 -356v230m1 -242v69m1 47v57m1 6v37m1 15v26m1 25v29m1 -48v45m1 -7v32m1 -19v26m1 -32v40m1 -32v44m1 -31v54m1 -17v32m1 -29v23m1 -110v105m1 -121v56m1 -18v32m1 -8v34m2 -16v20m0 2v31m2 -25v26m1 -22v40m1 -18v28m1 -26v28m1 -24v16m1 -35v29m1 -73v64m1 -62v21m1 -2v36m1 -39v36m1 -55v45m1 -42v29m1 -53v40m1 -47v27m1 -58v53m1 -25v26m1 3v18m1 26v9m0 3v14m1 -16v7m1 -21v31m1 -41v35m1 -10v18m1 -12v10m1 -5v26m1 -26v15m1 -31v27m1 -17v24m1 -38v38m1 -30v30m1 -116v93m1 -16v17m1 10v17m1 -46v40m1 -61v8m0 3v13m2 14v15m1 0v12m1 -2v24m1 -19v21m1 -53v54m2 -15v15m1 -19v30m1 -38v33m1 -40v30m1 -82v57m1 -12v11m1 -51v51m1 -49v31m1 -9v18m1 0v35m1 -39v21m1 -22v20m1 -43v44m1 -39v14m1 -4v16m1 -8v21m1 -5v20m1 -22v12m0 3v5m1 -13v21m1 -15v15m1 -31v25m1 -35v34m1 -53v34m1 -64v45m1 -31v13m1 2v21m1 -23v22m1 15v16m1 -10v7m1 -10v23m1 -39v30m1 -41v33m1 -39v16m1 -40v34m1 -50v25m1 -17v14m1 12v32m2 -21v21m2 6v19m1 -35v26m1 -34v27m1 -93v72m2 -52v26m1 -55v55m1 -28v30m1 -66v61m1 -72v54m1 -60v57m2 9v40m1 -17v33m1 -26v37m1 -32v21m1 -26v14m1 -46v48m1 -63v35m1 -47v57m1 -75v28m1 -14v30m1 -44v41m1 -14v23m1 -40v43m1 -46v33m1 -32v28m1 -2v5m1 -2v21m1 4v7m1 -14v33m1 -20v27m1 -32v26m1 -11v13m1 6v12m1 -20v23m1 -39v39m1 -61v36m1 -49v34m1 -34v37m1 -17v14m1 -30v29m1 -51v34m1 -52v33m1 -38v54m1 -53v25m1 -12v37m1 -23v16m1 -4v36m1 -11v21m1 -11v21m1 -42v45m1 -47v30m1 -18v16m1 -7v17m1 -10v24m1 -23v46m1 -36v23m1 -13v19m1 -17v18m1 -9v5m1 -2v23m1 -22v16m1 -27v24m1 -23v13m1 -36v33m1 -50v33m1 -49v34m2 -2v10m1 14v11m1 -11v14m1 -13v6m0 1v12m1 -18v11m0 1v9m1 -26v25m1 -24v18m1 -20v15m1 -7v15m1 -8v18m1 -21v26m1 -30v20m1 2v11m1 -7v15m1 -8v10m1 -9v13m1 -18v14m1 -4v11m1 -23v14m1 -4v10m1 -24v19m1 -17v15m1 -29v24m1 -27v24m1 -6v7m1 -1v11m1 -12v13m1 -15v18m1 -21v14m1 -27v26m1 -38v21m1 -27v13m1 -29v35m1 -33v6m1 27v6m1 3v5m1 -1v9m1 -11v18m1 -8v6m1 -2v13m1 -15v13m1 -10v14m1 -10v7m1 -19v19m1 -17v17m1 -32v32m1 -28v16m1 -20v24m1 -18v7m0 2v9m1 -19v19m1 -32v22m1 -4v7m1 -5v14m1 -9v9m1 -5v11m1 -24v33m1 -29v12m1 -38v34m1 -23v13m1 -9v10m1 -25v24m1 -30v19m1 -7v7m1 1v15m1 -3v12m1 -6v13m1 -13v9m1 -21v19m1 -21v7m0 3v8m1 -10v15m1 -10v6m1 -2v7m1 -11v16m1 -18v11m1 -19v15m1 -38v26m1 -27v13m1 -315v321m2 -8v12m1 -26v22m1 -27v14m1 -36v37m1 -20v8m0 3v11m1 12v7m1 -18v18m1 -30v17m1 -20v10m1 -23v22m1 -26v26m1 -33v39m1 -45v32m3 27v8m1 -10v15m1 -15v12m1 -12v12m1 -96v91m1 -69v17m0 14v10m1 -1v12m1 -22v16m1 -4v15m1 -25v12m1 6v10m1 -8v6m1 -16v29m1 -18v21m1 -40v30m1 -59v39m1 -71v45m1 -67v43m1 -24v22m1 -2v11m1 -35v63m1 -241v182m1 -103v40m1 2v42m2 11v49m1 7v14m1 14v9m1 -34v34m1 -26v21m1 -26v19m1 -29v22m1 -19v15m1 -24v27m1 10v18m1 -26v21m1 -17v21m1 -11v3m1 0v14" stroke="#000"/><path d="M16.5 1013v5m2 -4v4m1 18v1m1 -30v7m1 -6v8m0 8v4m3 -3v1m0 3v2m2 -18v1m1 -10v3m0 8v10m1 2v1m2 -26v3m1 1v3m0 15v4m1 -12v3m1 -11v2m0 6v2m2 0v2m2 -28v19m1 3v6m1 -16v7m1 4v1m1 4v3m3 -5v1m2 11v1m1 -9v3m0 10v6m2 -20v2m2 -15v6m2 -13v27m1 3v1m2 -20v23m1 2v3m3 -8v1m1 -7v1m0 6v3m1 -12v1m0 13v3m2 -23v1m2 -18v10m0 6v6m1 -10v3m0 3v6m4 -50v4m0 10v8m4 -13v15m1 -8v2m0 15v11m1 -9v4m1 -7v3m3 -13v9m1 -5v7m1 -4v1m1 4v2m1 5v4m0 9v8m2 -16v12m1 -7v1m2 -1v2m0 7v1m1 -3v4m0 1v5m0 4v4m1 -10v2m0 7v1m1 -12v1m2 -6v4m0 6v2m2 -9v1m0 7v1m1 -7v4m1 -14v1m0 9v2m1 -21v1m1 0v1m0 2v1m1 -6v1m3 -9v25m1 -23v2m1 6v6m1 -3v3m2 -6v1m0 7v3m2 -20v11m0 7v8m2 -1v1m1 -33v3m2 -77v7m1 22v18m1 17v10m1 -4v4m0 9v5m2 -2v3m1 -8v1m2 -19v33m2 -9v2m2 -27v24m1 -26v4m0 22v1m1 -12v2m1 -15v2m0 13v4m1 -20v1m2 -6v2m6 -75v5m1 -20v21m0 8v30m1 -25v6m0 17v5m1 -29v6m0 20v4m1 -9v5m0 11v11m1 6v1m1 -13v5m1 2v1m0 8v2m2 -48v9m3 -42v7m1 -30v8m1 7v6m1 2v2m1 -21v7m0 20v26m2 1v11m2 -36v1m1 37v6m2 -64v2m3 -32v40m1 -4v3m1 0v13m0 21v1m2 -9v1m1 -41v2m3 -18v55m1 -2v6m1 -23v10m0 14v17m1 -8v20m2 -24v5m0 17v5m1 -14v28m1 -22v1m0 26v2m1 -30v9m0 23v2m1 1v6m1 -44v8m1 -14v4m1 23v2m3 -62v14m1 -5v1m1 -22v2m0 18v4m1 -14v16m1 -14v42m3 3v4m1 -23v6m1 -19v10m5 -115v19m1 -7v17m1 -103v24m1 -24v10m2 -179v61m0 41v29m4 -125v112m1 -76v15m1 37v31m1 9v79m1 11v19m1 -50v32m0 33v9m1 -47v63m3 -158v23m0 35v33m1 -40v16m1 6v21m0 42v5m1 -109v25m1 -15v8m1 4v9m0 44v11m2 -74v21m0 22v13m1 -43v25m0 34v26m3 -86v44m1 15v51m2 -46v14m2 42v12m2 -40v36m0 13v15m1 -42v9m1 -11v17m0 19v10m1 -44v26m1 -19v7m0 22v1m1 -25v15m0 25v3m1 -35v8m1 26v10m2 -39v2m0 36v4m1 4v2m1 4v2m3 -25v2m1 12v5m1 -19v10m0 18v4m2 -55v14m1 3v5m1 -34v1m1 10v8m2 -18v18m0 9v4m1 0v1m3 -17v7m1 9v3m0 23v3m1 -30v9m1 -1v4m0 17v17m1 -60v9m1 22v12m1 22v1m1 -28v25m2 -1v14m0 7v1m1 -27v2m3 -67v38m1 -9v2m0 9v11m1 -34v12m0 32v7m2 -28v12m0 14v7m1 -10v6m1 12v7m1 -17v7m0 10v2m1 -14v2m0 10v10m2 -5v22m4 -59v8m4 -159v74m1 -15v52m1 -21v1m0 28v10m1 -1v9m1 -6v13m2 -56v21m1 1v20m1 -20v4m1 -8v21m1 9v6m1 -36v5m0 25v2m1 -9v3m1 -7v5m0 10v6m4 -51v40m1 16v1m2 -4v10m1 -16v9m0 8v3m1 -12v4m2 -12v2m0 10v11m1 -23v6m0 5v1m2 -10v22m1 -17v9m2 -2v4m0 8v5m1 -26v9m1 4v5m0 10v8m1 -10v5m1 -24v11m0 13v5m1 -18v20m2 -16v1m1 -1v5m1 21v3m1 -17v2m0 4v2m2 -23v4m0 14v1m2 -2v1m1 -38v1m1 -59v3m1 6v39m1 -20v18m0 12v7m1 -19v5m0 13v22m1 -23v3m1 17v4m0 13v2m2 -27v1m1 21v2m1 -20v12m2 -23v11m0 17v2m1 -36v6m3 6v3m1 -16v8m0 15v6m1 -15v20m0 10v2m2 -40v1m0 8v6m1 -20v2m4 -119v6m0 33v1m2 -48v3m0 25v16m1 -64v18m1 -32v14m3 -14v2m1 -9v10m0 10v51m1 -40v11m0 28v41m3 -23v9m0 19v6m1 -45v13m0 24v1m1 -49v14m2 16v20m1 -29v22m0 21v4m1 -28v21m0 19v5m1 9v4m1 -20v20m2 -35v15m0 13v5m1 -13v17m0 15v2m1 -18v4m1 5v2m0 14v4m1 -5v3m1 -11v4m2 -8v4m0 15v4m1 -21v7m1 18v1m1 -12v21m1 -14v2m0 15v1m2 -31v29m2 -61v2m1 -6v5m0 17v6m1 -20v6m0 20v3m2 -13v3m1 -20v12m1 -30v7m1 -21v3m1 13v1m1 -16v28m0 16v1m1 -31v14m0 8v7m2 0v3m0 7v1m1 0v11m2 -18v12m0 16v3m1 -18v2m0 13v1m2 5v1m0 9v3m2 -24v7m1 5v2m2 -22v10m1 -11v8m0 17v1m3 -55v1m1 15v11m0 7v2m3 -13v11m0 15v3m1 -14v1m0 8v1m1 -10v2m1 -20v5m0 21v2m1 2v2m1 -18v4m1 -4v4m1 -2v1m1 -16v1m2 -43v53m1 4v5m1 -7v10m0 6v5m1 12v1m1 -2v2m1 -19v8m0 10v2m1 -20v4m1 15v2m1 -8v4m3 -20v20m1 -7v2m0 7v6m2 -35v1m0 13v3m1 -25v3m2 -21v2m1 11v16m1 -2v8m1 -2v8m0 4v14m2 -7v5m1 -34v2m3 -10v5m1 -29v4m0 23v3m1 6v1m1 -10v22m1 -13v6m1 -2v4m4 -12v6m0 16v1m1 -4v3m2 -30v1m0 7v6m1 -9v6m0 8v4m1 -13v2m3 -8v5m0 15v4m1 -48v3m1 35v21m1 -10v1m1 15v4m2 -19v5m3 -26v1m1 0v9m0 6v6m3 -10v3m1 -11v3m1 1v2m1 7v6m1 5v3m1 -11v4m2 -53v6m1 10v17m2 -3v5m2 -23v2m1 -1v1m0 17v6m1 -8v14m1 -14v1m1 9v3m0 9v2m2 -10v5m0 6v10m2 -10v3m0 6v1m2 -14v1m0 9v2m1 0v2m0 5v4m1 -7v2m3 -8v3m0 10v2m1 -9v1m0 6v2m1 -13v1m3 -8v1m1 -34v1m1 15v6m1 -28v5m1 11v23m1 -14v3m2 -4v5m1 2v7m1 5v2m1 -24v3m1 -7v3m0 8v5m1 2v2m3 -76v4m0 21v5m1 -9v29m1 -7v2m0 6v4m1 -7v19m1 -4v7m2 3v3m0 4v3m4 -65v10m1 -12v1m0 8v1m2 -26v8m1 -5v27m0 15v3m2 -8v4m1 -7v4m0 15v5m1 -19v16m1 4v3m1 2v2m2 -46v34m1 3v23m2 -14v2m1 11v1m1 -19v7m0 7v3m1 -7v11m0 5v1m2 -11v3m1 -3v1m0 11v1m2 -43v4m2 -1v6m1 3v1m1 -34v4m1 -1v1m0 15v2m1 -17v1m0 17v2m1 -10v21m1 -6v15m1 -2v4m0 9v1m2 -20v1m1 -4v5m0 6v5m3 -154v21m0 26v5m0 13v6m1 -24v9m0 7v24m1 -22v10m2 -16v11m1 -45v6m0 29v10m0 18v1m1 -29v4m1 27v36m1 -10v7m1 7v4m1 -16v2m0 22v1m1 -19v5m1 -11v3m3 -13v3m2 -48v13m0 10v20m2 -19v21m0 10v2m1 -37v4m3 -40v1m1 -5v8m0 18v12m1 -48v8m1 -3v7m0 18v7m2 -33v3m1 11v32m1 2v12m0 17v5m1 -9v1m0 19v2m1 2v2m1 -19v9m0 12v15m1 -24v5m1 -1v4m0 7v4m1 -3v5m3 -15v4m2 2v2m1 -21v7m1 -5v2m2 -58v4m1 25v3m1 -26v5m0 18v1m1 -18v54m1 10v8m1 -1v4m1 -3v10m2 -20v4m3 -42v3m2 5v6m0 16v3m1 -21v11m0 5v3m1 -15v3m0 14v2m1 -26v8m0 13v1m1 -6v3m2 -24v10m2 0v1m1 -27v3m1 13v38m1 -4v18m3 -15v24m2 -17v2m1 -1v3m1 -24v6m0 7v3m1 2v13m1 -1v2m1 -15v6m1 9v1m1 -24v5m0 16v6m1 0v1m2 -18v4m2 10v2m1 -19v1m1 2v1m4 -17v11m1 -4v6m0 15v3m1 -11v3m2 -21v1m1 -8v1m1 10v17m1 1v3m2 -17v19m1 1v9m3 6v2m2 -27v1m2 -3v1m0 10v2m0 3v2m2 -31v7m1 16v6m1 -16v1m1 9v1m0 8v2m1 -14v10m1 -11v2m1 -12v6m1 7v1m0 6v8m1 -12v1m2 -3v6m3 -14v6m1 -8v3m1 1v2m0 9v1m1 -9v15m1 5v1m3 -41v3m0 13v6m1 -6v1m1 -5v3m0 12v2m1 -21v2m1 15v1m3 -257v81m1 37v38m0 2v47m5 -36v2m1 -3v18m1 -22v11m0 6v6m0 3v11m2 -17v20m0 3v10m1 -8v1m1 7v9m0 6v2m2 0v1m1 -8v7m0 10v3m1 -23v5m0 14v1m1 11v1m2 -24v11m0 11v2m1 -17v1m0 8v2m1 1v4m1 -4v2m5 -45v25m1 -7v2m0 13v1m1 -6v2m1 -5v3m1 2v5m0 7v2m1 -2v3m1 -12v11m1 5v1m1 -26v1m1 12v1m1 14v1m2 -86v8m1 -13v2m1 -18v7m0 19v7m1 -4v11m1 21v1m1 -36v14m1 -9v5m3 -88v21m0 25v1m2 -62v4m0 12v52m1 -5v5m0 14v17m1 -23v20m0 6v1m1 -12v19m0 11v2m1 -12v1m1 0v12m2 6v1m0 9v7m1 -13v3m1 4v9m0 6v5m1 -5v1m0 8v4m1 -4v3m2 -31v1m0 10v3m1 -4v26m2 -47v1m1 9v11m1 6v2m1 -26v9m1 -34v10m2 -21v6m1 12v7m1 2v7m2 -1v12m0 4v14m1 -27v1m1 8v2m0 17v2m1 -6v2m1 0v1m1 -2v2m0 2v7m2 -53v1m0 25v2m2 -77v10m1 7v5m1 11v11m0 15v2m1 -6v11m1 -8v4m0 9v12m2 -12v3m3 -20v10m1 -10v20m1 1v19m1 -15v1m1 8v1m1 -5v2m0 9v7m3 -2v3m2 -4v2m1 -2v1m2 2v2m1 -32v1m0 9v7m1 -6v5m0 3v7m4 -42v15m1 -6v20m1 -4v2m1 -95v4m2 -174v6m2 -130v115m1 -11v21m1 -39v24m0 37v44m1 -3v33m1 -16v8m1 26v2m1 -41v32m0 32v6m1 -35v10m0 26v12m1 -4v5m1 7v8m2 -5v3m1 26v6m3 -106v12m0 32v9m1 -35v18m1 5v42m1 -9v2m1 -7v44m1 -5v4m2 -33v29m1 -3v5m1 3v1m1 -20v1m1 -51v7m1 -2v4m0 21v18m4 -47v8m2 -4v3m2 -57v24m0 26v7m1 -45v41m0 18v35m1 -34v25m0 9v3m1 -13v11m0 7v10m1 0v1m2 -38v21m1 -6v12m0 10v8m2 -20v7m1 -24v8m0 27v3m2 -41v7m1 -2v10m2 -19v10m0 17v4m1 -18v24m2 -55v5m0 8v3m0 13v4m1 -43v61m1 7v12m1 0v13m1 -18v3m3 -9v33m1 3v4m2 -44v13m3 -46v32m0 11v6m1 -59v2m1 -2v4m0 31v4m1 -36v23m0 18v16m2 -21v1m1 -4v3m2 -23v5m0 14v3m1 -10v3m1 1v7m1 -1v17m1 -10v8m0 12v3m0 5v3m1 5v1m3 -44v2m3 -55v20m0 13v4m1 -23v21m0 21v1m1 -28v4m0 22v19m1 -14v10m1 -3v9m0 7v13m1 -25v2m0 23v1m2 -53v2m3 -21v5m1 -40v18m0 14v24m1 -33v21m1 -3v34m1 1v2m1 -3v20m3 -10v2m2 -132v73m3 -47v29m0 30v2m4 -81v58m1 -16v20m1 -5v28m2 33v1m1 -31v4m0 14v7m4 -70v3m3 -25v21m0 23v1m1 -44v3m1 30v1m1 -5v12m1 -39v25m0 5v14m1 -30v14m1 -3v28m0 7v4m1 -23v5m2 2v6m1 -5v20m0 13v4m1 -4v6m1 15v3m1 -47v5m4 -20v5m1 -23v7m1 -24v2m3 3v10m1 -23v1m1 30v25m2 -18v14m1 5v5m0 21v3m1 -49v4m2 2v8m1 -2v11m0 17v16m2 -32v7m1 8v2m1 29v2m2 -19v9m0 5v11m1 -17v4m2 -16v6m1 14v1m2 -21v1m2 -40v25m1 -7v4m0 10v2m1 -13v25m2 7v1m1 5v1m3 -23v5m0 15v10m1 -2v6m3 -1v3m1 -12v11m0 11v3m1 -14v4m1 17v1m1 -11v1m1 -6v1m1 21v1m1 -10v3m1 3v2m1 -29v3m4 10v6m2 -14v6m0 13v2m1 -19v2m4 -40v6m0 13v10m2 -31v21m1 -6v12m0 6v3m1 -7v7m0 5v6m1 -9v2m0 9v3m1 4v5m1 -7v10m2 -1v1m1 -14v3m1 2v2m0 7v3m1 -3v1m1 -1v3m1 -42v7m1 1v3m0 16v4m1 0v2m1 -13v2m3 -13v8m0 7v1m2 8v1m1 -7v1m1 -17v4m3 -15v4m1 1v3m2 -26v5m0 19v2m1 -19v10m0 7v4m1 -10v7m0 15v4m1 5v3m2 -10v1m0 9v6m2 -22v3m0 8v2m1 -16v4m0 15v1m1 -5v8m2 2v1m1 -20v1m3 -38v6m0 13v4m2 -78v58m1 -11v25m0 12v6m1 -37v5m1 9v7m2 -18v3m1 6v17m0 7v1m1 -1v4m2 -40v3m0 10v2m4 -46v4m1 6v35m1 -4v24m1 -9v7m0 8v2m1 -17v5m0 15v1m1 -4v1m1 -14v1m2 -45v14m0 10v5m1 -8v2m1 6v8m1 -13v1m0 15v3m1 -39v11m0 12v9m1 7v1m1 -3v10m7 -112v14m0 22v16m1 -25v7m0 11v20m3 -114v38m1 -41v5m0 42v4m1 -41v71m2 10v23m0 14v9m1 -6v11m2 4v5m1 -32v1m1 -17v7m1 2v1m0 15v10m1 -7v23m2 0v1m2 -17v9m0 3v10" stroke="#d0002c"/></g>
<g shape-rendering="crispEdges" fill="none" stroke-width="1"><path d="M16.5 1543v2m1 -3v3m1 -3v3m1 -3v4m1 -4v4m1 -4v4m1 -4v4m1 -6v5m1 -6v4m1 -5v4m1 -4v4m1 -4v4m1 -3v5m1 -5v5m1 -5v4m1 -3v5m1 -3v3m1 -4v4m1 -5v4m1 -4v4m1 -4v7m1 -5v5m1 -4v4m1 -5v5m1 -7v5m1 -5v4m1 -4v2m1 -2v2m1 -4v4m1 -4v4m1 -3v3m1 -3v3m1 -3v3m1 -4v4m1 -5v5m1 -6v6m1 -9v6m1 -6v5m1 -4v4m1 -3v3m1 -4v4m1 -4v3m1 -2v2m1 -2v2m1 -3v3m1 -3v3m1 -3v2m1 -2v3m1 -3v3m1 -4v4m1 -4v3m1 -4v4m1 -5v5m1 -5v4m1 -4v6m1 -4v7m1 -6v6m1 -6v6m1 -3v7m1 -6v6m1 -5v5m1 -7v4m1 -5v4m1 -4v4m1 -4v4m1 -4v4m1 -5v5m1 -5v3m1 -3v3m1 -4v4m1 -5v4m1 -4v4m1 -4v3m1 -5v5m1 -6v5m1 -5v3m1 -5v4m1 -4v4m1 -4v3m1 -4v3m1 -3v3m1 -5v4m1 -5v5m1 -5v3m1 -4v3m1 -3v5m1 -4v4m1 -4v4m1 -5v4m1 -4v4m1 -5v4m1 -4v6m1 -4v4m1 -5v3m1 -5v5m1 -7v7m1 -9v6m1 -6v5m1 -4v7m1 -5v7m1 -4v5m1 -3v4m1 -9v9m1 -10v9m1 -9v6m1 -6v5m1 -6v5m1 -5v4m1 -5v4m1 -4v3m1 -3v3m1 -5v5m1 -7v5m1 -6v5m1 -7v5m1 -6v6m1 -6v7m1 -5v6m1 -6v7m1 -7v7m1 -9v6m1 -6v10m1 -8v11m1 -8v11m1 -5v7m1 -7v7m1 -10v10m1 -12v8m1 -9v9m1 -12v7m1 -9v8m1 -8v6m1 -4v5m1 -8v8m1 -8v8m1 -7v9m1 -7v8m1 -9v12m1 -12v14m1 -6v7m1 -7v11m1 -13v13m1 -13v10m1 -7v6m1 -6v7m1 -9v9m1 -9v7m1 -6v14m1 -12v17m1 -7v8m1 -12v12m1 -14v11m1 -11v6m1 -5v7m1 -7v11m1 -6v6m1 -6v12m1 -11v11m1 -15v14m1 -14v8m1 -8v7m1 -8v8m1 -8v7m1 -7v7m1 -8v8m1 -8v8m1 -9v5m1 -8v8m1 -8v6m1 -5v5m1 -3v4m1 -4v6m1 -5v12m1 -10v10m1 -6v7m1 -6v9m1 -9v11m1 -8v9m1 -4v4m1 -8v8m1 -10v8m1 -8v6m1 -6v6m1 -6v6m1 -8v8m1 -8v9m1 -6v7m1 -8v12m1 -12v14m1 -9v25m1 -18v28m1 -15v18m1 -15v15m1 -15v9m1 -9v8m1 -8v16m1 -16v23m1 -15v17m1 -20v20m1 -20v9m1 -10v10m1 -10v7m1 -7v5m1 -5v6m1 -6v6m1 -6v8m1 -7v7m1 -6v11m1 -10v10m1 -9v9m1 -9v9m1 -7v11m1 -6v14m1 -10v11m1 -8v8m1 -11v8m1 -9v7m1 -12v10m1 -16v14m1 -16v11m1 -11v8m1 -6v6m1 -6v6m1 -7v6m1 -8v8m1 -8v6m1 -5v5m1 -7v7m1 -8v5m1 -5v8m1 -6v8m1 -7v7m1 -6v6m1 -5v5m1 -6v5m1 -11v10m1 -12v10m1 -10v4m1 -4v4m1 -6v6m1 -7v6m1 -8v6m1 -7v7m1 -8v5m1 -6v7m1 -7v8m1 -6v6m1 -6v6m1 -7v7m1 -7v9m1 -6v6m1 -7v6m1 -6v5m1 -5v5m1 -9v9m1 -9v6m1 -6v5m1 -5v5m1 -6v6m1 -6v5m1 -5v5m1 -8v8m1 -8v7m1 -7v9m1 -8v11m1 -5v5m1 -5v4m1 -6v6m1 -7v6m1 -6v4m1 -4v5m1 -6v6m1 -8v7m1 -10v8m1 -9v6m1 -6v4m1 -6v5m1 -6v5m1 -5v6m1 -5v10m1 -6v6m1 -4v9m1 -9v11m1 -8v8m1 -8v7m1 -7v6m1 -6v8m1 -7v8m1 -4v5m1 -7v7m1 -8v6m1 -6v5m1 -6v6m1 -10v9m1 -11v8m1 -8v5m1 -4v7m1 -7v11m1 -7v8m1 -4v4m1 -8v8m1 -10v7m1 -8v5m1 -5v4m1 -4v4m1 -7v6m1 -7v6m1 -8v5m1 -5v5m1 -5v5m1 -5v6m1 -5v5m1 -5v4m1 -6v6m1 -8v6m1 -8v5m1 -5v5m1 -5v3m1 -4v4m1 -4v4m1 -5v5m1 -6v5m1 -7v7m1 -9v6m1 -7v6m1 -6v6m1 -6v8m1 -5v7m1 -5v7m1 -9v9m1 -10v5m1 -5v5m1 -5v5m1 -6v5m1 -8v7m1 -7v5m1 -5v4m1 -5v6m1 -6v6m1 -5v4m1 -4v6m1 -6v6m1 -6v6m1 -5v5m1 -5v5m1 -4v6m1 -5v7m1 -5v6m1 -7v7m1 -7v7m1 -5v15m1 -14v20m1 -14v14m1 -14v10m1 -13v9m1 -9v8m1 -6v15m1 -15v16m1 -9v9m1 -9v9m1 -13v12m1 -14v14m1 -17v9m1 -9v6m1 -6v8m1 -8v10m1 -4v6m1 -5v6m1 -12v12m1 -13v13m1 -13v4m1 -4v6m1 -6v6m1 -8v8m1 -9v6m1 -7v7m1 -8v5m1 -5v3m1 -6v7m1 -9v9m1 -9v7m1 -8v8m1 -8v8m1 -8v4m1 -5v5m1 -5v5m1 -6v5m1 -6v4m1 -6v5m1 -6v6m1 -6v4m1 -4v7m1 -4v4m1 -3v9m1 -8v9m1 -4v7m1 -4v7m1 -7v7m1 -7v6m1 -6v6m1 -8v7m1 -11v11m1 -11v6m1 -6v4m1 -6v6m1 -6v7m1 -6v6m1 -6v4m1 -6v5m1 -5v5m1 -5v4m1 -7v7m1 -9v9m1 -10v6m1 -6v4m1 -4v4m1 -5v8m1 -8v8m1 -5v6m1 -5v5m1 -5v4m1 -3v7m1 -7v9m1 -4v5m1 -6v6m1 -9v6m1 -7v7m1 -7v3m1 -3v5m1 -5v6m1 -7v7m1 -8v6m1 -7v5m1 -6v4m1 -5v3m1 -5v5m1 -6v5m1 -5v4m1 -5v4m1 -4v4m1 -5v5m1 -5v4m1 -4v4m1 -6v5m1 -7v6m1 -6v6m1 -6v7m1 -7v7m1 -8v7m1 -8v6m1 -11v10m1 -11v8m1 -9v5m1 -5v7m1 -7v10m1 -6v7m1 -5v5m1 -5v6m1 -5v5m1 -8v8m1 -8v6m1 -5v5m1 -7v7m1 -11v11m1 -11v7m1 -7v6m1 -6v8m1 -6v6m1 -5v5m1 -4v4m1 -9v8m1 -9v8m1 -8v5m1 -3v4m1 -8v8m1 -8v7m1 -9v6m1 -6v6m1 -7v5m1 -6v5m1 -5v5m1 -5v4m1 -7v7m1 -10v9m1 -13v10m1 -10v6m1 -7v6m1 -6v7m1 -4v5m1 -5v6m1 -6v11m1 -7v8m1 -5v8m1 -9v9m1 -11v11m1 -12v6m1 -8v6m1 -7v5m1 -6v6m1 -6v7m1 -8v8m1 -8v8m1 -9v5m1 -6v6m1 -6v8m1 -6v6m1 -6v5m1 -6v3m1 -5v5m1 -6v5m1 -5v5m1 -5v4m1 -4v4m1 -4v3m1 -6v5m1 -5v5m1 -5v6m1 -6v6m1 -6v5m1 -6v5m1 -5v7m1 -8v8m1 -9v8m1 -10v5m1 -8v8m1 -8v8m1 -5v7m1 -5v5m1 -6v5m1 -5v7m1 -5v10m1 -8v11m1 -7v8m1 -7v7m1 -14v13m1 -17v13m1 -15v8m1 -10v8m1 -10v9m1 -10v7m1 -7v14m1 -9v12m1 -8v8m1 -11v9m1 -11v10m1 -10v11m1 -8v8m1 -8v7m1 -6v9m1 -8v8m1 -9v8m1 -10v7m1 -12v10m1 -12v11m1 -11v5m1 -5v6m1 -5v6m1 -4v5m1 -5v5m1 -4v4m1 -5v4m1 -4v4m1 -6v5m1 -5v5m1 -5v5m1 -6v6m1 -8v5m1 -5v8m1 -6v6m1 -9v8m1 -8v8m1 -8v12m1 -9v9m1 -4v5m1 -7v7m1 -7v5m1 -5v5m1 -7v6m1 -6v6m1 -5v7m1 -7v24m1 -20v20m1 -17v16m1 -16v10m1 -8v9m1 -9v18m1 -12v12m1 -14v10m1 -12v8m1 -12v11m1 -15v11m1 -14v10m1 -11v6m1 -8v7m1 -7v7m1 -6v7m1 -4v8m1 -8v11m1 -14v14m1 -14v13m1 -9v9m1 -7v12m1 -9v13m1 -7v11m1 -9v9m1 -10v8m1 -8v14m1 -10v13m1 -10v10m1 -18v16m1 -18v13m1 -15v8m1 -8v6m1 -9v7m1 -11v10m1 -10v7m1 -5v5m1 -5v5m1 -7v7m1 -8v6m1 -10v9m1 -10v7m1 -7v6m1 -4v5m1 -5v7m1 -6v8m1 -7v9m1 -5v9m1 -13v13m1 -14v13m1 -15v7m1 -10v10m1 -11v6m1 -6v5m1 -6v4m1 -4v5m1 -6v6m1 -6v6m1 -5v6m1 -5v9m1 -6v9m1 -8v8m1 -14v14m1 -14v10m1 -9v8m1 -8v8m1 -8v9m1 -6v8m1 -5v8m1 -12v12m1 -14v10m1 -10v5m1 -6v5m1 -6v5m1 -7v6m1 -10v9m1 -10v7m1 -7v8m1 -8v8m1 -9v5m1 -5v6m1 -5v5m1 -7v7m1 -7v6m1 -9v7m1 -8v8m1 -9v6m1 -6v9m1 -7v7m1 -4v4m1 -8v7m1 -11v11m1 -13v9m1 -12v9m1 -9v7m1 -6v9m1 -6v6m1 -4v8m1 -10v10m1 -12v9m1 -11v7m1 -7v7m1 -6v5m1 -5v4m1 -4v6m1 -6v6m1 -5v4m1 -4v4m1 -6v6m1 -8v8m1 -11v7m1 -9v7m1 -7v8m1 -7v7m1 -5v7m1 -6v6m1 -6v4m1 -6v4m1 -5v5m1 -6v5m1 -6v6m1 -7v5m1 -7v7m1 -9v6m1 -7v6m1 -6v6m1 -8v7m1 -9v9m1 -9v5m1 -8v8m1 -10v8m1 -9v6m1 -6v7m1 -5v5m1 -12v12m1 -18v16m1 -17v9m1 -13v8m1 -8v22m1 -18v27m1 -15v15m1 -9v9m1 -16v14m1 -16v15m1 -15v15m1 -12v14m1 -10v17m1 -17v17m1 -10v9m1 -9v6m1 -9v9m1 -11v11m1 -14v9m1 -9v6m1 -9v7m1 -8v6m1 -7v5m1 -5v8m1 -4v7m1 -9v9m1 -10v9m1 -9v6m1 -5v5m1 -7v7m1 -9v9m1 -12v8m1 -12v11m1 -16v11m1 -11v9m1 -12v9m1 -9v7m1 -8v8m1 -8v7m1 -7v7m1 -7v6m1 -6v6m1 -6v8m1 -5v13m1 -13v22m1 -12v13m1 -12v17m1 -16v16m1 -16v12m1 -10v12m1 -8v10m1 -18v18m1 -18v33m1 -24v32m1 -13v17m1 -14v14m1 -19v17m1 -18v9m1 -12v10m1 -19v19m1 -23v21m1 -24v14m1 -14v5m1 -8v8m1 -10v7m1 -7v5m1 -5v5m1 -5v5m1 -6v6m1 -7v6m1 -9v9m1 -9v8m1 -10v7m1 -10v9m1 -14v12m1 -12v10m1 -9v14m1 -9v14m1 -8v11m1 -10v11m1 -7v7m1 -8v8m1 -11v8m1 -18v18m1 -24v18m1 -23v14m1 -17v9m1 -13v11m1 -11v12m1 -9v24m1 -22v26m1 -7v11m1 -11v11m1 -17v15m1 -16v11m1 -11v9m1 -10v9m1 -9v6m1 -14v15m1 -17v17m1 -17v9m1 -9v8m1 -6v6m1 -10v8m1 -10v10m1 -12v7m1 -7v7m1 -10v10m1 -11v8m1 -9v9m1 -10v8m1 -12v9m1 -10v9m1 -10v5m1 -5v7m1 -6v7m1 -10v10m1 -13v10m1 -10v11m1 -10v10m1 -18v16m1 -18v39m1 -39v50m1 -17v37m1 -26v54m1 -37v50m1 -30v30m1 -46v46m1 -54v34m1 -34v23m1 -18v18m1 -37v31m1 -32v27m1 -31v14m1 -24v22m1 -23v13m1 -15v17m1 -28v28m1 -30v32m1 -32v33m1 -15v15m1 -32v32m1 -38v27m1 -27v16m1 -15v15m1 -18v10m1 -10v10m1 -16v16m1 -27v26m1 -32v20m1 -20v12m1 -18v26m1 -26v30m1 -9v14m1 -13v23m1 -19v19m1 -19v16m1 -13v17m1 -17v19m1 -21v23m1 -23v23m1 -41v35m1 -35v25m1 -33v26m1 -29v19m1 -22v14m1 -14v12m1 -15v14m1 -14v14m1 -16v16m1 -18v15m1 -15v17m1 -27v27m1 -27v21m1 -19v29m1 -14v19m1 -12v14m1 -23v23m1 -32v28m1 -43v33m1 -36v27m1 -27v20m1 -16v16m1 -20v19m1 -21v12m1 -17v17m1 -17v12m1 -12v12m1 -20v19m1 -22v18m1 -28v17m1 -17v16m1 -14v16m1 -16v30m1 -20v22m1 -19v19m1 -29v22m1 -26v20m1 -20v15m1 -26v26m1 -26v20m1 -15v10m1 -12v13m1 -13v13m1 -11v16m1 -14v14m1 -20v20m1 -27v21m1 -22v14m1 -14v32m1 -25v26m1 -18v23m1 -23v23m1 -30v19m1 -34v31m1 -38v27m1 -27v12m1 -11v22m1 -14v20m1 -18v18m1 -26v20m1 -29v27m1 -27v29m1 -10v16m1 -25v25m1 -29v26m1 -37v23m1 -26v25m1 -25v12m1 -10v34m1 -34v52m1 -26v26m1 -26v37m1 -20v26m1 -19v19m1 -32v32m1 -32v28m1 -29v38m1 -40v40m1 -57v34m1 -38v28m1 -28v21m1 -14v21m1 -15v37m1 -31v36m1 -15v24m1 -14v25m1 -22v24m1 -24v29m1 -33v33m1 -34v22m1 -22v37m1 -19v31m1 -22v22m1 -16v13m1 -20v14m1 -20v18m1 -21v20m1 -37v27m1 -28v23m1 -29v16m1 -23v23m1 -23v23m1 -20v33m1 -19v22m1 -13v21m1 -19v39m1 -23v30m1 -18v19m1 -16v17m1 -17v17m1 -31v26m1 -30v23m1 -28v26m1 -26v15m1 -18v18m1 -24v22m1 -36v24m1 -24v20m1 -14v25m1 -25v28m1 -14v14m1 -9v12m1 -11v11m1 -14v13m1 -18v16m1 -24v16m1 -20v18m1 -18v9m1 -14v14m1 -14v11m1 -9v18m1 -13v17m1 -13v18m1 -15v15m1 -18v18m1 -27v18m1 -27v22m1 -22v20m1 -16v16m1 -17v10m1 -17v16m1 -16v16m1 -13v13m1 -17v15m1 -15v19m1 -13v13m1 -25v23m1 -27v19m1 -22v11m1 -14v12m1 -13v7m1 -14v14m1 -17v16m1 -16v14m1 -17v17m1 -17v11m1 -11v17m1 -15v15m1 -15v14m1 -13v17m1 -11v19m1 -9v9m1 -9v17m1 -11v11m1 -9v15m1 -15v26m1 -14v14m1 -14v12m1 -11v16m1 -13v13m1 -14v13m1 -30v30m1 -47v36m1 -44v30m1 -38v21m1 -26v19m1 -24v16m1 -16v8m1 -8v8m1 -15v15m1 -19v18m1 -18v15m1 -12v13m1 -17v17m1 -17v13m1 -16v13m1 -25v21m1 -22v18m1 -18v11m1 -15v15m1 -19v13m1 -18v13m1 -13v12m1 -10v16m1 -14v24m1 -16v20m1 -20v20m1 -18v14m1 -18v18m1 -21v14m1 -16v14m1 -20v16m1 -24v21m1 -23v16m1 -17v17m1 -21v12m1 -20v19m1 -26v18m1 -25v20m1 -20v18m1 -13v19m1 -15v41m1 -35v35m1 -34v24m1 -31v27m1 -35v22m1 -36v31m1 -31v25m1 -13v17m1 -28v28m1 -28v25m1 -35v25m1 -27v27m1 -27v29m1 -14v20m1 -18v18m1 -20v18m1 -18v15m1 -24v24m1 -39v31m1 -36v26m1 -26v15m1 -22v22m1 -22v21m1 -16v37m1 -26v26m1 -24v18m1 -18v14m1 -9v12m1 -23v23m1 -35v30m1 -30v17m1 -17v19m1 -19v29m1 -24v36m1 -28v53m1 -32v44m1 -34v34m1 -38v39m1 -39v81m1 -58v58m1 -42v38m1 -58v43m1 -69v67m1 -67v34m1 -33v23m1 -18v18m1 -37v37m1 -43v32m1 -32v25m1 -19v19m1 -36v32m1 -44v41m1 -41v20m1 -20v11m1 -18v16m1 -24v23m1 -23v15" stroke="#000"/></g>
<g clip-path="url(#cO)"><g transform="scale(0.1)" fill="none" stroke-linejoin="round"><path d="M167 20300l2-11 3-192 2 28 2 224 2 14 2 207 3-75 2 234 2-583 2 117 2-91 2 286 3 38 2-43 2-122 2-670 2 16 2 22 3 537 2 125 2 76 2 157 2-1 3-32 2-157 2-259 2-121 2 183 2 181 3 144 2-251 2-225 2 8 2 117 3 185 2-20 2-158 2-275 2 207 2-169 3 475 2-135 2 105 2-382 2 82 2 139 3 120 2-299 2 274 2-10 2 343 3-231 2-4 2-128 2-134 2 151 2-410 3 441 2-231 2 358 2-544 2-116 3 414 2 371 2 45 2-215 2-133 2-296 3-50 2-100 2 281 2 129 2 202 2 0 3-167 2-218 2 177 2-1 2 109 3-28 2-66 2-83 2-138 2 174 2 198 3 48 2-172 2-358 2 274 2 4 3 116 2-370 2-52 2 236 2 287 2 102 3-97 2-277 2-127 2 258 2 165 3 280 2-326 2-102 2-228 2 188 2 96 3 3 2 61 2 71 2-146 2-195 2 317 3-9 2 77 2-381 2 259 2-89 3-44 2-175 2 275 2-69 2 121 2-141 3 47 2-163 2-335 2 334 2 251 3 409 2-304 2-266 2-428 2 416 2 52 3 171 2-88 2-136 2-264 2 45 2 142 3 252 2 127 2-347 2-19 2-403 3 309 2 179 2-79 2 180 2 48 2-9 3-12 2-514 2-29 2-501 2 422 3 104 2 360 2 56 2 124 2-12 2-85 3-26 2 15 2-197 2 72 2 355 2 136 3-55 2-209 2-33 2 8 2-18 3-230 2 76 2 93 2 236 2-32 2-832 3 50 2 241 2 770 2 17 2-437 2-71 3-82 2 214 2 80 2-100 2 103 3-264 2 54 2-166 2-142 2 146 2 162 3 137 2-141 2-181 2 99 2 120 2 42 3-67 2 0 2 39 2 191 2-312 3 26 2-247 2 641 2 6 2-86 2-160 3-292 2 92 2-272 2-111 2 233 2 208 3 416 2-100 2-212 2-353 2 30 3-617 2 597 2-144 2 787 2-229 2 23 3 57 2 58 2 133 2-430 2-154 2-114 3 232 2 102 2-226 2 100 2-154 3 186 2-281 2-88 2 7 2 147 2 332 3-380 2 65 2-328 2 605 2 36 2 335 3-333 2 112 2-318 2 308 2-78 3-12 2-117 2-157 2-202 2 120 2-17 3-169 2 213 2 11 2 583 2-124 2 203 3-109 2 50 2-247 2 284 2-51 3 46 2-298 2-110 2 99 2-2 2-216 3 30 2 51 2 126 2-229 2-187 3-23 2 240 2 14 2-222 2-57 2 142 3 308 2-8 2-17 2 26 2 128 2 2 3 330 2-159 2-134 2-402 2 117 3 17 2-61 2 179 2-4 2 303 2-422 3 251 2-323 2 312 2 0 2-53 2 17 3-170 2 438 2-285 2-662 2-268 3 328 2 739 2-89 2-108 2 74 2 206 3-22 2-236 2-128 2-17 2-154 2 77 3-19 2 340 2-208 2 247 2-195 3 63 2-134 2 192 2-32 2 363 2-95 3 115 2-480 2 50 2-346 2 292 2-139 3 132 2-186 2 214 2 28 2-755 3 208 2 81 2 610 2-229 2 96 2 58 3 41 2-22 2 17 2-48 2-20 2-38 3-301 2-129 2 53 2 469 2-152 3-4 2-179 2-215 2-75 2 132 2 410 3 158 2-307 2 289 2-338 2 94 2-396 3-9 2 211 2-12 2 380 2 50 3 121 2-300 2-184 2-167 2 183 2-16 3 102 2 209 2 39 2 94 2-417 2-108 3-239 2 216 2 307 2-238 2 230 3 12 2 388 2-6 2-419 2-303 2-32 3 58 2 334 2-17 2 278 2-98 2-157 2-71 3 61 2 137 2-236 2-59 2-352 2 258 3 83 2 169 2 123 2-319 2 169 2 110 3 213 2-105 2-296 2-636 2 255 2-405 2 1088 3-247 2 540 2-459 2 225 2-324 2 283 3-226 2 68 2-337 2 154 2-30 2-50 3-1772 2 821 2 276 2 1081 2-675 2 137 2 144 3 127 2-155 2-81 2 159 2-180 2 471 3-1028 2 535 2-219 2 1117 2-260 2 37 3-151 2-19 2 77 2 19 2 3 2-90 2-177 3-82 2-20 2 221 2 168 2-155 2-51 3-88 2-74 2-65 2 57 2 213 2-41 2 8 3 89 2-266 2-339 2-121 2 364 2 287 3-32 2-169 2-385 2 60 2 428 2 326 3 5 2-451 2-17 2-233 2 217 2 73 2 230 3-84 2 146 2-199 2 67 2-192 2-328 3-108 2-477 2 546 2 256 2 444 2 5 3-42 2-481 2-216 2 496 2 205 2 282 2-395 3-31 2-442 2-40 2-14 2 64 2 35 3 340 2 51 2-65 2-256 2 35 2 91 2-69 3 111 2-57 2 154 2-47 2 190 2-135 3 129 2-339 2 268 2-47 2-72 2-456 3-176 2-5 2 200 2 61 2 117 2 25 2-102 3 184 2 57 2 105 2-26 2 25 2 30 3-47 2-141 2-72 2-80 2 170 2-91 3-22 2 12 2 33 2 278 2 44 2 269 2-189 3 155 2-164 2 182 2-148 2-143 2-80 3-105 2 176 2-180 2 164 2-113 2 281 3 82 2-80 2-30 2 55 2 75 2-137 2-301 3 44 2-33 2 42 2 121 2 243 2 54 3-195 2-232 2-96 2 138 2-119 2 178 2-33 3 145 2-123 2-324 2-33 2-54 2 306 3-267 2 195 2-112 2 219 2-196 2 147 3 49 2 14 2 71 2-123 2-10 2-59 2 66 3-150 2 59 2 111 2 39 2-14 2-177 3-41 2 156 2-2 2 345 2-32 2 87 3-242 2-223 2-2 2-42 2 131 2 15 2-39 3 101 2 138 2 271 2-271 2-26 2 15 3 135 2-111 2-154 2 311 2-63 2 65 3-451 2 115 2-228 2-55 2-160 2 573 2-3 3 39 2-306 2 358 2 5 2-24 2-143 3-31 2-179 2-77 2-48 2 43 3 38 2 119 2 7 2-76 2 45 2-71 3 149 2-115 2 61 2-232 2 193 2-17 3 203 2-95 2 143 2 135 2 64 3 54 2-154 2 67 2-201 2 49 2-277 3 244 2-4 2 256 2-312 2 2 3-406 2 523 2-190 2 305 2-381 2 74 3 34 2 129 2 84 2-363 2 49 3-12 2 105 2-77 2-44 2-9 2-30 3 18 2 141 2 60 2 53 2 47 2-100 3-9 2 41 2 66 2 93 2-89 3-17 2 57 2 6 2 2 2-137 2-44 3 272 2 33 2-120 2-432 2 147 3 385 2 206 2-278 2 24 2-107 2 72 3-361 2 48 2-29 2 0 2 57 3 159 2 237 2-44 2-62 2 14 2 46 3-161 2-358 2 334 2-167 2 421 2-307 3 149 2 28 2-62 2-34 2-95 3-140 2 50 2-140 2 65 2-38 2-25 3 144 2-97 2-6 2-75 2 464 3-18 2 25 2-478 2-25 2 119 2 238 3-84 2-291 2-27 2 176 2-67 3 260 2-22 2 88 2-232 2 76 2 66 3 56 2-199 2-211 2-49 2 121 2 197 3 173 2 69 2-155 2-109 2-144 3 204 2 124 2 311 2-79 2-129 2-130 3 119 2 8 2 47 2-135 2-42 3-173 2 243 2-142 2 12 2-191 2 199 3 82 2 195 2-116 2 54 2-146 3 10 2-185 2-38 2 170 2 19 2-286 3-111 2 64 2 197 2 164 2-108 2 41 3-187 2 144 2 152 2-36 2-216 3-313 2-72 2 34 2 102 2 149 2-195 3-67 2 4 2 204 2 117 2-91 3-4 2-9 2 61 2 323 2 210 2-244 3-236 2-572 2 291 2-215 2 111 3-177 2 831 2 301 2-382 2-574 2-227 3 1341 2-49 2-493 2-694 2-503 2 815 3 390 2 247 2 238 2-262 2 305 3 21 2-103 2-923 2 26 2-178 2 666 3-510 2 449 2-177 2 128 2-152 3-93 2-182 2 174 2 605 2 284 2-7 3-458 2-327 2-395 2 533 2 280 3 74 2-147 2-7 2 60 2-65 2-52 3-22 2 65 2 181 2-45 2 20 2-203 3 3 2-121 2 135 2 103 2 147 3-271 2 26 2-66 2 156 2-102 2-14 3-166 2-97 2-85 2 166 2-28 2-161 3-163 2 122 2 17 2 158 2-103 2 221 3 128 2 313 2 74 2-131 2-178 2-252 3 110 2-12 2 147 2 30 2-152 2-19 3-362 2 212 2-21 2 127 2-8 2 113 3-94 2-155 2 15 2 103 2 229 2-89 3 39 2-101 2-22 2-285 2-69 2 131 2 357 3 73 2-159 2-15 2 32 2 155 2 107 3-69 2-171 2-188 2-94 2 165 2 225 3-70 2-87 2-364 2 263 2-48 2 219 3-14 2 56 2 31 2-93 2 75 2-51 3 84 2-7 2 12 2-105 2-53 2-2 3-54 2-60 2 54 2 7 2 59 2-114 3 60 2-21 2 58 2 113 2 122 2-208 3-13 2-113 2 202 2-58 2-56 2 45 3-9 2-227 2 195 2 92 2 188 2-110 3-191 2 179 2-181 2 15 2-155 2 136 3-16 2 66 2-86 2 127 2-16 2 30 3-67 2-6 2-225 2 119 2 44 2 199 3-109 2-54 2 175 2 106 2-258 2-150 3-201 2 422 2 143 2 58 2-219 2-268 3 55 2 111 2 103 2-33 2 41 2-171 2-6 3-17 2-36 2 388 2-26 2 140 2-387 3 105 2 94 2-72 2 79 2-144 2-78 3-326 2 147 2 139 2 37 2-103 2 103 3 139 2-34 2-18 2-235 2 78 2-29 3 192 2 142 2 238 2-187 2-121 2-390 3 201 2 62 2 119 2 64 2 25 2-164 3 93 2-299 2 224 2-294 2 248 2-163 3 31 2 127 2-230 2 184 2-16 2 294 3 36 2-272 2-22 2-522 2 72 2 122 3 351 2-8 2 61 2 77 2 6 2-61 3-94 2-164 2-92 2 51 2 121 2 52 3 129 2 189 2-70 2-63 2-92 2 31 3-150 2-39 2 5 2-29 2 51 2 25 3 5 2-61 2 113 2 238 2-96 2 1 2-135 3 199 2-7 2-28 2 54 2-66 2 99 3-285 2-48 2 69 2 33 2 212 2-208 3 99 2-184 2 101 2 111 2 73 2-485 3-316 2 71 2 682 2 186 2 8 2-79 3-73 2-153 2-14 2 237 2-97 2-125 3-492 2 180 2 177 2 298 2-15 2-199 3 143 2 124 2 40 2-421 2-401 3 530 2 372 2 103 2-817 2 56 3 49 2 514 2-215 2-208 2 118 3-107 2 71 2-757 2-536 2 249 3 793 2 146 2 55 2 116 2 330 3 68 2-326 2 24 2-150 2-36 3 107 2 192 2-60 2-380 2 77 3 321 2 185 2-172 2-192 2-5 3 34 2-66 2 79 2-15 2 146 3-29 2-72 2-32 2-11 2-130 3 257 2 18 2-43 2-396 2 159 3 182 2 254 2-250 2-96 2-167 3 249 2 230 2 40 2 8 2-250 3 158 2-421 2 220 2-146 3 350 2-53 2-2 2-107 2-113 3-685 2 269 2-235 2 400 2-192 3 86 2 165 2-200 2 145 2-158 3-84 2 197 2-87 2 509 2-50 3 399 2-595 2-276 2-1104 2-225 3 1494 2 447 2 123 2-1017 2 111 3 319 2-30 2-188 2 23 2 189 3 393 2 257 2-13 2 14 2-146 3 80 2-62 2-3 2-20 2-92 3 77 2-143 2 134 2-100 2 124 3-349 2 185 2-17 2 258 2-295 3-79 2-265 2 26 2-125 2-47 3 135 2-39 2 121 2 148 3 222 2 299 2-77 2-174 2-188 3 162 2 160 2 105 2-213 2-177 3-7 2-201 2 294 2-103 2 162 3-198 2-36 2-183 2-31 2 44 3 376 2 115 2-105 2-234 2-12 3 256 2 200 2-67 2-387 2-232 3 96 2 211 2 171 2-107 2-331 3-58 2 234 2 328 2-50 2-221 3-47 2 10 2 1 2 13 2-128 3 40 2 152 2-13 2 164 2-38 3 140 2-14 2 100 2-38 2-161 3-260 2 172 2-229 2 401 2-322 3 378 2-495 2 310 2-140 2 215 3-53 2 14 2-44 2-12 3 16 2-80 2 44 2 95 2 20 3-61 2-174 2-101 2 181 2-153 3 72 2-222 2 256 2 244 2 42 3-119 2-157 2-112 2 13 2 142 3-120 2 305 2-222 2 15 2-204 3 141 2 210 2-14 2 48 2-89 3 121 2 27 2-26 2-70 2-344 3 86 2 142 2-50 2 53 2-223 3 184 2-65 2-79 2 110 2 222 3 17 2-146 2 63 2-113 2 222 3-183 2 14 2 8 2-163 2 63 3-206 2 235 2 284 2-218 2-40 3-213 2 305 2 3 2 68 2 71 3-34 2-80 2-89 2-140 2-158 2 233 3-51 2 278 2-482 2 211 2 229 3 244 2-81 2-546 2 244 2-11 2 313 3-550 2 67 2-114 2 356 2-50 2-14 3 39 2 152 2-31 2-43 2-499 2-32 3-93 2 404 2 223 2 96 2-68 2-89 3-223 2-126 2 135 2-108 2 71 3-345 2 232 2 306 2 62 2-133 2-183 3-79 2-103 2-402 2 7 2 542 2 450 3 158 2-96 2-75 2-29 2 99 2-110 3 98 2-157 2 119 2-242 2 347 3 35 2 158 2-361 2-316 2 113 2 154 3 225 2-11 2 15 2-142 2-236 2 22 3-29 2-15 2 34 2-199 2 102 2 133 3 217 2-16 2-343 2 279 2-161 2 166 3-343 2 227 2-88 2 393 2-140 3 40 2-380 2 143 2-214 2-14 2 288 3 195 2-12 2-481 2-107 2 172 2 17 3 54 2 185 2 59 2 43 2-177 2-14 3-100 2-190 2-11 2 3 2 347 3 59 2 163 2-150 2-248 2 128 2 315 3 270 2-211 2-478 2 210 2 122 2 197 3-28 2-264 2-47 2-193 2-93 2-285 3-289 2 301 2 413 2 282 2-16 2-124 3-151 2 73 2 85 2-51 2-119 3-85 2 86 2-384 2 236 2 44 2 380 3-1040 2-41 2-1602 2 2269 2-21 2 981 3-656 2-64 2-209 2 110 2 133 2 116 3-142 2 44 2-71 2 1 2-39 3-71 2 7 2 114 2-46 2 126 2-219 3 126 2-12 2 25 2-93 2-181 2 150 3 147 2 35 2 54 2 9 2 19 2-173 3-32 2 45 2-54 2-165 2 82 2 66 3 141 2-58 2 101 2-15 2 137 3 107 2 104 2-220 2-11 2 68 2 227 3-73 2-205 2 25 2-153 2-13 2-300 3 65 2-5 2 183 2-10 2 79 2 75 3-96 2 86 2-123 2 124 2-139 3-23 2-167 2-39 2 58 2 162 2-23 3 44 2-142 2 70 2-125 2 206 2 37 3 74 2 81 2 14 2-50 2-14 2 28 3 121 2-264 2 23 2-13 2 282 2-46 3-155 2-171 2 164 2 58 2 82 3-320 2 42 2-189 2 295 2 19 2 236 3-233 2-15 2-302 2-29 2 52 2 80 3 174 2-65 2 212 2 191 2-34 2-41 3-260 2-59 2-115 2-10 2 111 3 48 2 108 2 139 2-189 2 29 2-138 3 15 2-112 2-178 2 406 2 67 2 97 3-273 2-41 2-110 2-173 2 174 3 216 2 150 2-196 2 88 2 100 2-36 3-301 2 97 2 23 2 123 2-198 2 252 3-242 2 72 2-128 2 262 2 94 3-7 2-34 2-39 2-3 2 45 2-360 3 37 2 127 2 261 2-130 2-190 2-322 3-278 2 37 2 667 2 288 2 150 3-502 2-439 2-302 2 117 2 602 2-108 3 29 2-428 2 262 2 214 2-15 2-35 3 183 2 242 2-162 2-79 2 61 3 97 2-51 2-294 2 90 2-413 2 128 3 226 2-36 2 136 2-281 2 105 2-121 3 121 2 305 2 189 2 30 2-210 3-157 2-487 2 185 2-241 2 257 2 65 3 178 2 130 2-82 2 49 2-132 2 128 3 40 2 111 2 71 2 60 2-148 3-151 2-102 2 89 2 18 2-61 2 122 3-141 2-47 2 74 2 246 2 48 2-90 3-49 2-42 2-1 2-344 2 366 3 62 2 161 2-232 2-182 2-45 2 41 3 283 2 67 2 94 2-406 2 82 2-13 3 12 2 46 2-49 2 149 2 93 3-96 2 165 2-283 2 43 2-218 2 137 3 136 2-230 2 64 2-84 2-373 2-8 3 238 2 605 2-163 2-208 2 313 3-40 2-178 2-293 2 129 2 12 2-163 3-236 2 225 2-61 2 298 2 92 2 189 3-121 2-302 2 265 2-243 2 27 3-217 2 499 2-103 2-65 2-285 2 129 3 124 2 218 2-175 2-647 2-339 2 284 3 754 2 18 2 40 2-211 2 345 3-60 2 49 2-441 2 220 2 88 2-10 3 13 2-424 2 266 2-342 2 480 2 33 3 300 2-112 2-280 2-236 2 3 3 207 2 91 2-123 2 109 2-86 2 33 3-11 2-122 2 85 2-613 2 296 2-49 3 702 2 59 2-117 2-333 2-587 3 336 2 59 2 213 2-141 2 185 2 209 3-204 2 9 2-195 2 206 2-10 2-175 3-123 2-279 2 272 2 198 2-658 3 367 2-71 2 787 2-240 2-36 2-312 3 92 2 143 2 304 2 4 2 173 2 12 3-254 2-183 2 33 2 457 2-215 3 242 2-320 2 10 2-251 2 196 2 40 3-324 2-184 2 258 2 90 2-107 3-290 2 358 2 86 2 65 2-412 2 92 3 189 2-202 2 140 2-52 2 361 2-311 3-28 2-168 2 264 2-81 2-65 3-466 2-178 2 72 2 74 2 302 2 167 3 466 2 48 2-187 2-95 2-82 3 187 2 40 2-2 2 7 2-92 2-22 3 65 2-285 2 167 2-29 2 134 3-694 2-133 2-289 2 592 2 118 2 192 3 179 2-58 2-22 2-146 2-241 3-6 2 75 2-52 2 216 2-308 2 257 3-159 2 197 2 102 2 48 2-97 2-5 3 241 2 78 2-53 2-285 2 127 3 127 2 308 2-422 2 22 2-262 2 339 3-5 2 191 2-216 2-166 2-249 3 86 2 127 2-163 2 256 2-53 2 245 3-303 2-388 2-407 2 298 2 167 3 453 2-182 2 72 2-12 2-55 2 115 3-223 2 142 2-42 2 63 2-276 3 320 2-7 2 284 2-666 2 83 2 82 3 600 2 26 2-101 2-313 2-21 2 135 3 77 2 34 2 9 2 23 2 63 3-197 2-198 2-162 2 230 2 201 2-108 3 26 2-57 2 40 2-422 2-9 3 184 2 377 2 82 2-105 2-193 2-227 3 64 2-9 2-127 2 134 2 143 3 175 2 88 2 13 2-92 2-214 2-231 3 80 2 206 2-166 2 328 2-371 3 198 2-381 2 100 2 163 2 130 2 62 3 27 2 45 2 41 2 23 2-181 3 63 2-153 2 207 2-320 2 313 2-20 3 41 2-146 2-192 2 201 2-34 2-255 3 158 2 0 2 240 2-225 2 171 3 261 2-289 2-154 2-971 2 632 2 298 3 711 2-53 2-61 2-37 2 61 3-103 2 188 2-755 2 19 2-77 2 598 3-113 2-24 2 23 2-284 2-290 3-64 2 278 2-82 2 132 2 274 2-110 3-17 2-95 2 198 2-268 2-390 3 6 2 113 2 443 2-83 2-31 2-443 3 252 2 54 2 317 2-155 2 331 2-280 3 120 2-213 2 195 2-55 2 44 3 141 2-192 2-345 2-92 2 143 2 210 3-298 2 1 2 248 2 159 2 162 3-164 2 122 2-31 2-207 2 143 2-141 3 367 2-468 2-57 2 62 2 513 3-30 2-177 2-329 2 162 2-94 3-123 2 40 2-77 2 239 2-307 2 113 3-836 2 561 2-78 2 450 2-402 3 263 2 464 2-68 2 37 2-129 3 113 2 175 2 5 2 216 2-538 2-18 3-122 2 310 2-466 2 62 2 86 3 266 2-158 2-131 2 269 2-73 3-138 2-160 2-63 2-157 2 316 2 32 3 330 2-404 2 173 2 76 2 149 3-179 2-44 2-290 2 220 2 26 3 452 2-61 2-265 2-113 2 12 2 409 3-328 2 284 2-434 2 257 2-1079 3 366 2 322 2 756 2 43 2-364 3-89 2-25 2 295 2 3 2-154 2-157 3-375 2 16 2-243 2 688 2-6 3 9 2-322 2 35 2 302 2 125 3-360 2-250 2-149 2 478 2 106 2 231 3-75 2-161 2-133 2 187 2-47 3 115 2-305 2 123 2-482 2 268 3 81 2 412 2-307 2 107 2-247 2 147 3-174 2-51 2 88 2-171 2 253 3 126 2 98 2-148 2-92 2-50 3-16 2-163 2 384 2-207 2 207 2-247 3 155 2 56 2-235 2 57 2-460 3 25 2-50 2 277 2 356 2-131 3-220 2-49 2 208 2 66 2-83 3-141 2 48 2 109 2 287 2-120 2-257 3-145 2 235 2 215 2-208 2 92 3 123 2 152 2 159 2-129 2 130 3-224 2-245 2-32 2 109 2 238 2-245 3 124 2-392 2 26 2 18 2 237 3 268 2-316 2 110 2-119 2 308 3-76 2-100 2-207 2 54 2 56 2-163 3-237 2 40 2 161 2 215 2-130 3 87 2-30 2 7 2-106 2 319 3 138 2-915 2-246 2-96 2 1255 2 123 3-31 2-744 2-685 2-484 2 998 3-50 2 511 2 84 2 349 2 2 3-440 2-16 2 206 2 209 2 127 2-196 3 65 2-196 2-84 2-10 2 75 3 26 2-22 2 109 2-7 2-52 3-24 2 69 2 60 2-130 2-105 2-429 3 273 2 89 2 244 2-246 2 220 3 36 2 96 2-240 2 56 2-300 3 139 2-512 2 119 2-929 2 340 2 2 3 577 2 11 2 124 2 262 2 327 3-200 2-567 2 120 2 356 2 448 3-235 2 20 2-17 2-32 2-128 2-299 3 15 2-124 2 128 2-8 2 167 2 233 2 9 3-140 2-98 2 249 2 90 2 114 2-347 3 114 2-180 2-97 2-195 2 227 2 211 2 91 3-312 2 201 2-33 2 303 2-233 2-70 3-277 2 347 2 293 2-109 2-278 2-355 2-96 3 316 2 155 2 226 2-187 2-144 2-121 3 191 2 154 2 139 2-216 2-148 2-926 2 303 3 242 2 886 2-94 2-199 2-209 2 42 3 391 2 25 2 2 2-363 2-206 2-16 2 38 3 136 2 78 2 95 2-85 2-236 2 149 2-4 3 59 2-176 2-112 2 121 2 63 2 144 3-58 2-34 2 143 2 227 2-183 2 49 2-559 3 3 2-162 2 371 2 61 2-85 2-39 3 124 2 291 2-72 2 53 2-48 2 77 2-360 3-348 2-39 2 254 2 51 2-56 2 38 3 278 2-440 2 167 2-354 2 446 2 19 2 166 3 138 2 74 2-321 2 44 2-297 2 376 3-73 2-71 2 69 2-436 2 206 2 78 2-306 3-14 2-78 2 789 2-298 2-50 2-201 3 255 2 22 2 115 2 129 2-150 2 135 2-22 3 128 2-186 2-79 2 271 2 193 2-240 3-309 2-75 2 213 2-79 2 41 2-14 2 76 3-893 2 278 2 139 2 740 2-335 2-169 3-191 2 354 2-90 2 58 2 14 2 133 2-68 3 128 2-232 2-51 2-448 2 3 2-660 3-1344 2-1534 2 1895 2 1921 2 818 2-247 2-152 3-28 2 68 2-194 2-23 2 167 2-28 3 224 2-221 2 86 2-218 2 21 2-89 2-220 3-42 2-392 2 30 2 316 2 374 2 234 3-273 2-289 2 188 2 417 2 104 2 52 2-132 3-361 2 3 2-109 2 612 2-8 2-62 2-88 3-123 2 52 2-171 2-158 2-46 2 40 3-66 2 71 2 229 2 246 2-150 2-202 2-509 3 264 2 145 2 243 2-22 2-100 2-21 3-77 2-293 2 9 2 85 2 418 2 14 2-709 3-11 2-72 2 551 2 103 2 71 2-240 3-256 2-102 2 377 2 112 2-198 2 167 2-174 3 283 2-432 2-34 2 166 2 149 2 69 3-52 2 281 2-35 2-125 2-315 2 199 2 158 3 326 2-171 2-16 2-357 2-87 2-221 3-116 2 434 2-18 2 125 2-1030 2 273 3 362 2 411 2-31 2-133 2 155 2-25 2-37 3 105 2-13 2-163 2 73 2-97 2 190 3-166 2 138 2-382 2 310 2-119 2 421 3-241 2-46 2-200 2 203 2 169 2 84 3-174 2 14 2 12 2 63 2-101 2-143 3-8 2-350 2 258 2 82 2 424 2 15 2-89 3 229 2-307 2 234 2-448 2 316 2 0 3-15 2-312 2 107 2 170 2-53 2-403 3 1 2 421 2 22 2-104 2-65 2 100 3 349 2-134 2-402 2-287 2 106 2 236 3 65 2-37 2 87 2-79 2-30 2 7 2-125 3-208 2 278 2-130 2 170 2-131 2 246 3-115 2-274 2 41 2 251 2 231 2-27 3-54 2-97 2-215 2-118 2-96 2 225 3 76 2 39 2 126 2-856 2 251 2 83 2 612 3-114 2-171 2 172 2-206 2-133 2 214 3 216 2-178 2-279 2 50 2 378 2-100 3-183 2-300 2 114 2 202 2-345 2 353 3-39 2 265 2-199 2-182 2 32 2-2 3 252 2 105 2 21 2-12 2 189 2-26 2 120 3 78 2-95 2 33 2-356 2 306 2-213 3 174 2-369 2-44 2 68 2 204 2-153 3-7 2-93 2 347 2-197 2-224 2-144 3 31 2 441 2-315 2 67 2-248 2 413 3-354 2 179 2 189 2 231 2-293 2-255 2 47 3 205 2-298 2-151 2-814 2 601 2 264 3 655 2-73 2-118 2-128 2-134 2-322 3 193 2 248 2 212 2-310 2-130 2 225 3 273 2-173 2 8 2-31 2-112 2-76 2-67 3 19 2 190 2-222 2 179 2-97 2 249 3-85 2-73 2-43 2 140 2-70 2 57 3-400 2 257 2-154 2 333 2-5 2 101 3-226 2-201 2 143 2 174 2-15 2-273 3-103 2-15 2 108 2 153 2-54 2-126 2-185 3 311 2 371 2 328 2-132 2 9 2-100 3 18 2-192 2-35 2 62 2 154 2-97 3-305 2 75 2-45 2 109 2-374 2 133 3 2 2 161 2-121 2 99 2 216 2 147 3 125 2-1049 2-182 2 54 2 972 2-13 2-10 3-152 2-95 2-397 2-75 2 279 2 196 3-103 2-270 2 138 2 210 2 131 2 112 3-96 2 66 2-207 2 161 2 41 2 8 3-303 2 80 2-21 2 306 2-202 2-77 3-54 2-151 2 80 2 107 2 185 2-235 3-691 2 653 2 267 2 57 2-381 2 333 3 127 2 97 2-567 2 368 2-325 2 71 3-146 2-91 2 212 2 2 2 192 2-96 3 200 2-187 2-117 2-101 2 236 2 102 3 56 2-159 2 92 2-261 2 71 2-332 3 422 2-152 2 251 2-237 2 249 2-264 3-209 2 151 2 60 2 199 2-461 2 134 3-60 2 131 2 267 2 104 2-255 2-191 2-228 3 243 2-101 2 274 2 65 2 105 2 46 3 71 2 100 2 3 2 204 2-31 2-510 3-225 2-164 2 191 2 22 2-93 2 146 3 18 2 29 2 32 2-128 2 288 2-49 3 201 2-361 2-10 2-394 2 512 2 147 3 120 2-153 2 82 2 41 2 15 2-190 3 38 2-195 2 209 2-15 2 23 2-152 3-675 2 316 2 2 2 774 2-79 2 264 3-298 2-61 2-113 2 315 2-94 2-257 3-285 2 5 2 141 2 47 2 30 2 147 3-43 2-13 2-46 2 37 2 95 2-113 3-233 2 137 2-96 2 30 2-284 2 95 3-309 2 89 2 47 2 475 2 121 2-135 3-169 2 48 2 112 2 4 2-62 2 271 3 149 2-17 2-562 2 7 2-1250 2 454 3 562 2 1038 2-15 2-328 2-404 2 96 3 172 2-18 2-19 2 106 2 188 2-308 3-437 2 184 2 262 2 322 2-65 2 3 3-521 2 331 2-15 2 269 2-562 2-77 3-129 2 74 2-38 2 336 2 64 2 20 3-598 2 419 2 136 2 225 2-163 2-62 2 163 3 97 2-71 2-368 2-96 2 182 2 151 3-313 2 10 2 130 2 289 2-208 2 54 3-98 2 115 2-22 2 16 2-105 2-172 3-160 2 7 2 96 2 57 2 49 2 58 3 153 2 252 2-161 2-14 2-283 2 39 3-156 2 222 2 101 2 219 2-305 2-3 3-176 2 98 2 160 2 98 2 211 2-47 3-247 2 110 2 149 2 1 2-388 2-235 3-43 2 31 2-30 2 251 2 113 2-151 3-152 2-473 2 403 2-202 2 708 2-47 3 223 2-147 2-35 2-6 2-117 2-17 3-143 2-88 2 345 2 114 2 26 2-70 3-699 2 522 2-243 2 692 2-314 3 91 2-213 2-62 2-204 2 0 2-46 3-189 2-174 2 81 2 258 2-347 2-3572 3 1273 2 1497 2 1693 2-174 2 41 3 599 2 47 2-98 2-71 2-445 2-247 3-404 2 74 2 308 2 113 2 38 2-284 3 200 2-3 2 59 2-168 2-62 3-95 2 91 2 72 2 223 2-11 2-31 3-111 2 93 2 47 2-33 2 83 2-67 3-6 2 115 2 40 2 113 2-264 3 136 2 62 2-79 2 57 2-153 2 36 3 52 2 71 2 36 2-165 2 106 2 15 3-61 2-11 2-102 2 160 2 47 3-11 2-132 2-78 2 81 2-186 2-100 3 236 2-173 2 322 2-361 2 285 2-104 3 193 2 36 2-134 2 83 2 12 3-375 2 82 2 49 2 281 2 120 2-775 3 206 2-230 2 852 2-66 2-196 2-243 3-155 2 83 2 221 2 320 2-134 3-203 2-283 2 10 2 294 2 172 2 90 3-101 2-45 2-57 2-36 2-126 2 245 3-270 2-17 2-103 2 272 2-49 3-446 2 57 2 18 2 470 2-88 2-20 3-359 2 150 2 14 2 171 2-10 2 70 3-18 2-275 2-179 2-385 2 363 3 187 2 510 2-58 2 23 2 82 2-140 3-80 2-343 2 192 2 58 2 253 2-118 3-282 2 106 2 86 2 442 2-320 3-268 2 18 2 104 2 275 2-280 2-36 3-100 2 244 2-596 2 226 2-286 2 611 3-20 2 250 2 131 2 52 2-460 3-6 2-373 2 464 2-627 2 313 2 180 3 366 2-138 2-113 2 150 2-197 2 63 3-20 2-108 2-955 2-206 2 326 3 592 2-1064 2-103 2-64 2 1313 2 211 3 205 2-264 2-97 2-87 2 128 2 129 3 7 2 144 2 81 2-194 2-26 3-209 2 320 2 89 2 241 2-202 2-65 3-75 2-264 2-232 2 31 2 411 2 70 3-127 2-58 2 180 2-85 2-157 3-289 2 224 2-158 2-119 2 32 2 352 3 309 2-442 2-45 2-12 2 125 2-215 3-116 2-97 2 385 2-153 2 211 3-175 2 14 2 1 2-110 2 389 2 174 3 215 2-29 2 29 2-116 2-19 2-30 3 97 2-169 2-66 2 57 2-43 3 116 2-171 2 134 2-65 2 18 2-215 3-27 2 213 2 26 2-66 2-35 3-54 2 241 2-234 2 67 2-149 2-78 3 307 2-190 2 201 2-236 2 207 2 81 3 59 2-178 2-234 2-24 2 304 3 188 2-129 2-139 2 12 2 246 2-197 3-17 2-60 2 59 2-29 2-78 3-19 2-414 2 82 2 492 2 253 2-116 3-803 2-18 2-298 2 784 2 32 3 368 2-230 2 1 2 122 2 29 2-120 3-130 2-111 2 94 2-117 2 309 3-124 2-1012 2-264 2 437 2 1183 2 73 3-328 2-160 2-131 2 134 2-130 2-367 3 213 2 312 2 27 2-61 2-252 3 151 2-190 2-318 2 177 2 247 2 283 3-142 2-337 2-6 2 74 2 326 3 170 2 76 2-202 2-133 2-158 2 221 3 100 2 112 2-89 2-118 2 16 3 165 2-97 2 116 2-157 2 226 2 46 3-7 2-33 2-89 2 140 2-701 3 107 2 194 2 516 2-216 2-70 2-436 3 111 2-8 2 360 2-99 2 36 3 133 2-29 2-333 2-59 2-26 2 230 3-135 2 275 2-12 2 32 2-33 2-513 3 217 2-354 2 171 2-131 2-88 3 264 2-211 2 319 2-148 2-53 2-272 3 140 2 158 2 376 2-11 2-64 3 88 2-60 2 329 2-378 2 209 2-191 3 226 2 87 2 158 2-144 2-306 3-36 2 246 2 199 2-169 2-137 2-115 3 136 2 90 2 135 2-18 2-433 3-15 2 59 2 196 2 87 2-160 2 28 3-48 2 106 2-128 2-505 2-306 2 306 3 201 2 86 2 182 2-130 2-13 3-167 2 448 2 226 2 165 2-54 2 89 3-374 2-100 2-184 2 302 2 1 3 35 2 19 2-337 2-91 2-22 2 480 3 130 2-124 2-240 2-84 2-80 3 88 2-189 2 446 2 32 2 56 2-177 3-74 2 217 2-310 2-93 2-187 3 393 2 39 2-77 2-261 2 40 2 232 3 92 2-62 2 123 2-116 2 39 2-481 3 242 2-29 2 33 2 122 2-10 3 84 2-408 2 275 2 171 2 140 2-210 3 28 2-176 2 121 2-182 2 384 3 10 2-963 2-55 2-165 2 1222 2-50 3 95 2-130 2-128 2 109 2-56 2-97 3-251 2 260 2 193 2-59 2-359 2-159 3 20 2-279 2 41 2 143 2 347 2 56 3-98 2-34 2-205 2 317 2 146 2 340 3-50 2-49 2-105 2 9 2 109 2-145 3-150 2-306 2 137 2-153 2-104 2-1401 3-119 2 423 2 118 2 298 2 548 2 654 3 341 2-932 2 113 2-1356 2 1222 2-220 3-238 2 392 2-749 2 1269 2-761 2 1084 3 3 2 153 2-123 2-268 2-52 2-171 3 405 2 38 2 14 2-48 2 40 3 198 2-301 2-21 2 10 2 117 2-189 3 110 2-228 2 112 2-134 2-151 2-135 3 167 2 357 2 249 2-65 2-115 2-170 3-140 2 132 2-73 2-2 2 6 2 43 3-4 2-64 2-22 2 59 2-49 2 66 3-95 2 246 2 62 2-78 2-208 2-84 3 272 2-25 2 24 2 34 2 2 2-179 3-176 2 102 2 223 2-112 2-346 2-727 3-394 2 638 2 499 2 219 2-55 2 52 3 319 2-74 2 47 2-326 2 97 2 30 3 273 2-69 2-67 2-149 2-69 2 59 3 113 2 127 2-29 2-218 2-23 2 70 3 172 2-152 2-9 2 12 2 143 2-7 3 3 2-101 2-190 2 55 2 29 2 7 3 126 2 54 2-54 2-612 2 400 2 108 3 436 2-267 2-21 2-134 2-302 2 127 3 35 2 207 2-9 2-159 2-22 2-43 3 9 2-225 2-125 2 111 2 25 2-14 3 48 2-111 2 239 2-182 2 473 2-121 3 277 2-15 2 36 2-161 2-165 2-21 3-62 2 78 2-39 2 144 2-78 2-180 3-105 2 199 2-51 2 37 2-173 3 184 2-91 2 65 2-67 2 247 2-93 3-55 2-337 2 115 2 235 2-14 2 59 3-70 2 70 2-295 2 53 2-58 2 325 3 190 2 200 2-171 2-23 2-117 2 131 3-131 2 375 2-34 2-56 2-356 2 168 3-32 2 113 2-372 2 161 2-96 2 23 3-119 2-204 2 344 2 153 2-31 2-256 3-145 2 273 2 60 2 116 2 66 2-8 3-287 2-72 2 88 2 121 2 64 2-7 3 124 2-159 2-189 2 28 2-162 2 201 3-153 2 190 2-66 2-45 2-191 2 40 3 144 2 355 2 27 2-6 2-331 2-148 3-211 2 149 2 139 2 55 2 120 3 271 2-84 2-230 2-352 2-1343 2 949 3 147 2 1210 2-203 2-129 2 15 2-170 3-114 2 37 2 249 2 64 2-37 3-386 2 31 2-443 2 55 2 60 2 156 3 31 2-174 2 9 2 182 2 159 2 149 3-17 2 39 2 214 2-134 2 59 3-217 2 140 2-18 2-99 2 18 2 26 3 129 2-19 2-444 2-61 2 38 2 446 3-25 2-30 2-101 2-195 2 49 3-954 2 321 2 57 2 891 2 17 2-169 3-54 2 62 2 316 2-130 2-31 2-432 3 344 2-186 2-78 2-70 2 307 3 88 2-682 2-162 2 162 2 776 2-431 3-64 2-416 2 838 2-423 2-149 2-1284 3 1143 2 138 2 661 2-386 2 350 3-59 2-37 2-375 2-522 2 362 2-117 3 476 2-44 2 164 2 39 2-436 2 420 3-92 2 305 2-214 2 97 2-199 3 24 2 135 2-108 2-198 2-451 2 435 3 74 2 19 2-134 2-82 2 113 2-50 3 106 2 108 2-65 2-359 2-274 3 82 2 483 2 193 2 0 2-193 2 174 3-52 2 174 2-330 2 250 2-122 2 238 3-255 2 37 2-117 2 152 2 158 3-82 2-31 2-363 2 433 2-123 2 244 3-550 2 358 2-181 2 396 2-493 2 222 3-205 2 209 2-250 2-435 2 205 3 229 2 130 2 192 2-366 2 135 2-369 3 311 2 144 2-59 2-224 2-91 2-124 3 61 2 113 2 179 2 189 2-188 3 155 2-163 2 227 2-138 2 124 2-32 3 159 2 124 2-165 2-321 2-132 2 339 3 351 2 108 2-48 2-261 2-203 3-102 2 152 2 56 2 43 2 74 2 33 3-136 2-65 2-411 2 275 2-471 2 350 3-128 2 249 2 257 2-145 2 27 3-578 2 167 2-66 2 264 2-88 2 219 3-27 2 53 2-138 2-18 2-47 2-126 3 101 2 107 2 137 2-113 2-80 3-1 2 255 2 84 2 73 2 0 2 119 3-80 2-83 2-308 2 102 2 83 2 112 3-19 2-186 2 73 2-69 2 83 3 21 2 131 2 58 2-11 2-95 2-59 3-1 2-59 2 6 2-299 2 65 2-63 3 256 2-177 2 31 2-5 2 152 2-38 3-368 2-170 2-15 2-267 2-2 2 275 3 564 2 170 2-115 2 100 2-138 2 64 2-17 3 129 2-166 2-379 2 270 2 34 2 311 3-655 2 271 2 170 2 438 2-328 2-331 3-307 2 132 2 161 2 199 2-64 2-226 3 70 2 137 2 140 2-224 2 20 2-90 3 123 2 144 2 151 2 144 2-72 2 13 2 24 3 115 2 25 2-429 2 25 2 234 2 151 3-213 2-324 2 451 2 5 2-180 2-492 3 130 2 94 2 201 2-50 2-24 2-59 3-203 2 152 2-149 2 201 2-306 2 105 3-78 2 103 2 90 2-71 2 8 2 182 2 89 3-40 2-124 2-133 2 72 2-271 2 159 3 39 2 128 2 96 2 39 2-31 2-37 3 98 2 14 2 25 2-162 2-39 2-174 3 176 2 235 2 1 2 19 2-25 2-322 3-87 2-122 2 511 2 12 2-65 2-60 2-79 3-7 2 14 2-67 2 148 2 79 2-72 3 54 2-13 2 205 2-112 2-228 2 40 3-66 2 171 2-71 2 76 2 0 2 237 3-87 2 13 2-261 2-13 2 34 2-210 3 307 2 80 2 115 2-221 2-108 2 29 3-14 2-37 2-222 2 36 2 38 2 544 2-19 3 13 2-261 2 173 2-154 2 42 2-206 3 0 2-64 2 140 2 285 2-106 2-312 3-595 2 477 2 12 2 273 2-435 2 50 3 217 2-106 2 283 2-282 2 242 2-138 3 72 2 144 2-62 2 101 2-419 2 306 2-116 3 274 2-211 2 12 2-135 2-78 2 103 3 204 2-11 2-160 2-244 2-30 2 125 3 74 2 111 2-65 2 157 2 64 2 21 3-225 2-70 2-37 2 178 2 79 2-1 3-29 2 80 2 57 2-69 2-135 2 90 2 152 3-58 2 5 2 28 2 103 2-15 2-157 3-122 2-61 2 47 2 243 2-39 2 118 3-230 2 23 2 29 2 179 2-147 2 13 3-282 2-63 2-79 2-84 2 364 2-217 3 239 2-136 2 73 2 169 2-45 2 86 2-248 3 28 2 187 2 50 2 56 2-178 2 231 3-178 2-89 2-133 2 71 2 290 2-59 3 226 2-773 2 48 2-9 2 369 2 39 3-243 2 377 2 119 2 64 2-347 2-271 2 64 3 237 2-46 2-39 2-203 2 241 2 8 3 104 2-62 2 123 2 157 2-220 2-393 2 177 3-15 2 310 2-395 2 141 2-279 2-109 3 372 2 63 2 95 2-314 2 135 2-14 2 37 3-141 2 183 2-213 2-7 2 54 2-107 3 265 2-631 2 360 2-59 2 330 2-96 2-12 3 9 2-36 2-5 2 243 2 95 2-26 3-86 2 109 2-45 2-74 2-157 2 63 2 225 3 132 2 53 2-181 2-189 2-10 2 59 3 50 2-146 2-82 2 148 2 36 2-13 2-232 3 262 2 144 2 36 2-169 2-109 2-199 3-247 2 162 2 193 2 211 2-150 2-112 2 72 3-155 2 375 2-61 2 249 2-134 2-159 3-171 2 13 2 334 2 47 2-220 2-75 2 88 3 80 2-344 2 317 2-210 2 148 2-302 3 292 2 39 2-398 2 215 2 144 2 526 2-263 3-9 2-564 2 408 2-228 2 295 2-96 3 15 2 85 2-135 2-30 2-236 2 269 2-64 3 106 2-180 2 14 2-97 2-100 2 323 3-21 2 39 2 10 2 118 2 77 2-397 2-23 3-285 2 224 2-167 2 548 2-34 2 259 3-407 2 9 2-243 2-105 2-73 2-78 2 229 3 446 2-45 2-77 2-291 2 184 2 52 3-196 2-24 2-235 2 473 2-127 2 62 2-271 3 483 2 179 2-87 2-260 2 90 2 116 3-40 2-267 2 128 2-5 2-66 2-70 2 148 3 117 2-8 2-272 2-91 2-40 2 12 3 337 2-153 2 149 2-340 2 97 2 51 2-17 3-118 2-28 2-43 2 198 2-212 2 96 3-129 2 284 2-135 2 123 2-60 2 351 2-211 3-291 2-13 2 173 2-58 2-173 2 257 3 291 2 89 2-156 2 119 2-31 2 56 2-171 3 182 2-122 2 56 2-130 2 111 2-51 3-147 2-162 2 210 2-58 2 151 2 82 2 71 3-167 2-274 2-69 2 260 2 21 2 236 3-146 2-146 2-127 2-79 2 46 2 178 2 61 3 41 2-41 2 67 2-127 2-222 2-104 3 278 2 91 2 196 2-285 2 6 2-83 2 199 3-243 2-291 2 180 2 477 2-95 2-329 3-32 2 379 2-260 2-304 2-522 2 826 2-17 3 495 2-152 2-55 2-64 2-42 2-426 3-124 2 23 2 816 2-32 2-42 2-483 3 212 2-81 2 340 2-356 2-171 2-67 2 130 3-14 2-32 2 183 2 348 2-71 2-92 3-17 2-28 2 167 2-31 2-188 2-133 2 80 3 157 2-88 2 29 2 58 2 56 2-232 3-48 2 81 2 136 2 113 2 12 2 67 3-1012 2-174 2 131 2 945 2-81 2-211 2-816 3 315 2 173 2 767 2-135 2-94 2-188 3 65 2-84 2 214 2-69 2 43 2-206 3 17 2-146 2-8 2-44 2 113 2 221 2-328 3 97 2 207 2 298 2-37 2-438 2 67 3-15 2 112 2 102 2-22 2 318 2-273 2 245 3-329 2 91 2 27 2 23 2 39 2-172 3-167 2 34 2-147 2 342 2-90 2 37 3-139 2 70 2-210 2-153 2 2 2 117 2 157 3 150 2 236 2-105 2-19 2-122 2 123 3-428 2 348 2-106 2 212 2-390 2 98 2 290 3-122 2 67 2-301 2 186 2 9 2 91 3 34 2-121 2-328 2 13 2-149 2 362 3-36 2 140 2-183 2-174 2 150 2 30 2 80 3-441 2 122 2 30 2 137 2-17 2 176 3 92 2-42 2 66 2-224 2-572 2-2545 2 2081 3 719 2 1179 2-442 2 165 2 197 2 70 3 82 2-262 2-332 2-292 2 16 2-183 3-122 2-87 2 325 2 173 2 57 2-110 2-130 3 157 2 23 2-274 2-289 2 381 2 390 3 46 2-29 2-113 2 261 2 30 2 27 2-205 3-263 2 82 2-121 2-77 2-225 2 73 3-31 2 50 2 192 2-72 2 42 2-102 3 216 2-79 2 84 2-211 2 240 2-304 2 200 3-125 2 100 2 100 2-70 2 243 2-91 3-29 2-25 2-367 2 9 2-193 2 307 3 353 2 111 2-236 2 106 2-20 2 371 2-238 3 88 2-71 2-21 2-88 2 42 2 124 3-145 2-95 2-34 2 188 2 5 2-370 2-205 3 245 2 264 2 34 2-471 2 96 2-55 3 446 2-234 2 27 2-70 2-30 2-116 3-2205 2 864 2 590 2 1269 2-153 2 4 2 340 3-133 2-128 2-76 2 11 2-165 2-182 3-110 2 265 2 172 2 152 2-165 2-80 3-30 2 87 2-264 2-305 2 191 2 159 3 376 2-61 2 79 2-212 2-180 2 31 3 65 2 147 2 84 2 13 2-588 2-104 3 28 2 623 2 188 2-148 2-20 2-231 3 38 2-239 2-486 2 371 2 181 2 109 3-323 2-167 2 286 2-61 2-33 2-105 2-49 3-82 2 264 2 120 2 139 2-190 2 257 3 26 2 17 2-110 2 218 2 87 2 2 3-295 2 138 2-41 2 297 2-334 2 129 3-149 2 210 2-1059 2-1764 2-247 2 1058 3 2403 2-299 2 196 2-822 2 525 2 210 3-258 2-113 2-64 2 127 2-182 2-4 3 308 2 280 2-24 2-201 2 3 2-56 3-414 2 170 2 300 2 283 2-245 2-310 3 237 2 85 2 45 2-134 2-83 2-38 3-334 2 32 2-380 2 567 2 118 2 183 3-430 2-32 2-123 2 161 2-64 2 20 3 168 2-280 2 170 2-240 2 416 2-14 3-52 2-83 2 174 2 164 2-223 2-201 3 104 2 424 2 110 2-29 2-385 2-113 3-117 2 194 2-137 2-73 2 100 2 274 2 60 3-210 2-250 2-53 2 132 2 206 2 39 3-63 2-68 2 148 2 32 2 45 2-173 3-149" stroke="#00286e" stroke-width="14"/></g></g>
<rect x="1141" y="714" width="1" height="1" fill="#000"/>
<g clip-path="url(#cSR)" fill="none" stroke-linejoin="round"><polyline points="1244.4,318.6 1249.4,318.6 1254.4,318.7 1259.4,318.8 1264.4,319.2 1269.4,319.6 1274.4,320.2 1279.4,320.1 1284.4,319.8 1289.4,319.2 1294.4,319.5 1299.4,319.8 1304.4,320.6 1309.4,320.6 1314.4,320.6 1319.4,320.6 1324.4,321.5 1329.4,322.3 1334.4,322.3 1339.4,322.3" stroke="#000080" stroke-width="1.2"/><polyline points="1244.4,322.3 1249.4,322.9 1254.4,323.3 1259.4,316.1 1264.4,320.2 1269.4,323.3 1274.4,325.4 1279.4,322.9 1284.4,318.2 1289.4,317.1 1294.4,318.2 1299.4,321.3 1304.4,321.3 1309.4,320.2 1314.4,321.3 1319.4,327.1 1324.4,326.0 1329.4,329.6 1334.4,328.5 1339.4,322.3" stroke="#a0522d" stroke-width="1"/></g>
<g clip-path="url(#cSO)" fill="none" stroke-linejoin="round"><polyline points="1244.4,1818.3 1249.4,1804.0 1254.4,1902.6 1259.4,1713.2 1264.4,1806.6 1269.4,1916.8 1274.4,2116.6 1279.4,1888.3 1284.4,1660.0 1289.4,1605.6 1294.4,1735.3 1299.4,1946.7 1304.4,1985.6 1309.4,1920.0 1314.4,1854.6 1319.4,2003.7 1324.4,2034.9 1329.4,2073.8 1334.4,1916.1 1339.4,1758.6" stroke="#00286e" stroke-width="1.4"/></g>
<g clip-path="url(#cSV)" shape-rendering="crispEdges"><rect x="1244" y="796" width="1" height="20" fill="#000"/><rect x="1242" y="797" width="5" height="18" fill="#000"/><rect x="1249" y="755" width="1" height="92" fill="#d0002c"/><rect x="1247" y="822" width="5" height="14" fill="#d0002c"/><rect x="1254" y="813" width="1" height="76" fill="#d0002c"/><rect x="1252" y="833" width="5" height="31" fill="#d0002c"/><rect x="1259" y="632" width="1" height="109" fill="#000"/><rect x="1257" y="705" width="5" height="6" fill="#000"/><rect x="1264" y="747" width="1" height="99" fill="#d0002c"/><rect x="1262" y="750" width="5" height="66" fill="#d0002c"/><rect x="1269" y="821" width="1" height="109" fill="#d0002c"/><rect x="1267" y="821" width="5" height="90" fill="#d0002c"/><rect x="1274" y="876" width="1" height="61" fill="#d0002c"/><rect x="1272" y="878" width="5" height="50" fill="#d0002c"/><rect x="1279" y="770" width="1" height="137" fill="#000"/><rect x="1277" y="859" width="5" height="2" fill="#000"/><rect x="1284" y="702" width="1" height="104" fill="#000"/><rect x="1282" y="716" width="5" height="58" fill="#000"/><rect x="1289" y="752" width="1" height="92" fill="#000"/><rect x="1287" y="754" width="5" height="54" fill="#000"/><rect x="1288" y="755" width="3" height="52" fill="#fff"/><rect x="1294" y="525" width="1" height="304" fill="#d0002c"/><rect x="1292" y="723" width="5" height="55" fill="#d0002c"/><rect x="1299" y="755" width="1" height="98" fill="#d0002c"/><rect x="1297" y="777" width="5" height="72" fill="#d0002c"/><rect x="1304" y="815" width="1" height="59" fill="#d0002c"/><rect x="1302" y="856" width="5" height="5" fill="#d0002c"/><rect x="1309" y="796" width="1" height="76" fill="#000"/><rect x="1307" y="809" width="5" height="25" fill="#000"/><rect x="1314" y="743" width="1" height="115" fill="#d0002c"/><rect x="1312" y="822" width="5" height="28" fill="#d0002c"/><rect x="1319" y="869" width="1" height="109" fill="#d0002c"/><rect x="1317" y="878" width="5" height="95" fill="#d0002c"/><rect x="1324" y="952" width="1" height="66" fill="#000"/><rect x="1322" y="970" width="5" height="2" fill="#000"/><rect x="1329" y="973" width="1" height="49" fill="#d0002c"/><rect x="1327" y="976" width="5" height="45" fill="#d0002c"/><rect x="1334" y="952" width="1" height="61" fill="#000"/><rect x="1332" y="996" width="5" height="14" fill="#000"/><rect x="1339" y="889" width="1" height="155" fill="#000"/><rect x="1337" y="906" width="5" height="113" fill="#000"/><rect x="1338" y="907" width="3" height="111" fill="#fff"/></g>
<g clip-path="url(#cSS)" shape-rendering="crispEdges"><rect x="1244" y="1568" width="1" height="27" fill="#000"/><rect x="1242" y="1569" width="5" height="14" fill="#000"/><rect x="1249" y="1499" width="1" height="93" fill="#000"/><rect x="1247" y="1500" width="5" height="80" fill="#000"/><rect x="1248" y="1501" width="3" height="78" fill="#fff"/><rect x="1254" y="1365" width="1" height="92" fill="#000"/><rect x="1252" y="1378" width="5" height="78" fill="#000"/><rect x="1253" y="1379" width="3" height="76" fill="#fff"/><rect x="1259" y="1418" width="1" height="146" fill="#000"/><rect x="1257" y="1425" width="5" height="71" fill="#000"/><rect x="1264" y="1465" width="1" height="59" fill="#000"/><rect x="1262" y="1484" width="5" height="22" fill="#000"/><rect x="1269" y="1403" width="1" height="89" fill="#000"/><rect x="1267" y="1415" width="5" height="49" fill="#000"/><rect x="1268" y="1416" width="3" height="47" fill="#fff"/><rect x="1274" y="1352" width="1" height="92" fill="#000"/><rect x="1272" y="1376" width="5" height="32" fill="#000"/><rect x="1273" y="1377" width="3" height="30" fill="#fff"/><rect x="1279" y="1408" width="1" height="69" fill="#000"/><rect x="1277" y="1425" width="5" height="9" fill="#000"/><rect x="1278" y="1426" width="3" height="7" fill="#fff"/><rect x="1284" y="1392" width="1" height="82" fill="#000"/><rect x="1282" y="1404" width="5" height="31" fill="#000"/><rect x="1283" y="1405" width="3" height="29" fill="#fff"/><rect x="1289" y="1324" width="1" height="143" fill="#000"/><rect x="1287" y="1340" width="5" height="123" fill="#000"/><rect x="1294" y="1404" width="1" height="157" fill="#000"/><rect x="1292" y="1414" width="5" height="23" fill="#000"/><rect x="1293" y="1415" width="3" height="21" fill="#fff"/><rect x="1299" y="1318" width="1" height="102" fill="#000"/><rect x="1297" y="1336" width="5" height="81" fill="#000"/><rect x="1298" y="1337" width="3" height="79" fill="#fff"/><rect x="1304" y="1292" width="1" height="74" fill="#000"/><rect x="1302" y="1299" width="5" height="40" fill="#000"/><rect x="1309" y="1244" width="1" height="78" fill="#000"/><rect x="1307" y="1316" width="5" height="3" fill="#000"/><rect x="1308" y="1317" width="3" height="1" fill="#fff"/><rect x="1314" y="1291" width="1" height="82" fill="#000"/><rect x="1312" y="1307" width="5" height="8" fill="#000"/><rect x="1313" y="1308" width="3" height="6" fill="#fff"/><rect x="1319" y="1187" width="1" height="103" fill="#000"/><rect x="1317" y="1192" width="5" height="75" fill="#000"/><rect x="1318" y="1193" width="3" height="73" fill="#fff"/><rect x="1324" y="1138" width="1" height="51" fill="#000"/><rect x="1322" y="1168" width="5" height="14" fill="#000"/><rect x="1329" y="1104" width="1" height="66" fill="#000"/><rect x="1327" y="1121" width="5" height="45" fill="#000"/><rect x="1328" y="1122" width="3" height="43" fill="#fff"/><rect x="1334" y="1092" width="1" height="61" fill="#000"/><rect x="1332" y="1100" width="5" height="19" fill="#000"/><rect x="1339" y="1072" width="1" height="109" fill="#000"/><rect x="1337" y="1081" width="5" height="84" fill="#000"/></g>
<rect x="195.5" y="526.5" width="31" height="270" fill="none" stroke="#ff0000" stroke-width="1" shape-rendering="crispEdges"/>
<rect x="283.5" y="794.5" width="26" height="17" fill="none" stroke="#ff0000" stroke-width="1" shape-rendering="crispEdges"/>
<rect x="353.5" y="789.5" width="30" height="21" fill="none" stroke="#ff0000" stroke-width="1" shape-rendering="crispEdges"/>
<rect x="577.5" y="755.5" width="35" height="61" fill="none" stroke="#ff0000" stroke-width="1" shape-rendering="crispEdges"/>
<rect x="724.5" y="773.5" width="24" height="38" fill="none" stroke="#ff0000" stroke-width="1" shape-rendering="crispEdges"/>
<rect x="835.5" y="545.5" width="37" height="269" fill="none" stroke="#ff0000" stroke-width="1" shape-rendering="crispEdges"/>
<rect x="1090.5" y="675.5" width="20" height="136" fill="none" stroke="#ff0000" stroke-width="1" shape-rendering="crispEdges"/>
<rect x="1133.5" y="782.5" width="21" height="31" fill="none" stroke="#ff0000" stroke-width="1" shape-rendering="crispEdges"/>
<path d="M17 814.5H1196" stroke="#0000ff" stroke-width="1.4" stroke-dasharray="4 2"/>
<path d="M17 1871H1196" stroke="#ff0000" stroke-width="2" stroke-dasharray="4 2"/>
<path d="M17 1875H1196" stroke="#ff0000" stroke-width="2" stroke-dasharray="4 2"/>
<text x="391.2" y="681.2" style="font-family:'Liberation Sans',sans-serif;font-weight:bold;font-size:30px;fill:#0000ff" textLength="162" lengthAdjust="spacingAndGlyphs">VIX - DAILY</text>
<text x="360" y="1264.8" style="font-family:'Liberation Sans',sans-serif;font-weight:bold;font-size:30px;fill:#0000ff" textLength="204.3" lengthAdjust="spacingAndGlyphs">SP500 - DAILY</text>
<text x="743.1" y="1771.2" style="font-family:'Liberation Sans',sans-serif;font-weight:bold;font-size:30px;fill:#0000ff" textLength="260" lengthAdjust="spacingAndGlyphs">Roc % (3 day) &gt; 65</text>
<rect x="112.0" y="1558.3" width="4" height="257.60000000000014" fill="#ff0000"/>
<rect x="292.9" y="1577.6" width="3" height="265.8000000000002" fill="#ff0000"/>
<rect x="365.0" y="1574.5" width="3" height="179.5" fill="#ff0000"/>
<rect x="596.0" y="1504.2" width="4" height="108.70000000000005" fill="#ff0000"/>
<rect x="735.0" y="1441.2" width="2" height="146.5999999999999" fill="#ff0000"/>
<rect x="851.0" y="1463" width="2" height="260.5" fill="#ff0000"/>
<rect x="1101.0" y="1208.6" width="2" height="473.4000000000001" fill="#ff0000"/>
<rect x="1140.5" y="1204" width="2" height="522" fill="#ff0000"/>
<path d="M113 1533.1L121 1540.6H117V1549.1H109V1540.6H105Z" fill="#0000ff"/>
<path d="M298.9 1561.2L306.9 1568.7H302.9V1577.2H294.9V1568.7H290.9Z" fill="#0000ff"/>
<path d="M363.9 1558.1L371.9 1565.6H367.9V1574.1H359.9V1565.6H355.9Z" fill="#0000ff"/>
<path d="M596.9 1486.2L604.9 1493.7H600.9V1502.2H592.9V1493.7H588.9Z" fill="#0000ff"/>
<path d="M742.9 1428.2L750.9 1435.7H746.9V1444.2H738.9V1435.7H734.9Z" fill="#0000ff"/>
<path d="M850.9 1443L858.9 1450.5H854.9V1459H846.9V1450.5H842.9Z" fill="#0000ff"/>
<path d="M1104 1195L1112 1202.5H1108V1211H1100V1202.5H1096Z" fill="#0000ff"/>
<path d="M1143.3 1197.5L1151.3 1205.0H1147.3V1213.5H1139.3V1205.0H1135.3Z" fill="#0000ff"/>
</svg></body></html>
